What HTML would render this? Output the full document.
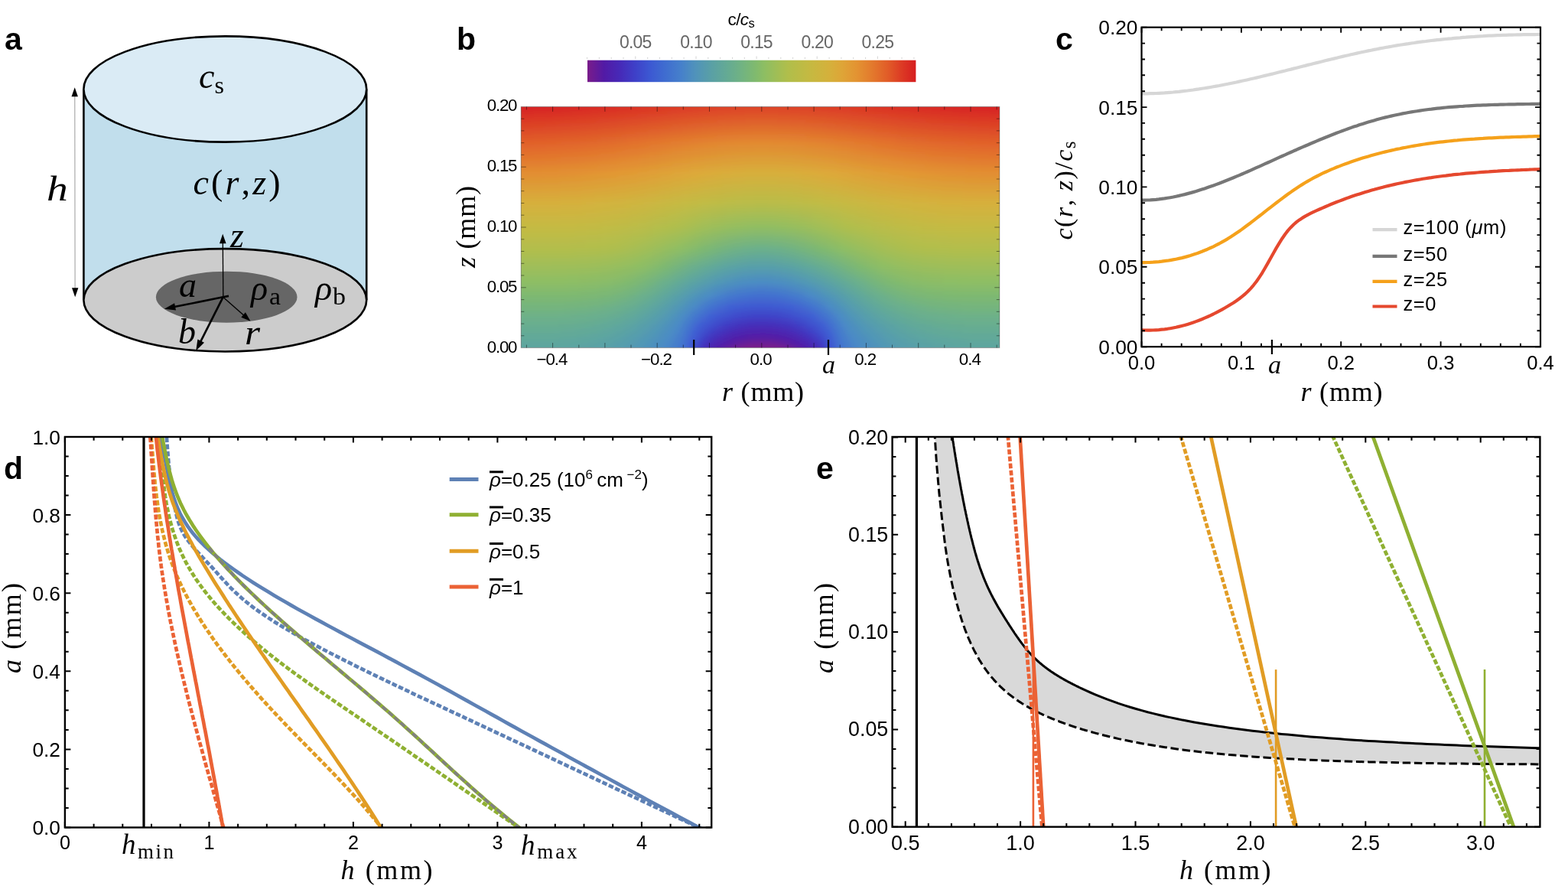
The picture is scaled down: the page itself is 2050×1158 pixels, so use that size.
<!DOCTYPE html><html><head><meta charset="utf-8"><style>html,body{margin:0;padding:0;background:#fff;overflow:hidden}svg{display:block}</style></head><body>
<svg width="2050" height="1158" viewBox="0 0 2050 1158">
<rect width="2050" height="1158" fill="#ffffff"/>
<text x="6" y="65" style="font-family:'Liberation Sans',sans-serif;font-size:41px" text-anchor="start" font-weight="bold">a</text>
<rect x="109.4" y="116.5" width="369.8" height="275.5" fill="#c1deec"/>
<line x1="109.4" y1="116.5" x2="109.4" y2="392" stroke="#000" stroke-width="2.6"/>
<line x1="479.2" y1="116.5" x2="479.2" y2="392" stroke="#000" stroke-width="2.6"/>
<ellipse cx="294.3" cy="392.3" rx="184.9" ry="67.2" fill="#cccccc" stroke="#000" stroke-width="2.6"/>
<ellipse cx="296.2" cy="388.2" rx="92.3" ry="33.5" fill="#666666"/>
<ellipse cx="294.3" cy="116.5" rx="184.9" ry="69.1" fill="#daebf5" stroke="#000" stroke-width="2.6"/>
<line x1="97.8" y1="124" x2="98.1" y2="378" stroke="#9a9a9a" stroke-width="1"/>
<path d="M97.7 114.2 L101.9 126.2 L93.5 126.2 Z" fill="#000"/>
<path d="M98.2 388.2 L94 376.2 L102.4 376.2 Z" fill="#000"/>
<line x1="291.8" y1="388.3" x2="291.3" y2="317.3" stroke="#000" stroke-width="1.3"/>
<path d="M291.2 305.8 L295.6 318.3 L287 318.3 Z" fill="#000"/>
<line x1="291.6" y1="388.3" x2="318.9" y2="412.2" stroke="#000" stroke-width="1.4"/>
<path d="M327.5 419.8 L315.3 414.8 L320.9 408.3 Z" fill="#000"/>
<line x1="291.6" y1="388.3" x2="299" y2="386.9" stroke="#000" stroke-width="2.6"/>
<line x1="291.6" y1="388.3" x2="228" y2="401.1" stroke="#000" stroke-width="2.6"/>
<path d="M214.8 403.8 L228.1 396.2 L230 405.6 Z" fill="#000"/>
<line x1="291.6" y1="388.3" x2="262.3" y2="446.4" stroke="#000" stroke-width="2.6"/>
<path d="M256.2 458.5 L258.4 443.4 L267 447.7 Z" fill="#000"/>
<text x="260" y="115" style="font-family:'Liberation Serif',serif;font-style:italic;font-size:46px" text-anchor="start" >c</text>
<text x="280.5" y="122" style="font-family:'Liberation Serif',serif;font-size:32px" text-anchor="start" >s</text>
<text transform="translate(61,262) scale(1.18,1)" x="0" y="0" style="font-family:'Liberation Serif',serif;font-style:italic;font-size:47px">h</text>
<text x="252.5" y="254" style="font-family:'Liberation Serif',serif;font-size:46px" textLength="114" lengthAdjust="spacing" ><tspan font-style="italic">c</tspan>(<tspan font-style="italic">r</tspan>,<tspan font-style="italic">z</tspan>)</text>
<text x="301" y="323" style="font-family:'Liberation Serif',serif;font-style:italic;font-size:46px" text-anchor="start" >z</text>
<text x="234" y="388" style="font-family:'Liberation Serif',serif;font-style:italic;font-size:46px" text-anchor="start" >a</text>
<text x="328" y="392" style="font-family:'Liberation Serif',serif;font-style:italic;font-size:46px" text-anchor="start" >&#961;</text>
<text x="352" y="398" style="font-family:'Liberation Serif',serif;font-size:32px" textLength="15" lengthAdjust="spacingAndGlyphs">a</text>
<text x="412" y="392" style="font-family:'Liberation Serif',serif;font-style:italic;font-size:46px" text-anchor="start" >&#961;</text>
<text x="435" y="398" style="font-family:'Liberation Serif',serif;font-size:32px" textLength="17" lengthAdjust="spacingAndGlyphs">b</text>
<text x="233" y="449" style="font-family:'Liberation Serif',serif;font-style:italic;font-size:46px" text-anchor="start" >b</text>
<text transform="translate(320,450) scale(1.12,1)" x="0" y="0" style="font-family:'Liberation Serif',serif;font-style:italic;font-size:46px">r</text>
<text x="597" y="65" style="font-family:'Liberation Sans',sans-serif;font-size:41px" text-anchor="start" font-weight="bold">b</text>
<defs><linearGradient id="cbar" x1="0" x2="1" y1="0" y2="0">
<stop offset="0.000" stop-color="#7a1c8a"/>
<stop offset="0.050" stop-color="#521aa5"/>
<stop offset="0.100" stop-color="#462ab8"/>
<stop offset="0.145" stop-color="#3e40c8"/>
<stop offset="0.190" stop-color="#3c58d2"/>
<stop offset="0.235" stop-color="#3f6cd0"/>
<stop offset="0.285" stop-color="#4680cb"/>
<stop offset="0.330" stop-color="#5093ba"/>
<stop offset="0.378" stop-color="#5aa0a5"/>
<stop offset="0.425" stop-color="#64aa94"/>
<stop offset="0.470" stop-color="#71b382"/>
<stop offset="0.512" stop-color="#80ba6e"/>
<stop offset="0.540" stop-color="#8ebe62"/>
<stop offset="0.610" stop-color="#b0be4b"/>
<stop offset="0.680" stop-color="#c6b941"/>
<stop offset="0.738" stop-color="#d5b03b"/>
<stop offset="0.775" stop-color="#dea537"/>
<stop offset="0.820" stop-color="#e39332"/>
<stop offset="0.866" stop-color="#e37a2d"/>
<stop offset="0.913" stop-color="#e15d28"/>
<stop offset="0.960" stop-color="#dc3824"/>
<stop offset="1.000" stop-color="#d61e20"/>
</linearGradient>
<linearGradient id="h0" x1="0" x2="0" y1="454.6" y2="139.4" gradientUnits="userSpaceOnUse">
<stop offset="0.000" stop-color="#5ba49f"/>
<stop offset="0.020" stop-color="#5ea69c"/>
<stop offset="0.040" stop-color="#60a899"/>
<stop offset="0.065" stop-color="#63aa94"/>
<stop offset="0.095" stop-color="#67ad8f"/>
<stop offset="0.130" stop-color="#6cb087"/>
<stop offset="0.170" stop-color="#74b47c"/>
<stop offset="0.215" stop-color="#7db870"/>
<stop offset="0.270" stop-color="#8cbd64"/>
<stop offset="0.335" stop-color="#9ebe58"/>
<stop offset="0.410" stop-color="#b2bd4a"/>
<stop offset="0.500" stop-color="#c4ba42"/>
<stop offset="0.600" stop-color="#d6af3b"/>
<stop offset="0.725" stop-color="#e28c30"/>
<stop offset="0.850" stop-color="#e15e28"/>
<stop offset="1.000" stop-color="#d61f20"/>
</linearGradient>
<linearGradient id="h1" x1="0" x2="0" y1="454.6" y2="139.4" gradientUnits="userSpaceOnUse">
<stop offset="0.000" stop-color="#5ba49f"/>
<stop offset="0.020" stop-color="#5ea69c"/>
<stop offset="0.040" stop-color="#60a899"/>
<stop offset="0.065" stop-color="#63aa94"/>
<stop offset="0.095" stop-color="#67ad8f"/>
<stop offset="0.130" stop-color="#6cb087"/>
<stop offset="0.170" stop-color="#74b47c"/>
<stop offset="0.215" stop-color="#7db870"/>
<stop offset="0.270" stop-color="#8cbd64"/>
<stop offset="0.335" stop-color="#9ebe58"/>
<stop offset="0.410" stop-color="#b2bd4a"/>
<stop offset="0.500" stop-color="#c4ba42"/>
<stop offset="0.600" stop-color="#d6af3b"/>
<stop offset="0.725" stop-color="#e28c30"/>
<stop offset="0.850" stop-color="#e15e28"/>
<stop offset="1.000" stop-color="#d61f20"/>
</linearGradient>
<linearGradient id="h2" x1="0" x2="0" y1="454.6" y2="139.4" gradientUnits="userSpaceOnUse">
<stop offset="0.000" stop-color="#5ba49f"/>
<stop offset="0.020" stop-color="#5ea69c"/>
<stop offset="0.040" stop-color="#60a899"/>
<stop offset="0.065" stop-color="#63aa94"/>
<stop offset="0.095" stop-color="#67ad8f"/>
<stop offset="0.130" stop-color="#6cb087"/>
<stop offset="0.170" stop-color="#74b47c"/>
<stop offset="0.215" stop-color="#7db870"/>
<stop offset="0.270" stop-color="#8cbd64"/>
<stop offset="0.335" stop-color="#9ebe58"/>
<stop offset="0.410" stop-color="#b2bd4a"/>
<stop offset="0.500" stop-color="#c4ba42"/>
<stop offset="0.600" stop-color="#d6af3b"/>
<stop offset="0.725" stop-color="#e28c30"/>
<stop offset="0.850" stop-color="#e15e28"/>
<stop offset="1.000" stop-color="#d61f20"/>
</linearGradient>
<linearGradient id="h3" x1="0" x2="0" y1="454.6" y2="139.4" gradientUnits="userSpaceOnUse">
<stop offset="0.000" stop-color="#5ba49f"/>
<stop offset="0.020" stop-color="#5ea69c"/>
<stop offset="0.040" stop-color="#60a899"/>
<stop offset="0.065" stop-color="#63aa94"/>
<stop offset="0.095" stop-color="#67ad8f"/>
<stop offset="0.130" stop-color="#6cb087"/>
<stop offset="0.170" stop-color="#74b47c"/>
<stop offset="0.215" stop-color="#7db870"/>
<stop offset="0.270" stop-color="#8cbd64"/>
<stop offset="0.335" stop-color="#9ebe58"/>
<stop offset="0.410" stop-color="#b2bd4a"/>
<stop offset="0.500" stop-color="#c4ba42"/>
<stop offset="0.600" stop-color="#d6af3b"/>
<stop offset="0.725" stop-color="#e28c30"/>
<stop offset="0.850" stop-color="#e15f28"/>
<stop offset="1.000" stop-color="#d62020"/>
</linearGradient>
<linearGradient id="h4" x1="0" x2="0" y1="454.6" y2="139.4" gradientUnits="userSpaceOnUse">
<stop offset="0.000" stop-color="#5ba49f"/>
<stop offset="0.020" stop-color="#5ea69c"/>
<stop offset="0.040" stop-color="#60a899"/>
<stop offset="0.065" stop-color="#63aa94"/>
<stop offset="0.095" stop-color="#67ad8f"/>
<stop offset="0.130" stop-color="#6cb087"/>
<stop offset="0.170" stop-color="#74b47c"/>
<stop offset="0.215" stop-color="#7db870"/>
<stop offset="0.270" stop-color="#8cbd64"/>
<stop offset="0.335" stop-color="#9ebe58"/>
<stop offset="0.410" stop-color="#b2bd4a"/>
<stop offset="0.500" stop-color="#c4ba42"/>
<stop offset="0.600" stop-color="#d6af3b"/>
<stop offset="0.725" stop-color="#e28c30"/>
<stop offset="0.850" stop-color="#e15f28"/>
<stop offset="1.000" stop-color="#d62020"/>
</linearGradient>
<linearGradient id="h5" x1="0" x2="0" y1="454.6" y2="139.4" gradientUnits="userSpaceOnUse">
<stop offset="0.000" stop-color="#5ba49f"/>
<stop offset="0.020" stop-color="#5ea69c"/>
<stop offset="0.040" stop-color="#60a899"/>
<stop offset="0.065" stop-color="#63aa94"/>
<stop offset="0.095" stop-color="#67ad8f"/>
<stop offset="0.130" stop-color="#6cb087"/>
<stop offset="0.170" stop-color="#74b47c"/>
<stop offset="0.215" stop-color="#7db870"/>
<stop offset="0.270" stop-color="#8cbd64"/>
<stop offset="0.335" stop-color="#9ebe58"/>
<stop offset="0.410" stop-color="#b2bd4a"/>
<stop offset="0.500" stop-color="#c4ba42"/>
<stop offset="0.600" stop-color="#d6af3b"/>
<stop offset="0.725" stop-color="#e28d30"/>
<stop offset="0.850" stop-color="#e15f28"/>
<stop offset="1.000" stop-color="#d62020"/>
</linearGradient>
<linearGradient id="h6" x1="0" x2="0" y1="454.6" y2="139.4" gradientUnits="userSpaceOnUse">
<stop offset="0.000" stop-color="#5ba49f"/>
<stop offset="0.020" stop-color="#5ea69c"/>
<stop offset="0.040" stop-color="#60a899"/>
<stop offset="0.065" stop-color="#63aa94"/>
<stop offset="0.095" stop-color="#67ad8f"/>
<stop offset="0.130" stop-color="#6cb087"/>
<stop offset="0.170" stop-color="#74b47c"/>
<stop offset="0.215" stop-color="#7db870"/>
<stop offset="0.270" stop-color="#8cbd64"/>
<stop offset="0.335" stop-color="#9ebe58"/>
<stop offset="0.410" stop-color="#b2bd4a"/>
<stop offset="0.500" stop-color="#c4ba42"/>
<stop offset="0.600" stop-color="#d6af3b"/>
<stop offset="0.725" stop-color="#e28d30"/>
<stop offset="0.850" stop-color="#e15f28"/>
<stop offset="1.000" stop-color="#d72020"/>
</linearGradient>
<linearGradient id="h7" x1="0" x2="0" y1="454.6" y2="139.4" gradientUnits="userSpaceOnUse">
<stop offset="0.000" stop-color="#5ba49f"/>
<stop offset="0.020" stop-color="#5ea69c"/>
<stop offset="0.040" stop-color="#60a899"/>
<stop offset="0.065" stop-color="#63aa94"/>
<stop offset="0.095" stop-color="#67ad8f"/>
<stop offset="0.130" stop-color="#6cb087"/>
<stop offset="0.170" stop-color="#74b47c"/>
<stop offset="0.215" stop-color="#7db870"/>
<stop offset="0.270" stop-color="#8cbd64"/>
<stop offset="0.335" stop-color="#9ebe58"/>
<stop offset="0.410" stop-color="#b2bd4a"/>
<stop offset="0.500" stop-color="#c4ba42"/>
<stop offset="0.600" stop-color="#d6af3b"/>
<stop offset="0.725" stop-color="#e28d30"/>
<stop offset="0.850" stop-color="#e16028"/>
<stop offset="1.000" stop-color="#d72120"/>
</linearGradient>
<linearGradient id="h8" x1="0" x2="0" y1="454.6" y2="139.4" gradientUnits="userSpaceOnUse">
<stop offset="0.000" stop-color="#5ba49f"/>
<stop offset="0.020" stop-color="#5ea69c"/>
<stop offset="0.040" stop-color="#60a899"/>
<stop offset="0.065" stop-color="#63aa94"/>
<stop offset="0.095" stop-color="#67ad8f"/>
<stop offset="0.130" stop-color="#6cb087"/>
<stop offset="0.170" stop-color="#74b47c"/>
<stop offset="0.215" stop-color="#7db870"/>
<stop offset="0.270" stop-color="#8cbd64"/>
<stop offset="0.335" stop-color="#9ebe58"/>
<stop offset="0.410" stop-color="#b2bd4a"/>
<stop offset="0.500" stop-color="#c4ba42"/>
<stop offset="0.600" stop-color="#d6af3b"/>
<stop offset="0.725" stop-color="#e28d30"/>
<stop offset="0.850" stop-color="#e16028"/>
<stop offset="1.000" stop-color="#d72120"/>
</linearGradient>
<linearGradient id="h9" x1="0" x2="0" y1="454.6" y2="139.4" gradientUnits="userSpaceOnUse">
<stop offset="0.000" stop-color="#5ba49f"/>
<stop offset="0.020" stop-color="#5ea69c"/>
<stop offset="0.040" stop-color="#60a899"/>
<stop offset="0.065" stop-color="#63aa94"/>
<stop offset="0.095" stop-color="#67ad8f"/>
<stop offset="0.130" stop-color="#6cb087"/>
<stop offset="0.170" stop-color="#74b47c"/>
<stop offset="0.215" stop-color="#7db870"/>
<stop offset="0.270" stop-color="#8cbd64"/>
<stop offset="0.335" stop-color="#9ebe58"/>
<stop offset="0.410" stop-color="#b2bd4a"/>
<stop offset="0.500" stop-color="#c4ba42"/>
<stop offset="0.600" stop-color="#d6af3b"/>
<stop offset="0.725" stop-color="#e28d30"/>
<stop offset="0.850" stop-color="#e16028"/>
<stop offset="1.000" stop-color="#d72120"/>
</linearGradient>
<linearGradient id="h10" x1="0" x2="0" y1="454.6" y2="139.4" gradientUnits="userSpaceOnUse">
<stop offset="0.000" stop-color="#5ba49f"/>
<stop offset="0.020" stop-color="#5ea69c"/>
<stop offset="0.040" stop-color="#60a899"/>
<stop offset="0.065" stop-color="#63aa94"/>
<stop offset="0.095" stop-color="#67ad8f"/>
<stop offset="0.130" stop-color="#6cb087"/>
<stop offset="0.170" stop-color="#74b47c"/>
<stop offset="0.215" stop-color="#7db870"/>
<stop offset="0.270" stop-color="#8cbd64"/>
<stop offset="0.335" stop-color="#9ebe58"/>
<stop offset="0.410" stop-color="#b2bd4a"/>
<stop offset="0.500" stop-color="#c4ba42"/>
<stop offset="0.600" stop-color="#d6af3b"/>
<stop offset="0.725" stop-color="#e28d30"/>
<stop offset="0.850" stop-color="#e16028"/>
<stop offset="1.000" stop-color="#d72120"/>
</linearGradient>
<linearGradient id="h11" x1="0" x2="0" y1="454.6" y2="139.4" gradientUnits="userSpaceOnUse">
<stop offset="0.000" stop-color="#5ba49f"/>
<stop offset="0.020" stop-color="#5ea69c"/>
<stop offset="0.040" stop-color="#60a899"/>
<stop offset="0.065" stop-color="#63aa94"/>
<stop offset="0.095" stop-color="#67ad8f"/>
<stop offset="0.130" stop-color="#6cb087"/>
<stop offset="0.170" stop-color="#74b47c"/>
<stop offset="0.215" stop-color="#7db870"/>
<stop offset="0.270" stop-color="#8cbd64"/>
<stop offset="0.335" stop-color="#9ebe58"/>
<stop offset="0.410" stop-color="#b2bd4a"/>
<stop offset="0.500" stop-color="#c4ba42"/>
<stop offset="0.600" stop-color="#d6af3b"/>
<stop offset="0.725" stop-color="#e28e30"/>
<stop offset="0.850" stop-color="#e16128"/>
<stop offset="1.000" stop-color="#d72221"/>
</linearGradient>
<linearGradient id="h12" x1="0" x2="0" y1="454.6" y2="139.4" gradientUnits="userSpaceOnUse">
<stop offset="0.000" stop-color="#5ba49f"/>
<stop offset="0.020" stop-color="#5ea69c"/>
<stop offset="0.040" stop-color="#60a899"/>
<stop offset="0.065" stop-color="#63aa94"/>
<stop offset="0.095" stop-color="#67ad8f"/>
<stop offset="0.130" stop-color="#6cb087"/>
<stop offset="0.170" stop-color="#74b47c"/>
<stop offset="0.215" stop-color="#7db870"/>
<stop offset="0.270" stop-color="#8cbd64"/>
<stop offset="0.335" stop-color="#9ebe58"/>
<stop offset="0.410" stop-color="#b2bd4a"/>
<stop offset="0.500" stop-color="#c4ba42"/>
<stop offset="0.600" stop-color="#d6af3b"/>
<stop offset="0.725" stop-color="#e28e30"/>
<stop offset="0.850" stop-color="#e16128"/>
<stop offset="1.000" stop-color="#d72221"/>
</linearGradient>
<linearGradient id="h13" x1="0" x2="0" y1="454.6" y2="139.4" gradientUnits="userSpaceOnUse">
<stop offset="0.000" stop-color="#5ba49f"/>
<stop offset="0.020" stop-color="#5ea69c"/>
<stop offset="0.040" stop-color="#60a899"/>
<stop offset="0.065" stop-color="#63aa94"/>
<stop offset="0.095" stop-color="#67ad8f"/>
<stop offset="0.130" stop-color="#6cb087"/>
<stop offset="0.170" stop-color="#74b47c"/>
<stop offset="0.215" stop-color="#7db870"/>
<stop offset="0.270" stop-color="#8cbd64"/>
<stop offset="0.335" stop-color="#9dbe58"/>
<stop offset="0.410" stop-color="#b2bd4a"/>
<stop offset="0.500" stop-color="#c4ba42"/>
<stop offset="0.600" stop-color="#d6af3b"/>
<stop offset="0.725" stop-color="#e28e30"/>
<stop offset="0.850" stop-color="#e16128"/>
<stop offset="1.000" stop-color="#d72221"/>
</linearGradient>
<linearGradient id="h14" x1="0" x2="0" y1="454.6" y2="139.4" gradientUnits="userSpaceOnUse">
<stop offset="0.000" stop-color="#5ba4a0"/>
<stop offset="0.020" stop-color="#5da69c"/>
<stop offset="0.040" stop-color="#60a799"/>
<stop offset="0.065" stop-color="#63aa95"/>
<stop offset="0.095" stop-color="#67ad8f"/>
<stop offset="0.130" stop-color="#6cb087"/>
<stop offset="0.170" stop-color="#74b47d"/>
<stop offset="0.215" stop-color="#7db870"/>
<stop offset="0.270" stop-color="#8cbd64"/>
<stop offset="0.335" stop-color="#9dbe58"/>
<stop offset="0.410" stop-color="#b2bd4a"/>
<stop offset="0.500" stop-color="#c4ba42"/>
<stop offset="0.600" stop-color="#d6af3b"/>
<stop offset="0.725" stop-color="#e28e30"/>
<stop offset="0.850" stop-color="#e16228"/>
<stop offset="1.000" stop-color="#d72321"/>
</linearGradient>
<linearGradient id="h15" x1="0" x2="0" y1="454.6" y2="139.4" gradientUnits="userSpaceOnUse">
<stop offset="0.000" stop-color="#5ba4a0"/>
<stop offset="0.020" stop-color="#5da69d"/>
<stop offset="0.040" stop-color="#60a799"/>
<stop offset="0.065" stop-color="#63aa95"/>
<stop offset="0.095" stop-color="#66ac8f"/>
<stop offset="0.130" stop-color="#6cb088"/>
<stop offset="0.170" stop-color="#74b47d"/>
<stop offset="0.215" stop-color="#7db870"/>
<stop offset="0.270" stop-color="#8cbd64"/>
<stop offset="0.335" stop-color="#9dbe58"/>
<stop offset="0.410" stop-color="#b2bd4a"/>
<stop offset="0.500" stop-color="#c4ba42"/>
<stop offset="0.600" stop-color="#d6af3b"/>
<stop offset="0.725" stop-color="#e28e30"/>
<stop offset="0.850" stop-color="#e16228"/>
<stop offset="1.000" stop-color="#d72321"/>
</linearGradient>
<linearGradient id="h16" x1="0" x2="0" y1="454.6" y2="139.4" gradientUnits="userSpaceOnUse">
<stop offset="0.000" stop-color="#5ba4a0"/>
<stop offset="0.020" stop-color="#5da69d"/>
<stop offset="0.040" stop-color="#5fa79a"/>
<stop offset="0.065" stop-color="#62a995"/>
<stop offset="0.095" stop-color="#66ac8f"/>
<stop offset="0.130" stop-color="#6cb088"/>
<stop offset="0.170" stop-color="#74b47d"/>
<stop offset="0.215" stop-color="#7db870"/>
<stop offset="0.270" stop-color="#8cbd64"/>
<stop offset="0.335" stop-color="#9dbe58"/>
<stop offset="0.410" stop-color="#b2bd4a"/>
<stop offset="0.500" stop-color="#c4ba42"/>
<stop offset="0.600" stop-color="#d5b03b"/>
<stop offset="0.725" stop-color="#e28f31"/>
<stop offset="0.850" stop-color="#e16229"/>
<stop offset="1.000" stop-color="#d72321"/>
</linearGradient>
<linearGradient id="h17" x1="0" x2="0" y1="454.6" y2="139.4" gradientUnits="userSpaceOnUse">
<stop offset="0.000" stop-color="#5ba4a0"/>
<stop offset="0.020" stop-color="#5da59d"/>
<stop offset="0.040" stop-color="#5fa79a"/>
<stop offset="0.065" stop-color="#62a995"/>
<stop offset="0.095" stop-color="#66ac90"/>
<stop offset="0.130" stop-color="#6bb088"/>
<stop offset="0.170" stop-color="#73b37d"/>
<stop offset="0.215" stop-color="#7db870"/>
<stop offset="0.270" stop-color="#8bbd64"/>
<stop offset="0.335" stop-color="#9dbe58"/>
<stop offset="0.410" stop-color="#b2bd4a"/>
<stop offset="0.500" stop-color="#c4ba42"/>
<stop offset="0.600" stop-color="#d5b03b"/>
<stop offset="0.725" stop-color="#e28f31"/>
<stop offset="0.850" stop-color="#e16329"/>
<stop offset="1.000" stop-color="#d72421"/>
</linearGradient>
<linearGradient id="h18" x1="0" x2="0" y1="454.6" y2="139.4" gradientUnits="userSpaceOnUse">
<stop offset="0.000" stop-color="#5ba3a1"/>
<stop offset="0.020" stop-color="#5da59e"/>
<stop offset="0.040" stop-color="#5fa79a"/>
<stop offset="0.065" stop-color="#62a996"/>
<stop offset="0.095" stop-color="#66ac90"/>
<stop offset="0.130" stop-color="#6bb088"/>
<stop offset="0.170" stop-color="#73b37d"/>
<stop offset="0.215" stop-color="#7db870"/>
<stop offset="0.270" stop-color="#8bbd65"/>
<stop offset="0.335" stop-color="#9dbd58"/>
<stop offset="0.410" stop-color="#b2bd4a"/>
<stop offset="0.500" stop-color="#c4ba42"/>
<stop offset="0.600" stop-color="#d5b03b"/>
<stop offset="0.725" stop-color="#e28f31"/>
<stop offset="0.850" stop-color="#e16329"/>
<stop offset="1.000" stop-color="#d72421"/>
</linearGradient>
<linearGradient id="h19" x1="0" x2="0" y1="454.6" y2="139.4" gradientUnits="userSpaceOnUse">
<stop offset="0.000" stop-color="#5aa3a1"/>
<stop offset="0.020" stop-color="#5ca59e"/>
<stop offset="0.040" stop-color="#5fa79b"/>
<stop offset="0.065" stop-color="#62a996"/>
<stop offset="0.095" stop-color="#66ac90"/>
<stop offset="0.130" stop-color="#6baf89"/>
<stop offset="0.170" stop-color="#73b37e"/>
<stop offset="0.215" stop-color="#7db871"/>
<stop offset="0.270" stop-color="#8bbd65"/>
<stop offset="0.335" stop-color="#9dbd58"/>
<stop offset="0.410" stop-color="#b1bd4a"/>
<stop offset="0.500" stop-color="#c4ba42"/>
<stop offset="0.600" stop-color="#d5b03b"/>
<stop offset="0.725" stop-color="#e29031"/>
<stop offset="0.850" stop-color="#e16329"/>
<stop offset="1.000" stop-color="#d72521"/>
</linearGradient>
<linearGradient id="h20" x1="0" x2="0" y1="454.6" y2="139.4" gradientUnits="userSpaceOnUse">
<stop offset="0.000" stop-color="#5aa3a2"/>
<stop offset="0.020" stop-color="#5ca59e"/>
<stop offset="0.040" stop-color="#5ea79b"/>
<stop offset="0.065" stop-color="#62a996"/>
<stop offset="0.095" stop-color="#66ac91"/>
<stop offset="0.130" stop-color="#6baf89"/>
<stop offset="0.170" stop-color="#73b37e"/>
<stop offset="0.215" stop-color="#7cb871"/>
<stop offset="0.270" stop-color="#8bbd65"/>
<stop offset="0.335" stop-color="#9dbd58"/>
<stop offset="0.410" stop-color="#b1bd4a"/>
<stop offset="0.500" stop-color="#c4ba42"/>
<stop offset="0.600" stop-color="#d5b03b"/>
<stop offset="0.725" stop-color="#e29031"/>
<stop offset="0.850" stop-color="#e16429"/>
<stop offset="1.000" stop-color="#d72521"/>
</linearGradient>
<linearGradient id="h21" x1="0" x2="0" y1="454.6" y2="139.4" gradientUnits="userSpaceOnUse">
<stop offset="0.000" stop-color="#5aa3a2"/>
<stop offset="0.020" stop-color="#5ca59f"/>
<stop offset="0.040" stop-color="#5ea69b"/>
<stop offset="0.065" stop-color="#61a997"/>
<stop offset="0.095" stop-color="#65ac91"/>
<stop offset="0.130" stop-color="#6aaf8a"/>
<stop offset="0.170" stop-color="#72b37e"/>
<stop offset="0.215" stop-color="#7cb871"/>
<stop offset="0.270" stop-color="#8bbd65"/>
<stop offset="0.335" stop-color="#9cbd58"/>
<stop offset="0.410" stop-color="#b1bd4b"/>
<stop offset="0.500" stop-color="#c3ba42"/>
<stop offset="0.600" stop-color="#d5b03b"/>
<stop offset="0.725" stop-color="#e29031"/>
<stop offset="0.850" stop-color="#e16429"/>
<stop offset="1.000" stop-color="#d82521"/>
</linearGradient>
<linearGradient id="h22" x1="0" x2="0" y1="454.6" y2="139.4" gradientUnits="userSpaceOnUse">
<stop offset="0.000" stop-color="#5aa2a2"/>
<stop offset="0.020" stop-color="#5ba49f"/>
<stop offset="0.040" stop-color="#5ea69c"/>
<stop offset="0.065" stop-color="#61a897"/>
<stop offset="0.095" stop-color="#65ab91"/>
<stop offset="0.130" stop-color="#6aaf8a"/>
<stop offset="0.170" stop-color="#72b37f"/>
<stop offset="0.215" stop-color="#7cb771"/>
<stop offset="0.270" stop-color="#8abc65"/>
<stop offset="0.335" stop-color="#9cbd59"/>
<stop offset="0.410" stop-color="#b1bd4b"/>
<stop offset="0.500" stop-color="#c3ba42"/>
<stop offset="0.600" stop-color="#d5b03b"/>
<stop offset="0.725" stop-color="#e29131"/>
<stop offset="0.850" stop-color="#e16529"/>
<stop offset="1.000" stop-color="#d82621"/>
</linearGradient>
<linearGradient id="h23" x1="0" x2="0" y1="454.6" y2="139.4" gradientUnits="userSpaceOnUse">
<stop offset="0.000" stop-color="#59a2a3"/>
<stop offset="0.020" stop-color="#5ba4a0"/>
<stop offset="0.040" stop-color="#5da69c"/>
<stop offset="0.065" stop-color="#61a898"/>
<stop offset="0.095" stop-color="#65ab92"/>
<stop offset="0.130" stop-color="#6aaf8a"/>
<stop offset="0.170" stop-color="#72b37f"/>
<stop offset="0.215" stop-color="#7cb772"/>
<stop offset="0.270" stop-color="#8abc65"/>
<stop offset="0.335" stop-color="#9cbd59"/>
<stop offset="0.410" stop-color="#b1bd4b"/>
<stop offset="0.500" stop-color="#c3ba42"/>
<stop offset="0.600" stop-color="#d4b13b"/>
<stop offset="0.725" stop-color="#e29131"/>
<stop offset="0.850" stop-color="#e16529"/>
<stop offset="1.000" stop-color="#d82621"/>
</linearGradient>
<linearGradient id="h24" x1="0" x2="0" y1="454.6" y2="139.4" gradientUnits="userSpaceOnUse">
<stop offset="0.000" stop-color="#59a2a3"/>
<stop offset="0.020" stop-color="#5ba4a0"/>
<stop offset="0.040" stop-color="#5da69d"/>
<stop offset="0.065" stop-color="#60a898"/>
<stop offset="0.095" stop-color="#64ab92"/>
<stop offset="0.130" stop-color="#69af8b"/>
<stop offset="0.170" stop-color="#72b380"/>
<stop offset="0.215" stop-color="#7bb772"/>
<stop offset="0.270" stop-color="#8abc66"/>
<stop offset="0.335" stop-color="#9cbd59"/>
<stop offset="0.410" stop-color="#b1be4b"/>
<stop offset="0.500" stop-color="#c3ba43"/>
<stop offset="0.600" stop-color="#d4b13c"/>
<stop offset="0.725" stop-color="#e29231"/>
<stop offset="0.850" stop-color="#e16629"/>
<stop offset="1.000" stop-color="#d82721"/>
</linearGradient>
<linearGradient id="h25" x1="0" x2="0" y1="454.6" y2="139.4" gradientUnits="userSpaceOnUse">
<stop offset="0.000" stop-color="#59a1a4"/>
<stop offset="0.020" stop-color="#5aa3a1"/>
<stop offset="0.040" stop-color="#5da59e"/>
<stop offset="0.065" stop-color="#60a899"/>
<stop offset="0.095" stop-color="#64ab93"/>
<stop offset="0.130" stop-color="#69ae8b"/>
<stop offset="0.170" stop-color="#71b280"/>
<stop offset="0.215" stop-color="#7bb773"/>
<stop offset="0.270" stop-color="#89bc66"/>
<stop offset="0.335" stop-color="#9bbd59"/>
<stop offset="0.410" stop-color="#b0be4b"/>
<stop offset="0.500" stop-color="#c2ba43"/>
<stop offset="0.600" stop-color="#d4b13c"/>
<stop offset="0.725" stop-color="#e29231"/>
<stop offset="0.850" stop-color="#e16629"/>
<stop offset="1.000" stop-color="#d82721"/>
</linearGradient>
<linearGradient id="h26" x1="0" x2="0" y1="454.6" y2="139.4" gradientUnits="userSpaceOnUse">
<stop offset="0.000" stop-color="#59a1a4"/>
<stop offset="0.020" stop-color="#5aa3a2"/>
<stop offset="0.040" stop-color="#5ca59e"/>
<stop offset="0.065" stop-color="#5fa799"/>
<stop offset="0.095" stop-color="#64aa93"/>
<stop offset="0.130" stop-color="#69ae8c"/>
<stop offset="0.170" stop-color="#71b281"/>
<stop offset="0.215" stop-color="#7bb773"/>
<stop offset="0.270" stop-color="#89bc66"/>
<stop offset="0.335" stop-color="#9bbd5a"/>
<stop offset="0.410" stop-color="#b0be4b"/>
<stop offset="0.500" stop-color="#c2ba43"/>
<stop offset="0.600" stop-color="#d4b13c"/>
<stop offset="0.725" stop-color="#e29331"/>
<stop offset="0.850" stop-color="#e16729"/>
<stop offset="1.000" stop-color="#d82821"/>
</linearGradient>
<linearGradient id="h27" x1="0" x2="0" y1="454.6" y2="139.4" gradientUnits="userSpaceOnUse">
<stop offset="0.000" stop-color="#58a1a5"/>
<stop offset="0.020" stop-color="#5aa3a2"/>
<stop offset="0.040" stop-color="#5ca59f"/>
<stop offset="0.065" stop-color="#5fa79a"/>
<stop offset="0.095" stop-color="#63aa94"/>
<stop offset="0.130" stop-color="#68ae8d"/>
<stop offset="0.170" stop-color="#70b282"/>
<stop offset="0.215" stop-color="#7ab774"/>
<stop offset="0.270" stop-color="#89bc67"/>
<stop offset="0.335" stop-color="#9abd5a"/>
<stop offset="0.410" stop-color="#b0be4b"/>
<stop offset="0.500" stop-color="#c2ba43"/>
<stop offset="0.600" stop-color="#d3b23c"/>
<stop offset="0.725" stop-color="#e29331"/>
<stop offset="0.850" stop-color="#e16729"/>
<stop offset="1.000" stop-color="#d82821"/>
</linearGradient>
<linearGradient id="h28" x1="0" x2="0" y1="454.6" y2="139.4" gradientUnits="userSpaceOnUse">
<stop offset="0.000" stop-color="#58a0a6"/>
<stop offset="0.020" stop-color="#59a2a3"/>
<stop offset="0.040" stop-color="#5ba4a0"/>
<stop offset="0.065" stop-color="#5ea79b"/>
<stop offset="0.095" stop-color="#63aa95"/>
<stop offset="0.130" stop-color="#68ad8d"/>
<stop offset="0.170" stop-color="#70b282"/>
<stop offset="0.215" stop-color="#7ab675"/>
<stop offset="0.270" stop-color="#88bc67"/>
<stop offset="0.335" stop-color="#9abd5a"/>
<stop offset="0.410" stop-color="#afbe4b"/>
<stop offset="0.500" stop-color="#c1ba43"/>
<stop offset="0.600" stop-color="#d3b23c"/>
<stop offset="0.725" stop-color="#e29432"/>
<stop offset="0.850" stop-color="#e16829"/>
<stop offset="1.000" stop-color="#d82922"/>
</linearGradient>
<linearGradient id="h29" x1="0" x2="0" y1="454.6" y2="139.4" gradientUnits="userSpaceOnUse">
<stop offset="0.000" stop-color="#57a0a7"/>
<stop offset="0.020" stop-color="#59a2a4"/>
<stop offset="0.040" stop-color="#5ba4a0"/>
<stop offset="0.065" stop-color="#5ea69c"/>
<stop offset="0.095" stop-color="#62a996"/>
<stop offset="0.130" stop-color="#67ad8e"/>
<stop offset="0.170" stop-color="#6fb183"/>
<stop offset="0.215" stop-color="#79b675"/>
<stop offset="0.270" stop-color="#87bb68"/>
<stop offset="0.335" stop-color="#99bd5b"/>
<stop offset="0.410" stop-color="#afbe4c"/>
<stop offset="0.500" stop-color="#c1bb43"/>
<stop offset="0.600" stop-color="#d3b23c"/>
<stop offset="0.725" stop-color="#e29432"/>
<stop offset="0.850" stop-color="#e1692a"/>
<stop offset="1.000" stop-color="#d82922"/>
</linearGradient>
<linearGradient id="h30" x1="0" x2="0" y1="454.6" y2="139.4" gradientUnits="userSpaceOnUse">
<stop offset="0.000" stop-color="#579fa7"/>
<stop offset="0.020" stop-color="#59a1a4"/>
<stop offset="0.040" stop-color="#5aa3a1"/>
<stop offset="0.065" stop-color="#5da69d"/>
<stop offset="0.095" stop-color="#61a997"/>
<stop offset="0.130" stop-color="#67ad8f"/>
<stop offset="0.170" stop-color="#6eb184"/>
<stop offset="0.215" stop-color="#78b676"/>
<stop offset="0.270" stop-color="#87bb68"/>
<stop offset="0.335" stop-color="#99bd5b"/>
<stop offset="0.410" stop-color="#afbe4c"/>
<stop offset="0.500" stop-color="#c1bb44"/>
<stop offset="0.600" stop-color="#d2b23c"/>
<stop offset="0.725" stop-color="#e29532"/>
<stop offset="0.850" stop-color="#e1692a"/>
<stop offset="1.000" stop-color="#d92a22"/>
</linearGradient>
<linearGradient id="h31" x1="0" x2="0" y1="454.6" y2="139.4" gradientUnits="userSpaceOnUse">
<stop offset="0.000" stop-color="#569fa8"/>
<stop offset="0.020" stop-color="#58a1a5"/>
<stop offset="0.040" stop-color="#5aa3a2"/>
<stop offset="0.065" stop-color="#5da59e"/>
<stop offset="0.095" stop-color="#61a898"/>
<stop offset="0.130" stop-color="#66ac90"/>
<stop offset="0.170" stop-color="#6db185"/>
<stop offset="0.215" stop-color="#78b677"/>
<stop offset="0.270" stop-color="#86bb69"/>
<stop offset="0.335" stop-color="#98bd5c"/>
<stop offset="0.410" stop-color="#aebe4c"/>
<stop offset="0.500" stop-color="#c0bb44"/>
<stop offset="0.600" stop-color="#d2b23c"/>
<stop offset="0.725" stop-color="#e29532"/>
<stop offset="0.850" stop-color="#e16a2a"/>
<stop offset="1.000" stop-color="#d92a22"/>
</linearGradient>
<linearGradient id="h32" x1="0" x2="0" y1="454.6" y2="139.4" gradientUnits="userSpaceOnUse">
<stop offset="0.000" stop-color="#569ea9"/>
<stop offset="0.020" stop-color="#58a0a6"/>
<stop offset="0.040" stop-color="#59a2a3"/>
<stop offset="0.065" stop-color="#5ca59f"/>
<stop offset="0.095" stop-color="#60a899"/>
<stop offset="0.130" stop-color="#65ac91"/>
<stop offset="0.170" stop-color="#6db086"/>
<stop offset="0.215" stop-color="#77b578"/>
<stop offset="0.270" stop-color="#85bb6a"/>
<stop offset="0.335" stop-color="#97bd5c"/>
<stop offset="0.410" stop-color="#adbe4c"/>
<stop offset="0.500" stop-color="#c0bb44"/>
<stop offset="0.600" stop-color="#d2b33c"/>
<stop offset="0.725" stop-color="#e29632"/>
<stop offset="0.850" stop-color="#e16a2a"/>
<stop offset="1.000" stop-color="#d92b22"/>
</linearGradient>
<linearGradient id="h33" x1="0" x2="0" y1="454.6" y2="139.4" gradientUnits="userSpaceOnUse">
<stop offset="0.000" stop-color="#559daa"/>
<stop offset="0.020" stop-color="#579fa7"/>
<stop offset="0.040" stop-color="#59a1a4"/>
<stop offset="0.065" stop-color="#5ba4a0"/>
<stop offset="0.095" stop-color="#5fa79a"/>
<stop offset="0.130" stop-color="#65ab92"/>
<stop offset="0.170" stop-color="#6cb088"/>
<stop offset="0.215" stop-color="#76b579"/>
<stop offset="0.270" stop-color="#84ba6a"/>
<stop offset="0.335" stop-color="#96bd5d"/>
<stop offset="0.410" stop-color="#adbe4d"/>
<stop offset="0.500" stop-color="#bfbb44"/>
<stop offset="0.600" stop-color="#d1b33d"/>
<stop offset="0.725" stop-color="#e29632"/>
<stop offset="0.850" stop-color="#e16b2a"/>
<stop offset="1.000" stop-color="#d92b22"/>
</linearGradient>
<linearGradient id="h34" x1="0" x2="0" y1="454.6" y2="139.4" gradientUnits="userSpaceOnUse">
<stop offset="0.000" stop-color="#559dac"/>
<stop offset="0.020" stop-color="#569ea8"/>
<stop offset="0.040" stop-color="#58a1a5"/>
<stop offset="0.065" stop-color="#5aa3a1"/>
<stop offset="0.095" stop-color="#5ea79b"/>
<stop offset="0.130" stop-color="#64aa93"/>
<stop offset="0.170" stop-color="#6baf89"/>
<stop offset="0.215" stop-color="#75b47b"/>
<stop offset="0.270" stop-color="#83ba6b"/>
<stop offset="0.335" stop-color="#95bd5d"/>
<stop offset="0.410" stop-color="#acbe4e"/>
<stop offset="0.500" stop-color="#bfbb44"/>
<stop offset="0.600" stop-color="#d1b33d"/>
<stop offset="0.725" stop-color="#e29732"/>
<stop offset="0.850" stop-color="#e16c2a"/>
<stop offset="1.000" stop-color="#d92c22"/>
</linearGradient>
<linearGradient id="h35" x1="0" x2="0" y1="454.6" y2="139.4" gradientUnits="userSpaceOnUse">
<stop offset="0.000" stop-color="#549cad"/>
<stop offset="0.020" stop-color="#569eaa"/>
<stop offset="0.040" stop-color="#57a0a6"/>
<stop offset="0.065" stop-color="#5aa3a2"/>
<stop offset="0.095" stop-color="#5ea69c"/>
<stop offset="0.130" stop-color="#63aa94"/>
<stop offset="0.170" stop-color="#6aaf8a"/>
<stop offset="0.215" stop-color="#74b47c"/>
<stop offset="0.270" stop-color="#82ba6c"/>
<stop offset="0.335" stop-color="#94bd5e"/>
<stop offset="0.410" stop-color="#abbe4e"/>
<stop offset="0.500" stop-color="#bebb45"/>
<stop offset="0.600" stop-color="#d1b33d"/>
<stop offset="0.725" stop-color="#e29833"/>
<stop offset="0.850" stop-color="#e16d2a"/>
<stop offset="1.000" stop-color="#d92d22"/>
</linearGradient>
<linearGradient id="h36" x1="0" x2="0" y1="454.6" y2="139.4" gradientUnits="userSpaceOnUse">
<stop offset="0.000" stop-color="#539bae"/>
<stop offset="0.020" stop-color="#559dab"/>
<stop offset="0.040" stop-color="#579fa8"/>
<stop offset="0.065" stop-color="#59a2a3"/>
<stop offset="0.095" stop-color="#5da59e"/>
<stop offset="0.130" stop-color="#62a996"/>
<stop offset="0.170" stop-color="#69ae8c"/>
<stop offset="0.215" stop-color="#73b37e"/>
<stop offset="0.270" stop-color="#81b96d"/>
<stop offset="0.335" stop-color="#93bd5f"/>
<stop offset="0.410" stop-color="#aabe4f"/>
<stop offset="0.500" stop-color="#bdbb45"/>
<stop offset="0.600" stop-color="#d0b33d"/>
<stop offset="0.725" stop-color="#e19833"/>
<stop offset="0.850" stop-color="#e16d2a"/>
<stop offset="1.000" stop-color="#d92d22"/>
</linearGradient>
<linearGradient id="h37" x1="0" x2="0" y1="454.6" y2="139.4" gradientUnits="userSpaceOnUse">
<stop offset="0.000" stop-color="#539aaf"/>
<stop offset="0.020" stop-color="#549cac"/>
<stop offset="0.040" stop-color="#569ea9"/>
<stop offset="0.065" stop-color="#58a1a5"/>
<stop offset="0.095" stop-color="#5ca49f"/>
<stop offset="0.130" stop-color="#61a897"/>
<stop offset="0.170" stop-color="#68ad8d"/>
<stop offset="0.215" stop-color="#72b37f"/>
<stop offset="0.270" stop-color="#7fb96e"/>
<stop offset="0.335" stop-color="#92bd60"/>
<stop offset="0.410" stop-color="#a9be50"/>
<stop offset="0.500" stop-color="#bdbb45"/>
<stop offset="0.600" stop-color="#d0b43d"/>
<stop offset="0.725" stop-color="#e19933"/>
<stop offset="0.850" stop-color="#e26e2b"/>
<stop offset="1.000" stop-color="#d92e22"/>
</linearGradient>
<linearGradient id="h38" x1="0" x2="0" y1="454.6" y2="139.4" gradientUnits="userSpaceOnUse">
<stop offset="0.000" stop-color="#5299b1"/>
<stop offset="0.020" stop-color="#539bae"/>
<stop offset="0.040" stop-color="#559dab"/>
<stop offset="0.065" stop-color="#58a0a6"/>
<stop offset="0.095" stop-color="#5ba4a1"/>
<stop offset="0.130" stop-color="#60a899"/>
<stop offset="0.170" stop-color="#67ad8f"/>
<stop offset="0.215" stop-color="#70b281"/>
<stop offset="0.270" stop-color="#7eb86f"/>
<stop offset="0.335" stop-color="#91bd60"/>
<stop offset="0.410" stop-color="#a8be51"/>
<stop offset="0.500" stop-color="#bcbb46"/>
<stop offset="0.600" stop-color="#cfb43d"/>
<stop offset="0.725" stop-color="#e19933"/>
<stop offset="0.850" stop-color="#e26f2b"/>
<stop offset="1.000" stop-color="#d92e22"/>
</linearGradient>
<linearGradient id="h39" x1="0" x2="0" y1="454.6" y2="139.4" gradientUnits="userSpaceOnUse">
<stop offset="0.000" stop-color="#5198b2"/>
<stop offset="0.020" stop-color="#539aaf"/>
<stop offset="0.040" stop-color="#549cac"/>
<stop offset="0.065" stop-color="#579fa8"/>
<stop offset="0.095" stop-color="#5aa3a2"/>
<stop offset="0.130" stop-color="#5fa79a"/>
<stop offset="0.170" stop-color="#66ac90"/>
<stop offset="0.215" stop-color="#6fb183"/>
<stop offset="0.270" stop-color="#7db871"/>
<stop offset="0.335" stop-color="#90bd61"/>
<stop offset="0.410" stop-color="#a6be51"/>
<stop offset="0.500" stop-color="#bbbc46"/>
<stop offset="0.600" stop-color="#cfb43e"/>
<stop offset="0.725" stop-color="#e19a33"/>
<stop offset="0.850" stop-color="#e2702b"/>
<stop offset="1.000" stop-color="#da2f22"/>
</linearGradient>
<linearGradient id="h40" x1="0" x2="0" y1="454.6" y2="139.4" gradientUnits="userSpaceOnUse">
<stop offset="0.000" stop-color="#5097b4"/>
<stop offset="0.020" stop-color="#5299b1"/>
<stop offset="0.040" stop-color="#539bae"/>
<stop offset="0.065" stop-color="#569ea9"/>
<stop offset="0.095" stop-color="#59a2a4"/>
<stop offset="0.130" stop-color="#5ea69c"/>
<stop offset="0.170" stop-color="#65ab92"/>
<stop offset="0.215" stop-color="#6db185"/>
<stop offset="0.270" stop-color="#7bb773"/>
<stop offset="0.335" stop-color="#8ebd62"/>
<stop offset="0.410" stop-color="#a5be52"/>
<stop offset="0.500" stop-color="#bbbc46"/>
<stop offset="0.600" stop-color="#ceb43e"/>
<stop offset="0.725" stop-color="#e19a33"/>
<stop offset="0.850" stop-color="#e2702b"/>
<stop offset="1.000" stop-color="#da2f22"/>
</linearGradient>
<linearGradient id="h41" x1="0" x2="0" y1="454.6" y2="139.4" gradientUnits="userSpaceOnUse">
<stop offset="0.000" stop-color="#4f96b6"/>
<stop offset="0.020" stop-color="#5198b3"/>
<stop offset="0.040" stop-color="#529ab0"/>
<stop offset="0.065" stop-color="#559dab"/>
<stop offset="0.095" stop-color="#58a0a6"/>
<stop offset="0.130" stop-color="#5ca59e"/>
<stop offset="0.170" stop-color="#63aa94"/>
<stop offset="0.215" stop-color="#6cb088"/>
<stop offset="0.270" stop-color="#7ab675"/>
<stop offset="0.335" stop-color="#8dbd63"/>
<stop offset="0.410" stop-color="#a4be53"/>
<stop offset="0.500" stop-color="#babc47"/>
<stop offset="0.600" stop-color="#ceb53e"/>
<stop offset="0.725" stop-color="#e19b34"/>
<stop offset="0.850" stop-color="#e2712b"/>
<stop offset="1.000" stop-color="#da3023"/>
</linearGradient>
<linearGradient id="h42" x1="0" x2="0" y1="454.6" y2="139.4" gradientUnits="userSpaceOnUse">
<stop offset="0.000" stop-color="#4f94b7"/>
<stop offset="0.020" stop-color="#5097b5"/>
<stop offset="0.040" stop-color="#5199b1"/>
<stop offset="0.065" stop-color="#549cad"/>
<stop offset="0.095" stop-color="#579fa7"/>
<stop offset="0.130" stop-color="#5ba4a0"/>
<stop offset="0.170" stop-color="#62a996"/>
<stop offset="0.215" stop-color="#6aaf8a"/>
<stop offset="0.270" stop-color="#78b677"/>
<stop offset="0.335" stop-color="#8bbd64"/>
<stop offset="0.410" stop-color="#a2be54"/>
<stop offset="0.500" stop-color="#b9bc47"/>
<stop offset="0.600" stop-color="#cdb53e"/>
<stop offset="0.725" stop-color="#e09c34"/>
<stop offset="0.850" stop-color="#e2722b"/>
<stop offset="1.000" stop-color="#da3123"/>
</linearGradient>
<linearGradient id="h43" x1="0" x2="0" y1="454.6" y2="139.4" gradientUnits="userSpaceOnUse">
<stop offset="0.000" stop-color="#4e93b9"/>
<stop offset="0.020" stop-color="#4f95b6"/>
<stop offset="0.040" stop-color="#5097b3"/>
<stop offset="0.065" stop-color="#539aaf"/>
<stop offset="0.095" stop-color="#569ea9"/>
<stop offset="0.130" stop-color="#5aa3a2"/>
<stop offset="0.170" stop-color="#60a898"/>
<stop offset="0.215" stop-color="#69ae8c"/>
<stop offset="0.270" stop-color="#76b579"/>
<stop offset="0.335" stop-color="#8abc66"/>
<stop offset="0.410" stop-color="#a1be55"/>
<stop offset="0.500" stop-color="#b8bc47"/>
<stop offset="0.600" stop-color="#cdb53f"/>
<stop offset="0.725" stop-color="#e09c34"/>
<stop offset="0.850" stop-color="#e2732b"/>
<stop offset="1.000" stop-color="#da3123"/>
</linearGradient>
<linearGradient id="h44" x1="0" x2="0" y1="454.6" y2="139.4" gradientUnits="userSpaceOnUse">
<stop offset="0.000" stop-color="#4d91bb"/>
<stop offset="0.020" stop-color="#4e94b8"/>
<stop offset="0.040" stop-color="#4f96b5"/>
<stop offset="0.065" stop-color="#5299b1"/>
<stop offset="0.095" stop-color="#559dab"/>
<stop offset="0.130" stop-color="#59a1a4"/>
<stop offset="0.170" stop-color="#5fa79a"/>
<stop offset="0.215" stop-color="#67ad8e"/>
<stop offset="0.270" stop-color="#74b47c"/>
<stop offset="0.335" stop-color="#88bc67"/>
<stop offset="0.410" stop-color="#9fbe56"/>
<stop offset="0.500" stop-color="#b7bc48"/>
<stop offset="0.600" stop-color="#ccb63f"/>
<stop offset="0.725" stop-color="#e09d34"/>
<stop offset="0.850" stop-color="#e2742b"/>
<stop offset="1.000" stop-color="#da3223"/>
</linearGradient>
<linearGradient id="h45" x1="0" x2="0" y1="454.6" y2="139.4" gradientUnits="userSpaceOnUse">
<stop offset="0.000" stop-color="#4c90bd"/>
<stop offset="0.020" stop-color="#4d92ba"/>
<stop offset="0.040" stop-color="#4f94b7"/>
<stop offset="0.065" stop-color="#5097b3"/>
<stop offset="0.095" stop-color="#549bae"/>
<stop offset="0.130" stop-color="#58a0a6"/>
<stop offset="0.170" stop-color="#5da69d"/>
<stop offset="0.215" stop-color="#66ac90"/>
<stop offset="0.270" stop-color="#72b37e"/>
<stop offset="0.335" stop-color="#86bb69"/>
<stop offset="0.410" stop-color="#9ebe57"/>
<stop offset="0.500" stop-color="#b6bc48"/>
<stop offset="0.600" stop-color="#ccb63f"/>
<stop offset="0.725" stop-color="#e09e35"/>
<stop offset="0.850" stop-color="#e2752c"/>
<stop offset="1.000" stop-color="#da3323"/>
</linearGradient>
<linearGradient id="h46" x1="0" x2="0" y1="454.6" y2="139.4" gradientUnits="userSpaceOnUse">
<stop offset="0.000" stop-color="#4b8ebf"/>
<stop offset="0.020" stop-color="#4c90bc"/>
<stop offset="0.040" stop-color="#4e93b9"/>
<stop offset="0.065" stop-color="#4f96b5"/>
<stop offset="0.095" stop-color="#529ab0"/>
<stop offset="0.130" stop-color="#569fa8"/>
<stop offset="0.170" stop-color="#5ca49f"/>
<stop offset="0.215" stop-color="#64ab93"/>
<stop offset="0.270" stop-color="#71b281"/>
<stop offset="0.335" stop-color="#84ba6b"/>
<stop offset="0.410" stop-color="#9cbd59"/>
<stop offset="0.500" stop-color="#b5bd49"/>
<stop offset="0.600" stop-color="#cbb63f"/>
<stop offset="0.725" stop-color="#e09e35"/>
<stop offset="0.850" stop-color="#e2752c"/>
<stop offset="1.000" stop-color="#db3323"/>
</linearGradient>
<linearGradient id="h47" x1="0" x2="0" y1="454.6" y2="139.4" gradientUnits="userSpaceOnUse">
<stop offset="0.000" stop-color="#4a8cc1"/>
<stop offset="0.020" stop-color="#4b8ebe"/>
<stop offset="0.040" stop-color="#4d91bb"/>
<stop offset="0.065" stop-color="#4e94b8"/>
<stop offset="0.095" stop-color="#5198b2"/>
<stop offset="0.130" stop-color="#559dab"/>
<stop offset="0.170" stop-color="#5aa3a1"/>
<stop offset="0.215" stop-color="#62a995"/>
<stop offset="0.270" stop-color="#6eb184"/>
<stop offset="0.335" stop-color="#82ba6c"/>
<stop offset="0.410" stop-color="#9abd5a"/>
<stop offset="0.500" stop-color="#b4bd49"/>
<stop offset="0.600" stop-color="#cab73f"/>
<stop offset="0.725" stop-color="#df9f35"/>
<stop offset="0.850" stop-color="#e2762c"/>
<stop offset="1.000" stop-color="#db3423"/>
</linearGradient>
<linearGradient id="h48" x1="0" x2="0" y1="454.6" y2="139.4" gradientUnits="userSpaceOnUse">
<stop offset="0.000" stop-color="#498ac3"/>
<stop offset="0.020" stop-color="#4a8cc1"/>
<stop offset="0.040" stop-color="#4c8fbe"/>
<stop offset="0.065" stop-color="#4d92ba"/>
<stop offset="0.095" stop-color="#5096b5"/>
<stop offset="0.130" stop-color="#549bad"/>
<stop offset="0.170" stop-color="#59a1a4"/>
<stop offset="0.215" stop-color="#61a898"/>
<stop offset="0.270" stop-color="#6cb087"/>
<stop offset="0.335" stop-color="#7fb96e"/>
<stop offset="0.410" stop-color="#99bd5b"/>
<stop offset="0.500" stop-color="#b3bd4a"/>
<stop offset="0.600" stop-color="#cab740"/>
<stop offset="0.725" stop-color="#dfa035"/>
<stop offset="0.850" stop-color="#e2772c"/>
<stop offset="1.000" stop-color="#db3423"/>
</linearGradient>
<linearGradient id="h49" x1="0" x2="0" y1="454.6" y2="139.4" gradientUnits="userSpaceOnUse">
<stop offset="0.000" stop-color="#4888c6"/>
<stop offset="0.020" stop-color="#498ac3"/>
<stop offset="0.040" stop-color="#4b8dc0"/>
<stop offset="0.065" stop-color="#4c90bc"/>
<stop offset="0.095" stop-color="#4f94b7"/>
<stop offset="0.130" stop-color="#529ab0"/>
<stop offset="0.170" stop-color="#58a0a6"/>
<stop offset="0.215" stop-color="#5fa79b"/>
<stop offset="0.270" stop-color="#6aaf8a"/>
<stop offset="0.335" stop-color="#7db870"/>
<stop offset="0.410" stop-color="#97bd5c"/>
<stop offset="0.500" stop-color="#b2bd4a"/>
<stop offset="0.600" stop-color="#c9b740"/>
<stop offset="0.725" stop-color="#dfa136"/>
<stop offset="0.850" stop-color="#e2782c"/>
<stop offset="1.000" stop-color="#db3523"/>
</linearGradient>
<linearGradient id="h50" x1="0" x2="0" y1="454.6" y2="139.4" gradientUnits="userSpaceOnUse">
<stop offset="0.000" stop-color="#4786c7"/>
<stop offset="0.020" stop-color="#4888c6"/>
<stop offset="0.040" stop-color="#498bc3"/>
<stop offset="0.065" stop-color="#4b8ebf"/>
<stop offset="0.095" stop-color="#4d92ba"/>
<stop offset="0.130" stop-color="#5198b3"/>
<stop offset="0.170" stop-color="#569ea9"/>
<stop offset="0.215" stop-color="#5da59d"/>
<stop offset="0.270" stop-color="#68ae8c"/>
<stop offset="0.335" stop-color="#7bb772"/>
<stop offset="0.410" stop-color="#95bd5e"/>
<stop offset="0.500" stop-color="#b1bd4a"/>
<stop offset="0.600" stop-color="#c8b840"/>
<stop offset="0.725" stop-color="#dfa136"/>
<stop offset="0.850" stop-color="#e2792c"/>
<stop offset="1.000" stop-color="#db3623"/>
</linearGradient>
<linearGradient id="h51" x1="0" x2="0" y1="454.6" y2="139.4" gradientUnits="userSpaceOnUse">
<stop offset="0.000" stop-color="#4682c8"/>
<stop offset="0.020" stop-color="#4785c7"/>
<stop offset="0.040" stop-color="#4888c5"/>
<stop offset="0.065" stop-color="#4a8cc2"/>
<stop offset="0.095" stop-color="#4c90bd"/>
<stop offset="0.130" stop-color="#4f96b6"/>
<stop offset="0.170" stop-color="#559cac"/>
<stop offset="0.215" stop-color="#5ba4a0"/>
<stop offset="0.270" stop-color="#67ad8f"/>
<stop offset="0.335" stop-color="#79b675"/>
<stop offset="0.410" stop-color="#93bd5f"/>
<stop offset="0.500" stop-color="#b0be4b"/>
<stop offset="0.600" stop-color="#c8b840"/>
<stop offset="0.725" stop-color="#dfa236"/>
<stop offset="0.850" stop-color="#e27a2c"/>
<stop offset="1.000" stop-color="#db3623"/>
</linearGradient>
<linearGradient id="h52" x1="0" x2="0" y1="454.6" y2="139.4" gradientUnits="userSpaceOnUse">
<stop offset="0.000" stop-color="#457fca"/>
<stop offset="0.020" stop-color="#4682c8"/>
<stop offset="0.040" stop-color="#4785c7"/>
<stop offset="0.065" stop-color="#4989c5"/>
<stop offset="0.095" stop-color="#4b8dbf"/>
<stop offset="0.130" stop-color="#4e93b9"/>
<stop offset="0.170" stop-color="#539aaf"/>
<stop offset="0.215" stop-color="#59a2a3"/>
<stop offset="0.270" stop-color="#65ab91"/>
<stop offset="0.335" stop-color="#77b578"/>
<stop offset="0.410" stop-color="#92bd60"/>
<stop offset="0.500" stop-color="#afbe4b"/>
<stop offset="0.600" stop-color="#c7b841"/>
<stop offset="0.725" stop-color="#dea336"/>
<stop offset="0.850" stop-color="#e27b2d"/>
<stop offset="1.000" stop-color="#db3724"/>
</linearGradient>
<linearGradient id="h53" x1="0" x2="0" y1="454.6" y2="139.4" gradientUnits="userSpaceOnUse">
<stop offset="0.000" stop-color="#447ccb"/>
<stop offset="0.020" stop-color="#457eca"/>
<stop offset="0.040" stop-color="#4681c9"/>
<stop offset="0.065" stop-color="#4786c7"/>
<stop offset="0.095" stop-color="#498bc3"/>
<stop offset="0.130" stop-color="#4d91bc"/>
<stop offset="0.170" stop-color="#5198b2"/>
<stop offset="0.215" stop-color="#58a0a5"/>
<stop offset="0.270" stop-color="#63aa94"/>
<stop offset="0.335" stop-color="#75b47b"/>
<stop offset="0.410" stop-color="#90bd61"/>
<stop offset="0.500" stop-color="#aebe4c"/>
<stop offset="0.600" stop-color="#c7b941"/>
<stop offset="0.725" stop-color="#dea437"/>
<stop offset="0.850" stop-color="#e27c2d"/>
<stop offset="1.000" stop-color="#db3724"/>
</linearGradient>
<linearGradient id="h54" x1="0" x2="0" y1="454.6" y2="139.4" gradientUnits="userSpaceOnUse">
<stop offset="0.000" stop-color="#4377cd"/>
<stop offset="0.020" stop-color="#447acc"/>
<stop offset="0.040" stop-color="#457dca"/>
<stop offset="0.065" stop-color="#4682c9"/>
<stop offset="0.095" stop-color="#4888c6"/>
<stop offset="0.130" stop-color="#4b8ebf"/>
<stop offset="0.170" stop-color="#5096b5"/>
<stop offset="0.215" stop-color="#569fa8"/>
<stop offset="0.270" stop-color="#61a997"/>
<stop offset="0.335" stop-color="#73b37d"/>
<stop offset="0.410" stop-color="#8ebd63"/>
<stop offset="0.500" stop-color="#adbe4d"/>
<stop offset="0.600" stop-color="#c6b941"/>
<stop offset="0.725" stop-color="#dea437"/>
<stop offset="0.850" stop-color="#e27c2d"/>
<stop offset="1.000" stop-color="#dc3824"/>
</linearGradient>
<linearGradient id="h55" x1="0" x2="0" y1="454.6" y2="139.4" gradientUnits="userSpaceOnUse">
<stop offset="0.000" stop-color="#4272ce"/>
<stop offset="0.020" stop-color="#4275ce"/>
<stop offset="0.040" stop-color="#4378cc"/>
<stop offset="0.065" stop-color="#457dcb"/>
<stop offset="0.095" stop-color="#4683c8"/>
<stop offset="0.130" stop-color="#498bc3"/>
<stop offset="0.170" stop-color="#4e94b8"/>
<stop offset="0.215" stop-color="#559dab"/>
<stop offset="0.270" stop-color="#60a799"/>
<stop offset="0.335" stop-color="#71b280"/>
<stop offset="0.410" stop-color="#8cbd64"/>
<stop offset="0.500" stop-color="#abbe4e"/>
<stop offset="0.600" stop-color="#c5b942"/>
<stop offset="0.725" stop-color="#dea537"/>
<stop offset="0.850" stop-color="#e27d2d"/>
<stop offset="1.000" stop-color="#dc3924"/>
</linearGradient>
<linearGradient id="h56" x1="0" x2="0" y1="454.6" y2="139.4" gradientUnits="userSpaceOnUse">
<stop offset="0.000" stop-color="#406bd0"/>
<stop offset="0.020" stop-color="#416ecf"/>
<stop offset="0.040" stop-color="#4272ce"/>
<stop offset="0.065" stop-color="#4377cd"/>
<stop offset="0.095" stop-color="#457eca"/>
<stop offset="0.130" stop-color="#4887c6"/>
<stop offset="0.170" stop-color="#4d91bb"/>
<stop offset="0.215" stop-color="#539bae"/>
<stop offset="0.270" stop-color="#5ea69c"/>
<stop offset="0.335" stop-color="#6fb183"/>
<stop offset="0.410" stop-color="#8abc66"/>
<stop offset="0.500" stop-color="#aabe4f"/>
<stop offset="0.600" stop-color="#c5ba42"/>
<stop offset="0.725" stop-color="#dea637"/>
<stop offset="0.850" stop-color="#e27e2d"/>
<stop offset="1.000" stop-color="#dc3924"/>
</linearGradient>
<linearGradient id="h57" x1="0" x2="0" y1="454.6" y2="139.4" gradientUnits="userSpaceOnUse">
<stop offset="0.000" stop-color="#3f63d1"/>
<stop offset="0.020" stop-color="#3f66d1"/>
<stop offset="0.040" stop-color="#406ad0"/>
<stop offset="0.065" stop-color="#4170cf"/>
<stop offset="0.095" stop-color="#4378cc"/>
<stop offset="0.130" stop-color="#4683c8"/>
<stop offset="0.170" stop-color="#4b8ebf"/>
<stop offset="0.215" stop-color="#5299b1"/>
<stop offset="0.270" stop-color="#5ca59f"/>
<stop offset="0.335" stop-color="#6db086"/>
<stop offset="0.410" stop-color="#88bc67"/>
<stop offset="0.500" stop-color="#a8be50"/>
<stop offset="0.600" stop-color="#c4ba42"/>
<stop offset="0.725" stop-color="#dda637"/>
<stop offset="0.850" stop-color="#e27f2d"/>
<stop offset="1.000" stop-color="#dc3a24"/>
</linearGradient>
<linearGradient id="h58" x1="0" x2="0" y1="454.6" y2="139.4" gradientUnits="userSpaceOnUse">
<stop offset="0.000" stop-color="#3e59d1"/>
<stop offset="0.020" stop-color="#3e5dd2"/>
<stop offset="0.040" stop-color="#3f62d1"/>
<stop offset="0.065" stop-color="#4069d0"/>
<stop offset="0.095" stop-color="#4272ce"/>
<stop offset="0.130" stop-color="#457eca"/>
<stop offset="0.170" stop-color="#4a8bc2"/>
<stop offset="0.215" stop-color="#5097b4"/>
<stop offset="0.270" stop-color="#5aa3a1"/>
<stop offset="0.335" stop-color="#6baf89"/>
<stop offset="0.410" stop-color="#86bb69"/>
<stop offset="0.500" stop-color="#a7be51"/>
<stop offset="0.600" stop-color="#c3ba42"/>
<stop offset="0.725" stop-color="#dda738"/>
<stop offset="0.850" stop-color="#e27f2d"/>
<stop offset="1.000" stop-color="#dc3a24"/>
</linearGradient>
<linearGradient id="h59" x1="0" x2="0" y1="454.6" y2="139.4" gradientUnits="userSpaceOnUse">
<stop offset="0.000" stop-color="#3e50ce"/>
<stop offset="0.020" stop-color="#3e55cf"/>
<stop offset="0.040" stop-color="#3e5ad1"/>
<stop offset="0.065" stop-color="#3e61d2"/>
<stop offset="0.095" stop-color="#406bd0"/>
<stop offset="0.130" stop-color="#4379cc"/>
<stop offset="0.170" stop-color="#4888c5"/>
<stop offset="0.215" stop-color="#4f95b7"/>
<stop offset="0.270" stop-color="#59a2a3"/>
<stop offset="0.335" stop-color="#69ae8b"/>
<stop offset="0.410" stop-color="#84ba6b"/>
<stop offset="0.500" stop-color="#a5be52"/>
<stop offset="0.600" stop-color="#c2ba43"/>
<stop offset="0.725" stop-color="#dda838"/>
<stop offset="0.850" stop-color="#e2802e"/>
<stop offset="1.000" stop-color="#dc3b24"/>
</linearGradient>
<linearGradient id="h60" x1="0" x2="0" y1="454.6" y2="139.4" gradientUnits="userSpaceOnUse">
<stop offset="0.000" stop-color="#3e44c8"/>
<stop offset="0.020" stop-color="#3e4ccc"/>
<stop offset="0.040" stop-color="#3e53cf"/>
<stop offset="0.065" stop-color="#3e5ad1"/>
<stop offset="0.095" stop-color="#3f65d1"/>
<stop offset="0.130" stop-color="#4274ce"/>
<stop offset="0.170" stop-color="#4785c7"/>
<stop offset="0.215" stop-color="#4e92ba"/>
<stop offset="0.270" stop-color="#58a0a6"/>
<stop offset="0.335" stop-color="#68ad8d"/>
<stop offset="0.410" stop-color="#82ba6c"/>
<stop offset="0.500" stop-color="#a3be53"/>
<stop offset="0.600" stop-color="#c2ba43"/>
<stop offset="0.725" stop-color="#dda838"/>
<stop offset="0.850" stop-color="#e2812e"/>
<stop offset="1.000" stop-color="#dc3b24"/>
</linearGradient>
<linearGradient id="h61" x1="0" x2="0" y1="454.6" y2="139.4" gradientUnits="userSpaceOnUse">
<stop offset="0.000" stop-color="#3f39c2"/>
<stop offset="0.020" stop-color="#3e42c7"/>
<stop offset="0.040" stop-color="#3e4bcb"/>
<stop offset="0.065" stop-color="#3e54cf"/>
<stop offset="0.095" stop-color="#3e5fd2"/>
<stop offset="0.130" stop-color="#416fcf"/>
<stop offset="0.170" stop-color="#4680c9"/>
<stop offset="0.215" stop-color="#4c90bc"/>
<stop offset="0.270" stop-color="#579fa8"/>
<stop offset="0.335" stop-color="#66ac90"/>
<stop offset="0.410" stop-color="#7fb96e"/>
<stop offset="0.500" stop-color="#a2be55"/>
<stop offset="0.600" stop-color="#c1bb43"/>
<stop offset="0.725" stop-color="#dca938"/>
<stop offset="0.850" stop-color="#e2812e"/>
<stop offset="1.000" stop-color="#dc3c24"/>
</linearGradient>
<linearGradient id="h62" x1="0" x2="0" y1="454.6" y2="139.4" gradientUnits="userSpaceOnUse">
<stop offset="0.000" stop-color="#4331bb"/>
<stop offset="0.020" stop-color="#3f39c2"/>
<stop offset="0.040" stop-color="#3e43c7"/>
<stop offset="0.065" stop-color="#3e4fcd"/>
<stop offset="0.095" stop-color="#3e5ad1"/>
<stop offset="0.130" stop-color="#406ad0"/>
<stop offset="0.170" stop-color="#457ccb"/>
<stop offset="0.215" stop-color="#4b8ebf"/>
<stop offset="0.270" stop-color="#559daa"/>
<stop offset="0.335" stop-color="#65ab92"/>
<stop offset="0.410" stop-color="#7db870"/>
<stop offset="0.500" stop-color="#a0be56"/>
<stop offset="0.600" stop-color="#c0bb44"/>
<stop offset="0.725" stop-color="#dca938"/>
<stop offset="0.850" stop-color="#e2822e"/>
<stop offset="1.000" stop-color="#dc3d24"/>
</linearGradient>
<linearGradient id="h63" x1="0" x2="0" y1="454.6" y2="139.4" gradientUnits="userSpaceOnUse">
<stop offset="0.000" stop-color="#462ab6"/>
<stop offset="0.020" stop-color="#4233bd"/>
<stop offset="0.040" stop-color="#3e3cc4"/>
<stop offset="0.065" stop-color="#3e49ca"/>
<stop offset="0.095" stop-color="#3e56d0"/>
<stop offset="0.130" stop-color="#3f65d1"/>
<stop offset="0.170" stop-color="#4378cc"/>
<stop offset="0.215" stop-color="#4a8cc2"/>
<stop offset="0.270" stop-color="#549cad"/>
<stop offset="0.335" stop-color="#63aa94"/>
<stop offset="0.410" stop-color="#7cb772"/>
<stop offset="0.500" stop-color="#9fbe57"/>
<stop offset="0.600" stop-color="#c0bb44"/>
<stop offset="0.725" stop-color="#dbaa39"/>
<stop offset="0.850" stop-color="#e2832e"/>
<stop offset="1.000" stop-color="#dc3d24"/>
</linearGradient>
<linearGradient id="h64" x1="0" x2="0" y1="454.6" y2="139.4" gradientUnits="userSpaceOnUse">
<stop offset="0.000" stop-color="#4926b2"/>
<stop offset="0.020" stop-color="#442eb9"/>
<stop offset="0.040" stop-color="#4037c0"/>
<stop offset="0.065" stop-color="#3e43c8"/>
<stop offset="0.095" stop-color="#3e52cf"/>
<stop offset="0.130" stop-color="#3e61d2"/>
<stop offset="0.170" stop-color="#4274ce"/>
<stop offset="0.215" stop-color="#498ac4"/>
<stop offset="0.270" stop-color="#539aaf"/>
<stop offset="0.335" stop-color="#62a996"/>
<stop offset="0.410" stop-color="#7ab774"/>
<stop offset="0.500" stop-color="#9ebe58"/>
<stop offset="0.600" stop-color="#bfbb44"/>
<stop offset="0.725" stop-color="#dbaa39"/>
<stop offset="0.850" stop-color="#e2832e"/>
<stop offset="1.000" stop-color="#dc3e24"/>
</linearGradient>
<linearGradient id="h65" x1="0" x2="0" y1="454.6" y2="139.4" gradientUnits="userSpaceOnUse">
<stop offset="0.000" stop-color="#4c22ae"/>
<stop offset="0.020" stop-color="#4629b5"/>
<stop offset="0.040" stop-color="#4232bc"/>
<stop offset="0.065" stop-color="#3e3ec5"/>
<stop offset="0.095" stop-color="#3e4ecd"/>
<stop offset="0.130" stop-color="#3e5dd1"/>
<stop offset="0.170" stop-color="#4171cf"/>
<stop offset="0.215" stop-color="#4887c6"/>
<stop offset="0.270" stop-color="#5299b1"/>
<stop offset="0.335" stop-color="#60a898"/>
<stop offset="0.410" stop-color="#79b676"/>
<stop offset="0.500" stop-color="#9cbd59"/>
<stop offset="0.600" stop-color="#bebb45"/>
<stop offset="0.725" stop-color="#dbaa39"/>
<stop offset="0.850" stop-color="#e2842e"/>
<stop offset="1.000" stop-color="#dd3e24"/>
</linearGradient>
<linearGradient id="h66" x1="0" x2="0" y1="454.6" y2="139.4" gradientUnits="userSpaceOnUse">
<stop offset="0.000" stop-color="#4e1faa"/>
<stop offset="0.020" stop-color="#4926b2"/>
<stop offset="0.040" stop-color="#442eb9"/>
<stop offset="0.065" stop-color="#3f3ac2"/>
<stop offset="0.095" stop-color="#3e4acb"/>
<stop offset="0.130" stop-color="#3e5ad1"/>
<stop offset="0.170" stop-color="#416ecf"/>
<stop offset="0.215" stop-color="#4784c7"/>
<stop offset="0.270" stop-color="#5097b3"/>
<stop offset="0.335" stop-color="#5fa79a"/>
<stop offset="0.410" stop-color="#77b578"/>
<stop offset="0.500" stop-color="#9bbd59"/>
<stop offset="0.600" stop-color="#bebb45"/>
<stop offset="0.725" stop-color="#daab39"/>
<stop offset="0.850" stop-color="#e2842e"/>
<stop offset="1.000" stop-color="#dd3e24"/>
</linearGradient>
<linearGradient id="h67" x1="0" x2="0" y1="454.6" y2="139.4" gradientUnits="userSpaceOnUse">
<stop offset="0.000" stop-color="#501ca7"/>
<stop offset="0.020" stop-color="#4b23af"/>
<stop offset="0.040" stop-color="#462bb6"/>
<stop offset="0.065" stop-color="#4136c0"/>
<stop offset="0.095" stop-color="#3e46c9"/>
<stop offset="0.130" stop-color="#3e57d0"/>
<stop offset="0.170" stop-color="#406ad0"/>
<stop offset="0.215" stop-color="#4682c9"/>
<stop offset="0.270" stop-color="#4f96b5"/>
<stop offset="0.335" stop-color="#5ea69c"/>
<stop offset="0.410" stop-color="#76b47a"/>
<stop offset="0.500" stop-color="#9abd5a"/>
<stop offset="0.600" stop-color="#bdbb45"/>
<stop offset="0.725" stop-color="#daab39"/>
<stop offset="0.850" stop-color="#e2852f"/>
<stop offset="1.000" stop-color="#dd3f25"/>
</linearGradient>
<linearGradient id="h68" x1="0" x2="0" y1="454.6" y2="139.4" gradientUnits="userSpaceOnUse">
<stop offset="0.000" stop-color="#541aa4"/>
<stop offset="0.020" stop-color="#4d20ac"/>
<stop offset="0.040" stop-color="#4828b4"/>
<stop offset="0.065" stop-color="#4233bd"/>
<stop offset="0.095" stop-color="#3e42c7"/>
<stop offset="0.130" stop-color="#3e54cf"/>
<stop offset="0.170" stop-color="#4068d0"/>
<stop offset="0.215" stop-color="#457fca"/>
<stop offset="0.270" stop-color="#4f95b7"/>
<stop offset="0.335" stop-color="#5ca59e"/>
<stop offset="0.410" stop-color="#74b47c"/>
<stop offset="0.500" stop-color="#98bd5b"/>
<stop offset="0.600" stop-color="#bcbb45"/>
<stop offset="0.725" stop-color="#d9ac39"/>
<stop offset="0.850" stop-color="#e2852f"/>
<stop offset="1.000" stop-color="#dd3f25"/>
</linearGradient>
<linearGradient id="h69" x1="0" x2="0" y1="454.6" y2="139.4" gradientUnits="userSpaceOnUse">
<stop offset="0.000" stop-color="#5a1aa0"/>
<stop offset="0.020" stop-color="#4f1ea9"/>
<stop offset="0.040" stop-color="#4a25b1"/>
<stop offset="0.065" stop-color="#4330ba"/>
<stop offset="0.095" stop-color="#3e3ec5"/>
<stop offset="0.130" stop-color="#3e52ce"/>
<stop offset="0.170" stop-color="#3f65d1"/>
<stop offset="0.215" stop-color="#457dcb"/>
<stop offset="0.270" stop-color="#4e93b9"/>
<stop offset="0.335" stop-color="#5ba4a0"/>
<stop offset="0.410" stop-color="#73b37e"/>
<stop offset="0.500" stop-color="#97bd5c"/>
<stop offset="0.600" stop-color="#bcbb46"/>
<stop offset="0.725" stop-color="#d9ac3a"/>
<stop offset="0.850" stop-color="#e2862f"/>
<stop offset="1.000" stop-color="#dd4025"/>
</linearGradient>
<linearGradient id="h70" x1="0" x2="0" y1="454.6" y2="139.4" gradientUnits="userSpaceOnUse">
<stop offset="0.000" stop-color="#601b9c"/>
<stop offset="0.020" stop-color="#511ca7"/>
<stop offset="0.040" stop-color="#4b23ae"/>
<stop offset="0.065" stop-color="#452db8"/>
<stop offset="0.095" stop-color="#3e3bc4"/>
<stop offset="0.130" stop-color="#3e4fce"/>
<stop offset="0.170" stop-color="#3f62d1"/>
<stop offset="0.215" stop-color="#447acb"/>
<stop offset="0.270" stop-color="#4d92ba"/>
<stop offset="0.335" stop-color="#5aa3a1"/>
<stop offset="0.410" stop-color="#72b380"/>
<stop offset="0.500" stop-color="#96bd5d"/>
<stop offset="0.600" stop-color="#bbbc46"/>
<stop offset="0.725" stop-color="#d9ac3a"/>
<stop offset="0.850" stop-color="#e2862f"/>
<stop offset="1.000" stop-color="#dd4025"/>
</linearGradient>
<linearGradient id="h71" x1="0" x2="0" y1="454.6" y2="139.4" gradientUnits="userSpaceOnUse">
<stop offset="0.000" stop-color="#651b98"/>
<stop offset="0.020" stop-color="#531aa4"/>
<stop offset="0.040" stop-color="#4d21ac"/>
<stop offset="0.065" stop-color="#462ab6"/>
<stop offset="0.095" stop-color="#3f39c2"/>
<stop offset="0.130" stop-color="#3e4dcc"/>
<stop offset="0.170" stop-color="#3e60d2"/>
<stop offset="0.215" stop-color="#4378cc"/>
<stop offset="0.270" stop-color="#4d91bc"/>
<stop offset="0.335" stop-color="#5aa2a3"/>
<stop offset="0.410" stop-color="#70b281"/>
<stop offset="0.500" stop-color="#95bd5e"/>
<stop offset="0.600" stop-color="#bbbc46"/>
<stop offset="0.725" stop-color="#d9ac3a"/>
<stop offset="0.850" stop-color="#e2872f"/>
<stop offset="1.000" stop-color="#dd4025"/>
</linearGradient>
<linearGradient id="h72" x1="0" x2="0" y1="454.6" y2="139.4" gradientUnits="userSpaceOnUse">
<stop offset="0.000" stop-color="#6a1b95"/>
<stop offset="0.020" stop-color="#581aa1"/>
<stop offset="0.040" stop-color="#4e1faa"/>
<stop offset="0.065" stop-color="#4728b4"/>
<stop offset="0.095" stop-color="#4037c0"/>
<stop offset="0.130" stop-color="#3e4acb"/>
<stop offset="0.170" stop-color="#3e5ed2"/>
<stop offset="0.215" stop-color="#4376cd"/>
<stop offset="0.270" stop-color="#4c8fbd"/>
<stop offset="0.335" stop-color="#59a2a4"/>
<stop offset="0.410" stop-color="#6fb183"/>
<stop offset="0.500" stop-color="#94bd5e"/>
<stop offset="0.600" stop-color="#babc46"/>
<stop offset="0.725" stop-color="#d8ad3a"/>
<stop offset="0.850" stop-color="#e2872f"/>
<stop offset="1.000" stop-color="#dd4125"/>
</linearGradient>
<linearGradient id="h73" x1="0" x2="0" y1="454.6" y2="139.4" gradientUnits="userSpaceOnUse">
<stop offset="0.000" stop-color="#6e1b92"/>
<stop offset="0.020" stop-color="#5c1b9e"/>
<stop offset="0.040" stop-color="#501da9"/>
<stop offset="0.065" stop-color="#4827b3"/>
<stop offset="0.095" stop-color="#4135be"/>
<stop offset="0.130" stop-color="#3e48ca"/>
<stop offset="0.170" stop-color="#3e5dd1"/>
<stop offset="0.215" stop-color="#4275ce"/>
<stop offset="0.270" stop-color="#4b8ebe"/>
<stop offset="0.335" stop-color="#58a1a5"/>
<stop offset="0.410" stop-color="#6eb184"/>
<stop offset="0.500" stop-color="#93bd5f"/>
<stop offset="0.600" stop-color="#babc47"/>
<stop offset="0.725" stop-color="#d8ad3a"/>
<stop offset="0.850" stop-color="#e2872f"/>
<stop offset="1.000" stop-color="#dd4125"/>
</linearGradient>
<linearGradient id="h74" x1="0" x2="0" y1="454.6" y2="139.4" gradientUnits="userSpaceOnUse">
<stop offset="0.000" stop-color="#711c90"/>
<stop offset="0.020" stop-color="#601b9c"/>
<stop offset="0.040" stop-color="#511ca7"/>
<stop offset="0.065" stop-color="#4925b1"/>
<stop offset="0.095" stop-color="#4233bd"/>
<stop offset="0.130" stop-color="#3e47c9"/>
<stop offset="0.170" stop-color="#3e5cd1"/>
<stop offset="0.215" stop-color="#4273ce"/>
<stop offset="0.270" stop-color="#4b8dc0"/>
<stop offset="0.335" stop-color="#58a0a6"/>
<stop offset="0.410" stop-color="#6db185"/>
<stop offset="0.500" stop-color="#93bd5f"/>
<stop offset="0.600" stop-color="#babc47"/>
<stop offset="0.725" stop-color="#d8ad3a"/>
<stop offset="0.850" stop-color="#e2882f"/>
<stop offset="1.000" stop-color="#dd4125"/>
</linearGradient>
<linearGradient id="h75" x1="0" x2="0" y1="454.6" y2="139.4" gradientUnits="userSpaceOnUse">
<stop offset="0.000" stop-color="#741c8e"/>
<stop offset="0.020" stop-color="#631b9a"/>
<stop offset="0.040" stop-color="#511ba6"/>
<stop offset="0.065" stop-color="#4a24b0"/>
<stop offset="0.095" stop-color="#4332bc"/>
<stop offset="0.130" stop-color="#3e45c9"/>
<stop offset="0.170" stop-color="#3e5ad1"/>
<stop offset="0.215" stop-color="#4272ce"/>
<stop offset="0.270" stop-color="#4a8cc1"/>
<stop offset="0.335" stop-color="#579fa7"/>
<stop offset="0.410" stop-color="#6db087"/>
<stop offset="0.500" stop-color="#92bd60"/>
<stop offset="0.600" stop-color="#b9bc47"/>
<stop offset="0.725" stop-color="#d8ad3a"/>
<stop offset="0.850" stop-color="#e2882f"/>
<stop offset="1.000" stop-color="#dd4125"/>
</linearGradient>
<linearGradient id="h76" x1="0" x2="0" y1="454.6" y2="139.4" gradientUnits="userSpaceOnUse">
<stop offset="0.000" stop-color="#771c8c"/>
<stop offset="0.020" stop-color="#651b98"/>
<stop offset="0.040" stop-color="#531aa4"/>
<stop offset="0.065" stop-color="#4b23af"/>
<stop offset="0.095" stop-color="#4330bb"/>
<stop offset="0.130" stop-color="#3e44c8"/>
<stop offset="0.170" stop-color="#3e5ad1"/>
<stop offset="0.215" stop-color="#4171cf"/>
<stop offset="0.270" stop-color="#4a8cc2"/>
<stop offset="0.335" stop-color="#579fa8"/>
<stop offset="0.410" stop-color="#6cb088"/>
<stop offset="0.500" stop-color="#91bd60"/>
<stop offset="0.600" stop-color="#b9bc47"/>
<stop offset="0.725" stop-color="#d7ae3a"/>
<stop offset="0.850" stop-color="#e2882f"/>
<stop offset="1.000" stop-color="#dd4225"/>
</linearGradient>
<linearGradient id="h77" x1="0" x2="0" y1="454.6" y2="139.4" gradientUnits="userSpaceOnUse">
<stop offset="0.000" stop-color="#791c8b"/>
<stop offset="0.020" stop-color="#671b97"/>
<stop offset="0.040" stop-color="#551aa3"/>
<stop offset="0.065" stop-color="#4c22ae"/>
<stop offset="0.095" stop-color="#442fba"/>
<stop offset="0.130" stop-color="#3e43c7"/>
<stop offset="0.170" stop-color="#3e59d0"/>
<stop offset="0.215" stop-color="#4170cf"/>
<stop offset="0.270" stop-color="#4a8bc2"/>
<stop offset="0.335" stop-color="#569ea9"/>
<stop offset="0.410" stop-color="#6bb088"/>
<stop offset="0.500" stop-color="#91bd61"/>
<stop offset="0.600" stop-color="#b9bc47"/>
<stop offset="0.725" stop-color="#d7ae3a"/>
<stop offset="0.850" stop-color="#e2882f"/>
<stop offset="1.000" stop-color="#dd4225"/>
</linearGradient>
<linearGradient id="h78" x1="0" x2="0" y1="454.6" y2="139.4" gradientUnits="userSpaceOnUse">
<stop offset="0.000" stop-color="#7a1c8a"/>
<stop offset="0.020" stop-color="#691b96"/>
<stop offset="0.040" stop-color="#561aa2"/>
<stop offset="0.065" stop-color="#4c22ad"/>
<stop offset="0.095" stop-color="#442fba"/>
<stop offset="0.130" stop-color="#3e42c7"/>
<stop offset="0.170" stop-color="#3e58d0"/>
<stop offset="0.215" stop-color="#416fcf"/>
<stop offset="0.270" stop-color="#498bc3"/>
<stop offset="0.335" stop-color="#569ea9"/>
<stop offset="0.410" stop-color="#6baf89"/>
<stop offset="0.500" stop-color="#90bd61"/>
<stop offset="0.600" stop-color="#b9bc47"/>
<stop offset="0.725" stop-color="#d7ae3a"/>
<stop offset="0.850" stop-color="#e2882f"/>
<stop offset="1.000" stop-color="#dd4225"/>
</linearGradient>
<linearGradient id="h79" x1="0" x2="0" y1="454.6" y2="139.4" gradientUnits="userSpaceOnUse">
<stop offset="0.000" stop-color="#7a1c8a"/>
<stop offset="0.020" stop-color="#691b95"/>
<stop offset="0.040" stop-color="#571aa2"/>
<stop offset="0.065" stop-color="#4c22ad"/>
<stop offset="0.095" stop-color="#442eb9"/>
<stop offset="0.130" stop-color="#3e41c7"/>
<stop offset="0.170" stop-color="#3e58d0"/>
<stop offset="0.215" stop-color="#416ecf"/>
<stop offset="0.270" stop-color="#498ac3"/>
<stop offset="0.335" stop-color="#569ea9"/>
<stop offset="0.410" stop-color="#6aaf89"/>
<stop offset="0.500" stop-color="#90bd61"/>
<stop offset="0.600" stop-color="#b8bc47"/>
<stop offset="0.725" stop-color="#d7ae3a"/>
<stop offset="0.850" stop-color="#e2892f"/>
<stop offset="1.000" stop-color="#dd4225"/>
</linearGradient>
<linearGradient id="h80" x1="0" x2="0" y1="454.6" y2="139.4" gradientUnits="userSpaceOnUse">
<stop offset="0.000" stop-color="#7a1c8a"/>
<stop offset="0.020" stop-color="#691b95"/>
<stop offset="0.040" stop-color="#571aa2"/>
<stop offset="0.065" stop-color="#4c21ad"/>
<stop offset="0.095" stop-color="#442eb9"/>
<stop offset="0.130" stop-color="#3e41c7"/>
<stop offset="0.170" stop-color="#3e57d0"/>
<stop offset="0.215" stop-color="#416ecf"/>
<stop offset="0.270" stop-color="#498ac4"/>
<stop offset="0.335" stop-color="#569eaa"/>
<stop offset="0.410" stop-color="#6aaf8a"/>
<stop offset="0.500" stop-color="#90bd61"/>
<stop offset="0.600" stop-color="#b8bc47"/>
<stop offset="0.725" stop-color="#d7ae3a"/>
<stop offset="0.850" stop-color="#e2892f"/>
<stop offset="1.000" stop-color="#dd4225"/>
</linearGradient>
<linearGradient id="h81" x1="0" x2="0" y1="454.6" y2="139.4" gradientUnits="userSpaceOnUse">
<stop offset="0.000" stop-color="#7a1c8a"/>
<stop offset="0.020" stop-color="#691b95"/>
<stop offset="0.040" stop-color="#571aa1"/>
<stop offset="0.065" stop-color="#4d21ad"/>
<stop offset="0.095" stop-color="#442eb9"/>
<stop offset="0.130" stop-color="#3e41c6"/>
<stop offset="0.170" stop-color="#3e57d0"/>
<stop offset="0.215" stop-color="#416ecf"/>
<stop offset="0.270" stop-color="#498ac4"/>
<stop offset="0.335" stop-color="#569eaa"/>
<stop offset="0.410" stop-color="#6aaf8a"/>
<stop offset="0.500" stop-color="#90bd61"/>
<stop offset="0.600" stop-color="#b8bc47"/>
<stop offset="0.725" stop-color="#d7ae3a"/>
<stop offset="0.850" stop-color="#e2892f"/>
<stop offset="1.000" stop-color="#dd4225"/>
</linearGradient>
<linearGradient id="h82" x1="0" x2="0" y1="454.6" y2="139.4" gradientUnits="userSpaceOnUse">
<stop offset="0.000" stop-color="#7a1c8a"/>
<stop offset="0.020" stop-color="#691b95"/>
<stop offset="0.040" stop-color="#571aa1"/>
<stop offset="0.065" stop-color="#4c21ad"/>
<stop offset="0.095" stop-color="#442eb9"/>
<stop offset="0.130" stop-color="#3e41c6"/>
<stop offset="0.170" stop-color="#3e57d0"/>
<stop offset="0.215" stop-color="#416ecf"/>
<stop offset="0.270" stop-color="#498ac4"/>
<stop offset="0.335" stop-color="#569eaa"/>
<stop offset="0.410" stop-color="#6aaf8a"/>
<stop offset="0.500" stop-color="#90bd61"/>
<stop offset="0.600" stop-color="#b8bc47"/>
<stop offset="0.725" stop-color="#d7ae3a"/>
<stop offset="0.850" stop-color="#e2892f"/>
<stop offset="1.000" stop-color="#dd4225"/>
</linearGradient>
<linearGradient id="h83" x1="0" x2="0" y1="454.6" y2="139.4" gradientUnits="userSpaceOnUse">
<stop offset="0.000" stop-color="#7a1c8a"/>
<stop offset="0.020" stop-color="#691b95"/>
<stop offset="0.040" stop-color="#571aa2"/>
<stop offset="0.065" stop-color="#4c21ad"/>
<stop offset="0.095" stop-color="#442eb9"/>
<stop offset="0.130" stop-color="#3e41c7"/>
<stop offset="0.170" stop-color="#3e58d0"/>
<stop offset="0.215" stop-color="#416ecf"/>
<stop offset="0.270" stop-color="#498ac3"/>
<stop offset="0.335" stop-color="#569eaa"/>
<stop offset="0.410" stop-color="#6aaf8a"/>
<stop offset="0.500" stop-color="#90bd61"/>
<stop offset="0.600" stop-color="#b8bc47"/>
<stop offset="0.725" stop-color="#d7ae3a"/>
<stop offset="0.850" stop-color="#e2892f"/>
<stop offset="1.000" stop-color="#dd4225"/>
</linearGradient>
<linearGradient id="h84" x1="0" x2="0" y1="454.6" y2="139.4" gradientUnits="userSpaceOnUse">
<stop offset="0.000" stop-color="#7a1c8a"/>
<stop offset="0.020" stop-color="#691b96"/>
<stop offset="0.040" stop-color="#561aa2"/>
<stop offset="0.065" stop-color="#4c22ad"/>
<stop offset="0.095" stop-color="#442fba"/>
<stop offset="0.130" stop-color="#3e42c7"/>
<stop offset="0.170" stop-color="#3e58d0"/>
<stop offset="0.215" stop-color="#416fcf"/>
<stop offset="0.270" stop-color="#498ac3"/>
<stop offset="0.335" stop-color="#569ea9"/>
<stop offset="0.410" stop-color="#6baf89"/>
<stop offset="0.500" stop-color="#90bd61"/>
<stop offset="0.600" stop-color="#b9bc47"/>
<stop offset="0.725" stop-color="#d7ae3a"/>
<stop offset="0.850" stop-color="#e2882f"/>
<stop offset="1.000" stop-color="#dd4225"/>
</linearGradient>
<linearGradient id="h85" x1="0" x2="0" y1="454.6" y2="139.4" gradientUnits="userSpaceOnUse">
<stop offset="0.000" stop-color="#791c8a"/>
<stop offset="0.020" stop-color="#681b96"/>
<stop offset="0.040" stop-color="#551aa3"/>
<stop offset="0.065" stop-color="#4c22ae"/>
<stop offset="0.095" stop-color="#442fba"/>
<stop offset="0.130" stop-color="#3e43c7"/>
<stop offset="0.170" stop-color="#3e59d0"/>
<stop offset="0.215" stop-color="#416fcf"/>
<stop offset="0.270" stop-color="#4a8bc2"/>
<stop offset="0.335" stop-color="#569ea9"/>
<stop offset="0.410" stop-color="#6bb088"/>
<stop offset="0.500" stop-color="#91bd61"/>
<stop offset="0.600" stop-color="#b9bc47"/>
<stop offset="0.725" stop-color="#d7ae3a"/>
<stop offset="0.850" stop-color="#e2882f"/>
<stop offset="1.000" stop-color="#dd4225"/>
</linearGradient>
<linearGradient id="h86" x1="0" x2="0" y1="454.6" y2="139.4" gradientUnits="userSpaceOnUse">
<stop offset="0.000" stop-color="#781c8c"/>
<stop offset="0.020" stop-color="#661b98"/>
<stop offset="0.040" stop-color="#531aa4"/>
<stop offset="0.065" stop-color="#4b23af"/>
<stop offset="0.095" stop-color="#4330bb"/>
<stop offset="0.130" stop-color="#3e43c8"/>
<stop offset="0.170" stop-color="#3e59d0"/>
<stop offset="0.215" stop-color="#4170cf"/>
<stop offset="0.270" stop-color="#4a8cc2"/>
<stop offset="0.335" stop-color="#579fa8"/>
<stop offset="0.410" stop-color="#6cb088"/>
<stop offset="0.500" stop-color="#91bd60"/>
<stop offset="0.600" stop-color="#b9bc47"/>
<stop offset="0.725" stop-color="#d7ae3a"/>
<stop offset="0.850" stop-color="#e2882f"/>
<stop offset="1.000" stop-color="#dd4225"/>
</linearGradient>
<linearGradient id="h87" x1="0" x2="0" y1="454.6" y2="139.4" gradientUnits="userSpaceOnUse">
<stop offset="0.000" stop-color="#751c8d"/>
<stop offset="0.020" stop-color="#631b99"/>
<stop offset="0.040" stop-color="#521aa5"/>
<stop offset="0.065" stop-color="#4b24b0"/>
<stop offset="0.095" stop-color="#4331bc"/>
<stop offset="0.130" stop-color="#3e45c8"/>
<stop offset="0.170" stop-color="#3e5ad1"/>
<stop offset="0.215" stop-color="#4171cf"/>
<stop offset="0.270" stop-color="#4a8cc1"/>
<stop offset="0.335" stop-color="#579fa7"/>
<stop offset="0.410" stop-color="#6cb087"/>
<stop offset="0.500" stop-color="#92bd60"/>
<stop offset="0.600" stop-color="#b9bc47"/>
<stop offset="0.725" stop-color="#d8ad3a"/>
<stop offset="0.850" stop-color="#e2882f"/>
<stop offset="1.000" stop-color="#dd4125"/>
</linearGradient>
<linearGradient id="h88" x1="0" x2="0" y1="454.6" y2="139.4" gradientUnits="userSpaceOnUse">
<stop offset="0.000" stop-color="#721c8f"/>
<stop offset="0.020" stop-color="#601b9b"/>
<stop offset="0.040" stop-color="#511ca7"/>
<stop offset="0.065" stop-color="#4a25b1"/>
<stop offset="0.095" stop-color="#4233bd"/>
<stop offset="0.130" stop-color="#3e46c9"/>
<stop offset="0.170" stop-color="#3e5bd1"/>
<stop offset="0.215" stop-color="#4273ce"/>
<stop offset="0.270" stop-color="#4b8dc0"/>
<stop offset="0.335" stop-color="#58a0a6"/>
<stop offset="0.410" stop-color="#6db086"/>
<stop offset="0.500" stop-color="#92bd5f"/>
<stop offset="0.600" stop-color="#babc47"/>
<stop offset="0.725" stop-color="#d8ad3a"/>
<stop offset="0.850" stop-color="#e2882f"/>
<stop offset="1.000" stop-color="#dd4125"/>
</linearGradient>
<linearGradient id="h89" x1="0" x2="0" y1="454.6" y2="139.4" gradientUnits="userSpaceOnUse">
<stop offset="0.000" stop-color="#6f1b92"/>
<stop offset="0.020" stop-color="#5d1b9e"/>
<stop offset="0.040" stop-color="#501da8"/>
<stop offset="0.065" stop-color="#4926b2"/>
<stop offset="0.095" stop-color="#4134be"/>
<stop offset="0.130" stop-color="#3e48ca"/>
<stop offset="0.170" stop-color="#3e5dd1"/>
<stop offset="0.215" stop-color="#4274ce"/>
<stop offset="0.270" stop-color="#4b8ebf"/>
<stop offset="0.335" stop-color="#58a1a5"/>
<stop offset="0.410" stop-color="#6eb184"/>
<stop offset="0.500" stop-color="#93bd5f"/>
<stop offset="0.600" stop-color="#babc47"/>
<stop offset="0.725" stop-color="#d8ad3a"/>
<stop offset="0.850" stop-color="#e2872f"/>
<stop offset="1.000" stop-color="#dd4125"/>
</linearGradient>
<linearGradient id="h90" x1="0" x2="0" y1="454.6" y2="139.4" gradientUnits="userSpaceOnUse">
<stop offset="0.000" stop-color="#6b1b94"/>
<stop offset="0.020" stop-color="#591aa0"/>
<stop offset="0.040" stop-color="#4f1faa"/>
<stop offset="0.065" stop-color="#4828b4"/>
<stop offset="0.095" stop-color="#4136bf"/>
<stop offset="0.130" stop-color="#3e4acb"/>
<stop offset="0.170" stop-color="#3e5ed2"/>
<stop offset="0.215" stop-color="#4376cd"/>
<stop offset="0.270" stop-color="#4c8fbd"/>
<stop offset="0.335" stop-color="#59a1a4"/>
<stop offset="0.410" stop-color="#6fb183"/>
<stop offset="0.500" stop-color="#94bd5e"/>
<stop offset="0.600" stop-color="#babc46"/>
<stop offset="0.725" stop-color="#d8ad3a"/>
<stop offset="0.850" stop-color="#e2872f"/>
<stop offset="1.000" stop-color="#dd4125"/>
</linearGradient>
<linearGradient id="h91" x1="0" x2="0" y1="454.6" y2="139.4" gradientUnits="userSpaceOnUse">
<stop offset="0.000" stop-color="#661b97"/>
<stop offset="0.020" stop-color="#541aa3"/>
<stop offset="0.040" stop-color="#4d20ac"/>
<stop offset="0.065" stop-color="#462ab6"/>
<stop offset="0.095" stop-color="#4038c1"/>
<stop offset="0.130" stop-color="#3e4ccc"/>
<stop offset="0.170" stop-color="#3e60d2"/>
<stop offset="0.215" stop-color="#4378cc"/>
<stop offset="0.270" stop-color="#4c90bc"/>
<stop offset="0.335" stop-color="#59a2a3"/>
<stop offset="0.410" stop-color="#70b282"/>
<stop offset="0.500" stop-color="#95bd5e"/>
<stop offset="0.600" stop-color="#bbbc46"/>
<stop offset="0.725" stop-color="#d8ad3a"/>
<stop offset="0.850" stop-color="#e2872f"/>
<stop offset="1.000" stop-color="#dd4025"/>
</linearGradient>
<linearGradient id="h92" x1="0" x2="0" y1="454.6" y2="139.4" gradientUnits="userSpaceOnUse">
<stop offset="0.000" stop-color="#611b9b"/>
<stop offset="0.020" stop-color="#511ba6"/>
<stop offset="0.040" stop-color="#4c22ae"/>
<stop offset="0.065" stop-color="#452cb8"/>
<stop offset="0.095" stop-color="#3f3bc3"/>
<stop offset="0.130" stop-color="#3e4fcd"/>
<stop offset="0.170" stop-color="#3f62d1"/>
<stop offset="0.215" stop-color="#447acc"/>
<stop offset="0.270" stop-color="#4d92bb"/>
<stop offset="0.335" stop-color="#5aa3a1"/>
<stop offset="0.410" stop-color="#71b280"/>
<stop offset="0.500" stop-color="#96bd5d"/>
<stop offset="0.600" stop-color="#bbbc46"/>
<stop offset="0.725" stop-color="#d9ac3a"/>
<stop offset="0.850" stop-color="#e2862f"/>
<stop offset="1.000" stop-color="#dd4025"/>
</linearGradient>
<linearGradient id="h93" x1="0" x2="0" y1="454.6" y2="139.4" gradientUnits="userSpaceOnUse">
<stop offset="0.000" stop-color="#5b1a9f"/>
<stop offset="0.020" stop-color="#501da9"/>
<stop offset="0.040" stop-color="#4a25b0"/>
<stop offset="0.065" stop-color="#442fba"/>
<stop offset="0.095" stop-color="#3e3ec5"/>
<stop offset="0.130" stop-color="#3e51ce"/>
<stop offset="0.170" stop-color="#3f64d1"/>
<stop offset="0.215" stop-color="#447ccb"/>
<stop offset="0.270" stop-color="#4e93b9"/>
<stop offset="0.335" stop-color="#5ba4a0"/>
<stop offset="0.410" stop-color="#73b37e"/>
<stop offset="0.500" stop-color="#97bd5c"/>
<stop offset="0.600" stop-color="#bcbc46"/>
<stop offset="0.725" stop-color="#d9ac3a"/>
<stop offset="0.850" stop-color="#e2862f"/>
<stop offset="1.000" stop-color="#dd4025"/>
</linearGradient>
<linearGradient id="h94" x1="0" x2="0" y1="454.6" y2="139.4" gradientUnits="userSpaceOnUse">
<stop offset="0.000" stop-color="#551aa3"/>
<stop offset="0.020" stop-color="#4e20ab"/>
<stop offset="0.040" stop-color="#4827b3"/>
<stop offset="0.065" stop-color="#4232bc"/>
<stop offset="0.095" stop-color="#3e41c6"/>
<stop offset="0.130" stop-color="#3e54cf"/>
<stop offset="0.170" stop-color="#4067d0"/>
<stop offset="0.215" stop-color="#457eca"/>
<stop offset="0.270" stop-color="#4f94b7"/>
<stop offset="0.335" stop-color="#5ca59e"/>
<stop offset="0.410" stop-color="#74b47d"/>
<stop offset="0.500" stop-color="#98bd5b"/>
<stop offset="0.600" stop-color="#bcbb46"/>
<stop offset="0.725" stop-color="#d9ac39"/>
<stop offset="0.850" stop-color="#e2852f"/>
<stop offset="1.000" stop-color="#dd3f25"/>
</linearGradient>
<linearGradient id="h95" x1="0" x2="0" y1="454.6" y2="139.4" gradientUnits="userSpaceOnUse">
<stop offset="0.000" stop-color="#511ba6"/>
<stop offset="0.020" stop-color="#4c22ae"/>
<stop offset="0.040" stop-color="#462ab6"/>
<stop offset="0.065" stop-color="#4135bf"/>
<stop offset="0.095" stop-color="#3e45c8"/>
<stop offset="0.130" stop-color="#3e56d0"/>
<stop offset="0.170" stop-color="#406ad0"/>
<stop offset="0.215" stop-color="#4681c9"/>
<stop offset="0.270" stop-color="#4f96b6"/>
<stop offset="0.335" stop-color="#5da69c"/>
<stop offset="0.410" stop-color="#75b47b"/>
<stop offset="0.500" stop-color="#99bd5b"/>
<stop offset="0.600" stop-color="#bdbb45"/>
<stop offset="0.725" stop-color="#daab39"/>
<stop offset="0.850" stop-color="#e2852f"/>
<stop offset="1.000" stop-color="#dd3f25"/>
</linearGradient>
<linearGradient id="h96" x1="0" x2="0" y1="454.6" y2="139.4" gradientUnits="userSpaceOnUse">
<stop offset="0.000" stop-color="#4f1eaa"/>
<stop offset="0.020" stop-color="#4925b1"/>
<stop offset="0.040" stop-color="#452db9"/>
<stop offset="0.065" stop-color="#3f39c2"/>
<stop offset="0.095" stop-color="#3e49ca"/>
<stop offset="0.130" stop-color="#3e59d0"/>
<stop offset="0.170" stop-color="#416dcf"/>
<stop offset="0.215" stop-color="#4784c8"/>
<stop offset="0.270" stop-color="#5097b4"/>
<stop offset="0.335" stop-color="#5fa79b"/>
<stop offset="0.410" stop-color="#77b579"/>
<stop offset="0.500" stop-color="#9bbd5a"/>
<stop offset="0.600" stop-color="#bdbb45"/>
<stop offset="0.725" stop-color="#daab39"/>
<stop offset="0.850" stop-color="#e2842e"/>
<stop offset="1.000" stop-color="#dd3f24"/>
</linearGradient>
<linearGradient id="h97" x1="0" x2="0" y1="454.6" y2="139.4" gradientUnits="userSpaceOnUse">
<stop offset="0.000" stop-color="#4c21ad"/>
<stop offset="0.020" stop-color="#4729b4"/>
<stop offset="0.040" stop-color="#4331bc"/>
<stop offset="0.065" stop-color="#3e3dc5"/>
<stop offset="0.095" stop-color="#3e4dcd"/>
<stop offset="0.130" stop-color="#3e5cd1"/>
<stop offset="0.170" stop-color="#4170cf"/>
<stop offset="0.215" stop-color="#4887c7"/>
<stop offset="0.270" stop-color="#5199b2"/>
<stop offset="0.335" stop-color="#60a899"/>
<stop offset="0.410" stop-color="#78b677"/>
<stop offset="0.500" stop-color="#9cbd59"/>
<stop offset="0.600" stop-color="#bebb45"/>
<stop offset="0.725" stop-color="#daab39"/>
<stop offset="0.850" stop-color="#e2842e"/>
<stop offset="1.000" stop-color="#dd3e24"/>
</linearGradient>
<linearGradient id="h98" x1="0" x2="0" y1="454.6" y2="139.4" gradientUnits="userSpaceOnUse">
<stop offset="0.000" stop-color="#4a25b1"/>
<stop offset="0.020" stop-color="#452db8"/>
<stop offset="0.040" stop-color="#4136bf"/>
<stop offset="0.065" stop-color="#3e42c7"/>
<stop offset="0.095" stop-color="#3e51ce"/>
<stop offset="0.130" stop-color="#3e60d2"/>
<stop offset="0.170" stop-color="#4274ce"/>
<stop offset="0.215" stop-color="#4989c5"/>
<stop offset="0.270" stop-color="#529aaf"/>
<stop offset="0.335" stop-color="#61a997"/>
<stop offset="0.410" stop-color="#7ab674"/>
<stop offset="0.500" stop-color="#9dbe58"/>
<stop offset="0.600" stop-color="#bfbb44"/>
<stop offset="0.725" stop-color="#dbaa39"/>
<stop offset="0.850" stop-color="#e2832e"/>
<stop offset="1.000" stop-color="#dc3e24"/>
</linearGradient>
<linearGradient id="h99" x1="0" x2="0" y1="454.6" y2="139.4" gradientUnits="userSpaceOnUse">
<stop offset="0.000" stop-color="#4729b5"/>
<stop offset="0.020" stop-color="#4332bc"/>
<stop offset="0.040" stop-color="#3f3bc3"/>
<stop offset="0.065" stop-color="#3e47ca"/>
<stop offset="0.095" stop-color="#3e55cf"/>
<stop offset="0.130" stop-color="#3f64d1"/>
<stop offset="0.170" stop-color="#4377cd"/>
<stop offset="0.215" stop-color="#4a8bc2"/>
<stop offset="0.270" stop-color="#549bad"/>
<stop offset="0.335" stop-color="#63aa94"/>
<stop offset="0.410" stop-color="#7bb772"/>
<stop offset="0.500" stop-color="#9fbe57"/>
<stop offset="0.600" stop-color="#bfbb44"/>
<stop offset="0.725" stop-color="#dbaa39"/>
<stop offset="0.850" stop-color="#e2832e"/>
<stop offset="1.000" stop-color="#dc3d24"/>
</linearGradient>
<linearGradient id="h100" x1="0" x2="0" y1="454.6" y2="139.4" gradientUnits="userSpaceOnUse">
<stop offset="0.000" stop-color="#442fba"/>
<stop offset="0.020" stop-color="#4038c1"/>
<stop offset="0.040" stop-color="#3e41c6"/>
<stop offset="0.065" stop-color="#3e4dcd"/>
<stop offset="0.095" stop-color="#3e59d0"/>
<stop offset="0.130" stop-color="#4069d0"/>
<stop offset="0.170" stop-color="#447bcb"/>
<stop offset="0.215" stop-color="#4b8dc0"/>
<stop offset="0.270" stop-color="#559dab"/>
<stop offset="0.335" stop-color="#64ab92"/>
<stop offset="0.410" stop-color="#7db870"/>
<stop offset="0.500" stop-color="#a0be56"/>
<stop offset="0.600" stop-color="#c0bb44"/>
<stop offset="0.725" stop-color="#dca939"/>
<stop offset="0.850" stop-color="#e2822e"/>
<stop offset="1.000" stop-color="#dc3d24"/>
</linearGradient>
<linearGradient id="h101" x1="0" x2="0" y1="454.6" y2="139.4" gradientUnits="userSpaceOnUse">
<stop offset="0.000" stop-color="#4037c0"/>
<stop offset="0.020" stop-color="#3e3fc6"/>
<stop offset="0.040" stop-color="#3e48ca"/>
<stop offset="0.065" stop-color="#3e53cf"/>
<stop offset="0.095" stop-color="#3e5ed2"/>
<stop offset="0.130" stop-color="#416ecf"/>
<stop offset="0.170" stop-color="#457fc9"/>
<stop offset="0.215" stop-color="#4c90bd"/>
<stop offset="0.270" stop-color="#569ea9"/>
<stop offset="0.335" stop-color="#66ac90"/>
<stop offset="0.410" stop-color="#7fb96e"/>
<stop offset="0.500" stop-color="#a2be55"/>
<stop offset="0.600" stop-color="#c1bb43"/>
<stop offset="0.725" stop-color="#dca938"/>
<stop offset="0.850" stop-color="#e2822e"/>
<stop offset="1.000" stop-color="#dc3c24"/>
</linearGradient>
<linearGradient id="h102" x1="0" x2="0" y1="454.6" y2="139.4" gradientUnits="userSpaceOnUse">
<stop offset="0.000" stop-color="#3e41c7"/>
<stop offset="0.020" stop-color="#3e49cb"/>
<stop offset="0.040" stop-color="#3e51ce"/>
<stop offset="0.065" stop-color="#3e59d0"/>
<stop offset="0.095" stop-color="#3f63d1"/>
<stop offset="0.130" stop-color="#4272ce"/>
<stop offset="0.170" stop-color="#4783c8"/>
<stop offset="0.215" stop-color="#4d92ba"/>
<stop offset="0.270" stop-color="#58a0a6"/>
<stop offset="0.335" stop-color="#67ad8e"/>
<stop offset="0.410" stop-color="#81b96d"/>
<stop offset="0.500" stop-color="#a3be54"/>
<stop offset="0.600" stop-color="#c2ba43"/>
<stop offset="0.725" stop-color="#dda838"/>
<stop offset="0.850" stop-color="#e2812e"/>
<stop offset="1.000" stop-color="#dc3c24"/>
</linearGradient>
<linearGradient id="h103" x1="0" x2="0" y1="454.6" y2="139.4" gradientUnits="userSpaceOnUse">
<stop offset="0.000" stop-color="#3e4dcd"/>
<stop offset="0.020" stop-color="#3e53cf"/>
<stop offset="0.040" stop-color="#3e58d0"/>
<stop offset="0.065" stop-color="#3e5fd2"/>
<stop offset="0.095" stop-color="#406ad0"/>
<stop offset="0.130" stop-color="#4377cd"/>
<stop offset="0.170" stop-color="#4888c6"/>
<stop offset="0.215" stop-color="#4e94b7"/>
<stop offset="0.270" stop-color="#59a1a4"/>
<stop offset="0.335" stop-color="#69ae8c"/>
<stop offset="0.410" stop-color="#83ba6b"/>
<stop offset="0.500" stop-color="#a5be53"/>
<stop offset="0.600" stop-color="#c2ba43"/>
<stop offset="0.725" stop-color="#dda838"/>
<stop offset="0.850" stop-color="#e2802e"/>
<stop offset="1.000" stop-color="#dc3b24"/>
</linearGradient>
<linearGradient id="h104" x1="0" x2="0" y1="454.6" y2="139.4" gradientUnits="userSpaceOnUse">
<stop offset="0.000" stop-color="#3e57d0"/>
<stop offset="0.020" stop-color="#3e5bd1"/>
<stop offset="0.040" stop-color="#3e60d2"/>
<stop offset="0.065" stop-color="#3f67d1"/>
<stop offset="0.095" stop-color="#4170cf"/>
<stop offset="0.130" stop-color="#457ccb"/>
<stop offset="0.170" stop-color="#498bc3"/>
<stop offset="0.215" stop-color="#5096b5"/>
<stop offset="0.270" stop-color="#5aa3a2"/>
<stop offset="0.335" stop-color="#6baf89"/>
<stop offset="0.410" stop-color="#85bb6a"/>
<stop offset="0.500" stop-color="#a6be52"/>
<stop offset="0.600" stop-color="#c3ba42"/>
<stop offset="0.725" stop-color="#dda738"/>
<stop offset="0.850" stop-color="#e2802e"/>
<stop offset="1.000" stop-color="#dc3a24"/>
</linearGradient>
<linearGradient id="h105" x1="0" x2="0" y1="454.6" y2="139.4" gradientUnits="userSpaceOnUse">
<stop offset="0.000" stop-color="#3e60d2"/>
<stop offset="0.020" stop-color="#3f64d1"/>
<stop offset="0.040" stop-color="#4068d0"/>
<stop offset="0.065" stop-color="#416ecf"/>
<stop offset="0.095" stop-color="#4376cd"/>
<stop offset="0.130" stop-color="#4681c9"/>
<stop offset="0.170" stop-color="#4b8dbf"/>
<stop offset="0.215" stop-color="#5198b2"/>
<stop offset="0.270" stop-color="#5ca49f"/>
<stop offset="0.335" stop-color="#6db086"/>
<stop offset="0.410" stop-color="#87bb68"/>
<stop offset="0.500" stop-color="#a8be50"/>
<stop offset="0.600" stop-color="#c4ba42"/>
<stop offset="0.725" stop-color="#dda738"/>
<stop offset="0.850" stop-color="#e27f2d"/>
<stop offset="1.000" stop-color="#dc3a24"/>
</linearGradient>
<linearGradient id="h106" x1="0" x2="0" y1="454.6" y2="139.4" gradientUnits="userSpaceOnUse">
<stop offset="0.000" stop-color="#4069d0"/>
<stop offset="0.020" stop-color="#416dcf"/>
<stop offset="0.040" stop-color="#4170cf"/>
<stop offset="0.065" stop-color="#4275ce"/>
<stop offset="0.095" stop-color="#447ccb"/>
<stop offset="0.130" stop-color="#4786c7"/>
<stop offset="0.170" stop-color="#4c90bc"/>
<stop offset="0.215" stop-color="#539aaf"/>
<stop offset="0.270" stop-color="#5da69c"/>
<stop offset="0.335" stop-color="#6fb184"/>
<stop offset="0.410" stop-color="#89bc66"/>
<stop offset="0.500" stop-color="#a9be4f"/>
<stop offset="0.600" stop-color="#c4ba42"/>
<stop offset="0.725" stop-color="#dea637"/>
<stop offset="0.850" stop-color="#e27e2d"/>
<stop offset="1.000" stop-color="#dc3924"/>
</linearGradient>
<linearGradient id="h107" x1="0" x2="0" y1="454.6" y2="139.4" gradientUnits="userSpaceOnUse">
<stop offset="0.000" stop-color="#4171cf"/>
<stop offset="0.020" stop-color="#4273ce"/>
<stop offset="0.040" stop-color="#4377cd"/>
<stop offset="0.065" stop-color="#447bcb"/>
<stop offset="0.095" stop-color="#4682c9"/>
<stop offset="0.130" stop-color="#498ac4"/>
<stop offset="0.170" stop-color="#4e93b9"/>
<stop offset="0.215" stop-color="#549cac"/>
<stop offset="0.270" stop-color="#5fa79a"/>
<stop offset="0.335" stop-color="#71b281"/>
<stop offset="0.410" stop-color="#8bbd65"/>
<stop offset="0.500" stop-color="#abbe4e"/>
<stop offset="0.600" stop-color="#c5b942"/>
<stop offset="0.725" stop-color="#dea537"/>
<stop offset="0.850" stop-color="#e27d2d"/>
<stop offset="1.000" stop-color="#dc3924"/>
</linearGradient>
<linearGradient id="h108" x1="0" x2="0" y1="454.6" y2="139.4" gradientUnits="userSpaceOnUse">
<stop offset="0.000" stop-color="#4376cd"/>
<stop offset="0.020" stop-color="#4379cc"/>
<stop offset="0.040" stop-color="#447ccb"/>
<stop offset="0.065" stop-color="#4680c9"/>
<stop offset="0.095" stop-color="#4887c7"/>
<stop offset="0.130" stop-color="#4b8dc0"/>
<stop offset="0.170" stop-color="#4f95b6"/>
<stop offset="0.215" stop-color="#569ea9"/>
<stop offset="0.270" stop-color="#61a897"/>
<stop offset="0.335" stop-color="#73b37e"/>
<stop offset="0.410" stop-color="#8dbd63"/>
<stop offset="0.500" stop-color="#adbe4d"/>
<stop offset="0.600" stop-color="#c6b941"/>
<stop offset="0.725" stop-color="#dea437"/>
<stop offset="0.850" stop-color="#e27d2d"/>
<stop offset="1.000" stop-color="#dc3824"/>
</linearGradient>
<linearGradient id="h109" x1="0" x2="0" y1="454.6" y2="139.4" gradientUnits="userSpaceOnUse">
<stop offset="0.000" stop-color="#447bcb"/>
<stop offset="0.020" stop-color="#457dca"/>
<stop offset="0.040" stop-color="#4680c9"/>
<stop offset="0.065" stop-color="#4785c7"/>
<stop offset="0.095" stop-color="#498ac4"/>
<stop offset="0.130" stop-color="#4c90bd"/>
<stop offset="0.170" stop-color="#5198b3"/>
<stop offset="0.215" stop-color="#58a0a6"/>
<stop offset="0.270" stop-color="#63aa95"/>
<stop offset="0.335" stop-color="#75b47b"/>
<stop offset="0.410" stop-color="#8fbd62"/>
<stop offset="0.500" stop-color="#aebe4c"/>
<stop offset="0.600" stop-color="#c6b941"/>
<stop offset="0.725" stop-color="#dea437"/>
<stop offset="0.850" stop-color="#e27c2d"/>
<stop offset="1.000" stop-color="#db3824"/>
</linearGradient>
<linearGradient id="h110" x1="0" x2="0" y1="454.6" y2="139.4" gradientUnits="userSpaceOnUse">
<stop offset="0.000" stop-color="#457eca"/>
<stop offset="0.020" stop-color="#4681c9"/>
<stop offset="0.040" stop-color="#4784c7"/>
<stop offset="0.065" stop-color="#4889c5"/>
<stop offset="0.095" stop-color="#4b8dc0"/>
<stop offset="0.130" stop-color="#4e93b9"/>
<stop offset="0.170" stop-color="#529ab0"/>
<stop offset="0.215" stop-color="#59a2a3"/>
<stop offset="0.270" stop-color="#65ab92"/>
<stop offset="0.335" stop-color="#77b578"/>
<stop offset="0.410" stop-color="#91bd60"/>
<stop offset="0.500" stop-color="#afbe4b"/>
<stop offset="0.600" stop-color="#c7b841"/>
<stop offset="0.725" stop-color="#dea336"/>
<stop offset="0.850" stop-color="#e27b2d"/>
<stop offset="1.000" stop-color="#db3724"/>
</linearGradient>
<linearGradient id="h111" x1="0" x2="0" y1="454.6" y2="139.4" gradientUnits="userSpaceOnUse">
<stop offset="0.000" stop-color="#4682c9"/>
<stop offset="0.020" stop-color="#4785c7"/>
<stop offset="0.040" stop-color="#4888c6"/>
<stop offset="0.065" stop-color="#4a8bc2"/>
<stop offset="0.095" stop-color="#4c8fbd"/>
<stop offset="0.130" stop-color="#4f95b6"/>
<stop offset="0.170" stop-color="#549cad"/>
<stop offset="0.215" stop-color="#5ba3a1"/>
<stop offset="0.270" stop-color="#66ac8f"/>
<stop offset="0.335" stop-color="#79b676"/>
<stop offset="0.410" stop-color="#93bd5f"/>
<stop offset="0.500" stop-color="#b0be4b"/>
<stop offset="0.600" stop-color="#c8b841"/>
<stop offset="0.725" stop-color="#dfa236"/>
<stop offset="0.850" stop-color="#e27a2d"/>
<stop offset="1.000" stop-color="#db3623"/>
</linearGradient>
<linearGradient id="h112" x1="0" x2="0" y1="454.6" y2="139.4" gradientUnits="userSpaceOnUse">
<stop offset="0.000" stop-color="#4785c7"/>
<stop offset="0.020" stop-color="#4888c6"/>
<stop offset="0.040" stop-color="#498ac3"/>
<stop offset="0.065" stop-color="#4b8dc0"/>
<stop offset="0.095" stop-color="#4d92ba"/>
<stop offset="0.130" stop-color="#5097b3"/>
<stop offset="0.170" stop-color="#569eaa"/>
<stop offset="0.215" stop-color="#5ca59e"/>
<stop offset="0.270" stop-color="#68ae8d"/>
<stop offset="0.335" stop-color="#7bb773"/>
<stop offset="0.410" stop-color="#95bd5e"/>
<stop offset="0.500" stop-color="#b1bd4b"/>
<stop offset="0.600" stop-color="#c8b840"/>
<stop offset="0.725" stop-color="#dfa136"/>
<stop offset="0.850" stop-color="#e2792c"/>
<stop offset="1.000" stop-color="#db3623"/>
</linearGradient>
<linearGradient id="h113" x1="0" x2="0" y1="454.6" y2="139.4" gradientUnits="userSpaceOnUse">
<stop offset="0.000" stop-color="#4888c6"/>
<stop offset="0.020" stop-color="#498ac4"/>
<stop offset="0.040" stop-color="#4a8cc1"/>
<stop offset="0.065" stop-color="#4c90bd"/>
<stop offset="0.095" stop-color="#4e94b8"/>
<stop offset="0.130" stop-color="#5299b1"/>
<stop offset="0.170" stop-color="#579fa7"/>
<stop offset="0.215" stop-color="#5ea69b"/>
<stop offset="0.270" stop-color="#6aaf8a"/>
<stop offset="0.335" stop-color="#7db870"/>
<stop offset="0.410" stop-color="#97bd5d"/>
<stop offset="0.500" stop-color="#b2bd4a"/>
<stop offset="0.600" stop-color="#c9b740"/>
<stop offset="0.725" stop-color="#dfa136"/>
<stop offset="0.850" stop-color="#e2782c"/>
<stop offset="1.000" stop-color="#db3523"/>
</linearGradient>
<linearGradient id="h114" x1="0" x2="0" y1="454.6" y2="139.4" gradientUnits="userSpaceOnUse">
<stop offset="0.000" stop-color="#498ac4"/>
<stop offset="0.020" stop-color="#4a8cc1"/>
<stop offset="0.040" stop-color="#4b8ebe"/>
<stop offset="0.065" stop-color="#4d92ba"/>
<stop offset="0.095" stop-color="#4f96b5"/>
<stop offset="0.130" stop-color="#539bae"/>
<stop offset="0.170" stop-color="#59a1a4"/>
<stop offset="0.215" stop-color="#60a899"/>
<stop offset="0.270" stop-color="#6cb088"/>
<stop offset="0.335" stop-color="#7fb96e"/>
<stop offset="0.410" stop-color="#98bd5b"/>
<stop offset="0.500" stop-color="#b3bd4a"/>
<stop offset="0.600" stop-color="#cab740"/>
<stop offset="0.725" stop-color="#dfa035"/>
<stop offset="0.850" stop-color="#e2772c"/>
<stop offset="1.000" stop-color="#db3523"/>
</linearGradient>
<linearGradient id="h115" x1="0" x2="0" y1="454.6" y2="139.4" gradientUnits="userSpaceOnUse">
<stop offset="0.000" stop-color="#4a8cc2"/>
<stop offset="0.020" stop-color="#4b8ebf"/>
<stop offset="0.040" stop-color="#4c90bc"/>
<stop offset="0.065" stop-color="#4e94b8"/>
<stop offset="0.095" stop-color="#5198b3"/>
<stop offset="0.130" stop-color="#559dab"/>
<stop offset="0.170" stop-color="#5aa3a2"/>
<stop offset="0.215" stop-color="#62a996"/>
<stop offset="0.270" stop-color="#6eb185"/>
<stop offset="0.335" stop-color="#81b96d"/>
<stop offset="0.410" stop-color="#9abd5a"/>
<stop offset="0.500" stop-color="#b4bd49"/>
<stop offset="0.600" stop-color="#cab740"/>
<stop offset="0.725" stop-color="#df9f35"/>
<stop offset="0.850" stop-color="#e2772c"/>
<stop offset="1.000" stop-color="#db3423"/>
</linearGradient>
<linearGradient id="h116" x1="0" x2="0" y1="454.6" y2="139.4" gradientUnits="userSpaceOnUse">
<stop offset="0.000" stop-color="#4b8ebf"/>
<stop offset="0.020" stop-color="#4c90bd"/>
<stop offset="0.040" stop-color="#4d92ba"/>
<stop offset="0.065" stop-color="#4f95b6"/>
<stop offset="0.095" stop-color="#5299b0"/>
<stop offset="0.130" stop-color="#569ea9"/>
<stop offset="0.170" stop-color="#5ba4a0"/>
<stop offset="0.215" stop-color="#64aa93"/>
<stop offset="0.270" stop-color="#70b282"/>
<stop offset="0.335" stop-color="#83ba6b"/>
<stop offset="0.410" stop-color="#9cbd59"/>
<stop offset="0.500" stop-color="#b5bd49"/>
<stop offset="0.600" stop-color="#cbb63f"/>
<stop offset="0.725" stop-color="#e09f35"/>
<stop offset="0.850" stop-color="#e2762c"/>
<stop offset="1.000" stop-color="#db3323"/>
</linearGradient>
<linearGradient id="h117" x1="0" x2="0" y1="454.6" y2="139.4" gradientUnits="userSpaceOnUse">
<stop offset="0.000" stop-color="#4c8fbd"/>
<stop offset="0.020" stop-color="#4d91bb"/>
<stop offset="0.040" stop-color="#4e94b8"/>
<stop offset="0.065" stop-color="#5097b4"/>
<stop offset="0.095" stop-color="#539bae"/>
<stop offset="0.130" stop-color="#57a0a7"/>
<stop offset="0.170" stop-color="#5da59d"/>
<stop offset="0.215" stop-color="#65ab91"/>
<stop offset="0.270" stop-color="#72b37f"/>
<stop offset="0.335" stop-color="#85bb69"/>
<stop offset="0.410" stop-color="#9dbe58"/>
<stop offset="0.500" stop-color="#b6bd48"/>
<stop offset="0.600" stop-color="#cbb63f"/>
<stop offset="0.725" stop-color="#e09e35"/>
<stop offset="0.850" stop-color="#e2752c"/>
<stop offset="1.000" stop-color="#da3323"/>
</linearGradient>
<linearGradient id="h118" x1="0" x2="0" y1="454.6" y2="139.4" gradientUnits="userSpaceOnUse">
<stop offset="0.000" stop-color="#4d91bb"/>
<stop offset="0.020" stop-color="#4e93b9"/>
<stop offset="0.040" stop-color="#4f96b6"/>
<stop offset="0.065" stop-color="#5199b2"/>
<stop offset="0.095" stop-color="#549cac"/>
<stop offset="0.130" stop-color="#59a1a4"/>
<stop offset="0.170" stop-color="#5fa79b"/>
<stop offset="0.215" stop-color="#67ad8f"/>
<stop offset="0.270" stop-color="#74b47c"/>
<stop offset="0.335" stop-color="#87bb68"/>
<stop offset="0.410" stop-color="#9fbe57"/>
<stop offset="0.500" stop-color="#b7bc48"/>
<stop offset="0.600" stop-color="#ccb63f"/>
<stop offset="0.725" stop-color="#e09d34"/>
<stop offset="0.850" stop-color="#e2742b"/>
<stop offset="1.000" stop-color="#da3223"/>
</linearGradient>
<linearGradient id="h119" x1="0" x2="0" y1="454.6" y2="139.4" gradientUnits="userSpaceOnUse">
<stop offset="0.000" stop-color="#4e92b9"/>
<stop offset="0.020" stop-color="#4f95b7"/>
<stop offset="0.040" stop-color="#5097b4"/>
<stop offset="0.065" stop-color="#529ab0"/>
<stop offset="0.095" stop-color="#569eaa"/>
<stop offset="0.130" stop-color="#5aa2a2"/>
<stop offset="0.170" stop-color="#60a899"/>
<stop offset="0.215" stop-color="#68ae8d"/>
<stop offset="0.270" stop-color="#76b57a"/>
<stop offset="0.335" stop-color="#89bc66"/>
<stop offset="0.410" stop-color="#a1be56"/>
<stop offset="0.500" stop-color="#b8bc48"/>
<stop offset="0.600" stop-color="#cdb53f"/>
<stop offset="0.725" stop-color="#e09d34"/>
<stop offset="0.850" stop-color="#e2732b"/>
<stop offset="1.000" stop-color="#da3123"/>
</linearGradient>
<linearGradient id="h120" x1="0" x2="0" y1="454.6" y2="139.4" gradientUnits="userSpaceOnUse">
<stop offset="0.000" stop-color="#4e94b8"/>
<stop offset="0.020" stop-color="#5096b5"/>
<stop offset="0.040" stop-color="#5198b2"/>
<stop offset="0.065" stop-color="#549bae"/>
<stop offset="0.095" stop-color="#579fa8"/>
<stop offset="0.130" stop-color="#5ba4a1"/>
<stop offset="0.170" stop-color="#62a996"/>
<stop offset="0.215" stop-color="#6aaf8a"/>
<stop offset="0.270" stop-color="#78b577"/>
<stop offset="0.335" stop-color="#8bbd65"/>
<stop offset="0.410" stop-color="#a2be54"/>
<stop offset="0.500" stop-color="#b9bc47"/>
<stop offset="0.600" stop-color="#cdb53e"/>
<stop offset="0.725" stop-color="#e09c34"/>
<stop offset="0.850" stop-color="#e2722b"/>
<stop offset="1.000" stop-color="#da3123"/>
</linearGradient>
<linearGradient id="h121" x1="0" x2="0" y1="454.6" y2="139.4" gradientUnits="userSpaceOnUse">
<stop offset="0.000" stop-color="#4f95b6"/>
<stop offset="0.020" stop-color="#5097b3"/>
<stop offset="0.040" stop-color="#529ab0"/>
<stop offset="0.065" stop-color="#559cac"/>
<stop offset="0.095" stop-color="#58a0a6"/>
<stop offset="0.130" stop-color="#5ca59f"/>
<stop offset="0.170" stop-color="#63aa94"/>
<stop offset="0.215" stop-color="#6bb088"/>
<stop offset="0.270" stop-color="#79b675"/>
<stop offset="0.335" stop-color="#8dbd64"/>
<stop offset="0.410" stop-color="#a3be53"/>
<stop offset="0.500" stop-color="#babc47"/>
<stop offset="0.600" stop-color="#ceb53e"/>
<stop offset="0.725" stop-color="#e19b34"/>
<stop offset="0.850" stop-color="#e2712b"/>
<stop offset="1.000" stop-color="#da3023"/>
</linearGradient>
<linearGradient id="h122" x1="0" x2="0" y1="454.6" y2="139.4" gradientUnits="userSpaceOnUse">
<stop offset="0.000" stop-color="#5097b4"/>
<stop offset="0.020" stop-color="#5199b1"/>
<stop offset="0.040" stop-color="#539bae"/>
<stop offset="0.065" stop-color="#569eaa"/>
<stop offset="0.095" stop-color="#59a1a4"/>
<stop offset="0.130" stop-color="#5da69d"/>
<stop offset="0.170" stop-color="#64ab92"/>
<stop offset="0.215" stop-color="#6db086"/>
<stop offset="0.270" stop-color="#7bb773"/>
<stop offset="0.335" stop-color="#8ebd63"/>
<stop offset="0.410" stop-color="#a5be53"/>
<stop offset="0.500" stop-color="#babc46"/>
<stop offset="0.600" stop-color="#ceb53e"/>
<stop offset="0.725" stop-color="#e19b34"/>
<stop offset="0.850" stop-color="#e2712b"/>
<stop offset="1.000" stop-color="#da3023"/>
</linearGradient>
<linearGradient id="h123" x1="0" x2="0" y1="454.6" y2="139.4" gradientUnits="userSpaceOnUse">
<stop offset="0.000" stop-color="#5198b3"/>
<stop offset="0.020" stop-color="#529ab0"/>
<stop offset="0.040" stop-color="#549cad"/>
<stop offset="0.065" stop-color="#579fa8"/>
<stop offset="0.095" stop-color="#5aa2a3"/>
<stop offset="0.130" stop-color="#5fa79b"/>
<stop offset="0.170" stop-color="#65ac91"/>
<stop offset="0.215" stop-color="#6fb184"/>
<stop offset="0.270" stop-color="#7cb871"/>
<stop offset="0.335" stop-color="#8fbd62"/>
<stop offset="0.410" stop-color="#a6be52"/>
<stop offset="0.500" stop-color="#bbbc46"/>
<stop offset="0.600" stop-color="#cfb43e"/>
<stop offset="0.725" stop-color="#e19a33"/>
<stop offset="0.850" stop-color="#e2702b"/>
<stop offset="1.000" stop-color="#da2f22"/>
</linearGradient>
<linearGradient id="h124" x1="0" x2="0" y1="454.6" y2="139.4" gradientUnits="userSpaceOnUse">
<stop offset="0.000" stop-color="#5299b1"/>
<stop offset="0.020" stop-color="#539bae"/>
<stop offset="0.040" stop-color="#559dab"/>
<stop offset="0.065" stop-color="#57a0a7"/>
<stop offset="0.095" stop-color="#5aa3a1"/>
<stop offset="0.130" stop-color="#60a799"/>
<stop offset="0.170" stop-color="#67ac8f"/>
<stop offset="0.215" stop-color="#70b282"/>
<stop offset="0.270" stop-color="#7eb870"/>
<stop offset="0.335" stop-color="#91bd61"/>
<stop offset="0.410" stop-color="#a7be51"/>
<stop offset="0.500" stop-color="#bcbb46"/>
<stop offset="0.600" stop-color="#cfb43e"/>
<stop offset="0.725" stop-color="#e19933"/>
<stop offset="0.850" stop-color="#e26f2b"/>
<stop offset="1.000" stop-color="#da2e22"/>
</linearGradient>
<linearGradient id="h125" x1="0" x2="0" y1="454.6" y2="139.4" gradientUnits="userSpaceOnUse">
<stop offset="0.000" stop-color="#529ab0"/>
<stop offset="0.020" stop-color="#549cad"/>
<stop offset="0.040" stop-color="#569ea9"/>
<stop offset="0.065" stop-color="#58a1a5"/>
<stop offset="0.095" stop-color="#5ba4a0"/>
<stop offset="0.130" stop-color="#61a897"/>
<stop offset="0.170" stop-color="#68ad8e"/>
<stop offset="0.215" stop-color="#71b380"/>
<stop offset="0.270" stop-color="#7fb96e"/>
<stop offset="0.335" stop-color="#92bd60"/>
<stop offset="0.410" stop-color="#a8be50"/>
<stop offset="0.500" stop-color="#bdbb45"/>
<stop offset="0.600" stop-color="#d0b43d"/>
<stop offset="0.725" stop-color="#e19933"/>
<stop offset="0.850" stop-color="#e26e2b"/>
<stop offset="1.000" stop-color="#d92e22"/>
</linearGradient>
<linearGradient id="h126" x1="0" x2="0" y1="454.6" y2="139.4" gradientUnits="userSpaceOnUse">
<stop offset="0.000" stop-color="#539bae"/>
<stop offset="0.020" stop-color="#559dab"/>
<stop offset="0.040" stop-color="#579fa8"/>
<stop offset="0.065" stop-color="#59a2a4"/>
<stop offset="0.095" stop-color="#5ca59e"/>
<stop offset="0.130" stop-color="#62a996"/>
<stop offset="0.170" stop-color="#69ae8c"/>
<stop offset="0.215" stop-color="#73b37e"/>
<stop offset="0.270" stop-color="#80b96d"/>
<stop offset="0.335" stop-color="#93bd5f"/>
<stop offset="0.410" stop-color="#a9be4f"/>
<stop offset="0.500" stop-color="#bdbb45"/>
<stop offset="0.600" stop-color="#d0b43d"/>
<stop offset="0.725" stop-color="#e19833"/>
<stop offset="0.850" stop-color="#e16d2a"/>
<stop offset="1.000" stop-color="#d92d22"/>
</linearGradient>
<linearGradient id="h127" x1="0" x2="0" y1="454.6" y2="139.4" gradientUnits="userSpaceOnUse">
<stop offset="0.000" stop-color="#549cad"/>
<stop offset="0.020" stop-color="#559daa"/>
<stop offset="0.040" stop-color="#57a0a7"/>
<stop offset="0.065" stop-color="#5aa2a2"/>
<stop offset="0.095" stop-color="#5da69d"/>
<stop offset="0.130" stop-color="#63aa95"/>
<stop offset="0.170" stop-color="#69af8b"/>
<stop offset="0.215" stop-color="#74b47d"/>
<stop offset="0.270" stop-color="#82ba6c"/>
<stop offset="0.335" stop-color="#94bd5e"/>
<stop offset="0.410" stop-color="#aabe4e"/>
<stop offset="0.500" stop-color="#bebb45"/>
<stop offset="0.600" stop-color="#d1b33d"/>
<stop offset="0.725" stop-color="#e29833"/>
<stop offset="0.850" stop-color="#e16d2a"/>
<stop offset="1.000" stop-color="#d92d22"/>
</linearGradient>
<linearGradient id="h128" x1="0" x2="0" y1="454.6" y2="139.4" gradientUnits="userSpaceOnUse">
<stop offset="0.000" stop-color="#549cac"/>
<stop offset="0.020" stop-color="#569ea9"/>
<stop offset="0.040" stop-color="#58a0a6"/>
<stop offset="0.065" stop-color="#5aa3a1"/>
<stop offset="0.095" stop-color="#5ea69b"/>
<stop offset="0.130" stop-color="#64aa93"/>
<stop offset="0.170" stop-color="#6aaf89"/>
<stop offset="0.215" stop-color="#75b47b"/>
<stop offset="0.270" stop-color="#83ba6b"/>
<stop offset="0.335" stop-color="#95bd5e"/>
<stop offset="0.410" stop-color="#abbe4e"/>
<stop offset="0.500" stop-color="#bebb45"/>
<stop offset="0.600" stop-color="#d1b33d"/>
<stop offset="0.725" stop-color="#e29732"/>
<stop offset="0.850" stop-color="#e16c2a"/>
<stop offset="1.000" stop-color="#d92c22"/>
</linearGradient>
<linearGradient id="h129" x1="0" x2="0" y1="454.6" y2="139.4" gradientUnits="userSpaceOnUse">
<stop offset="0.000" stop-color="#559dab"/>
<stop offset="0.020" stop-color="#579fa8"/>
<stop offset="0.040" stop-color="#59a1a4"/>
<stop offset="0.065" stop-color="#5ba4a0"/>
<stop offset="0.095" stop-color="#5fa79a"/>
<stop offset="0.130" stop-color="#64ab92"/>
<stop offset="0.170" stop-color="#6bb088"/>
<stop offset="0.215" stop-color="#76b57a"/>
<stop offset="0.270" stop-color="#84ba6a"/>
<stop offset="0.335" stop-color="#96bd5d"/>
<stop offset="0.410" stop-color="#acbe4d"/>
<stop offset="0.500" stop-color="#bfbb44"/>
<stop offset="0.600" stop-color="#d1b33d"/>
<stop offset="0.725" stop-color="#e29732"/>
<stop offset="0.850" stop-color="#e16b2a"/>
<stop offset="1.000" stop-color="#d92c22"/>
</linearGradient>
<linearGradient id="h130" x1="0" x2="0" y1="454.6" y2="139.4" gradientUnits="userSpaceOnUse">
<stop offset="0.000" stop-color="#569eaa"/>
<stop offset="0.020" stop-color="#57a0a7"/>
<stop offset="0.040" stop-color="#59a2a3"/>
<stop offset="0.065" stop-color="#5ca49f"/>
<stop offset="0.095" stop-color="#60a899"/>
<stop offset="0.130" stop-color="#65ab91"/>
<stop offset="0.170" stop-color="#6cb087"/>
<stop offset="0.215" stop-color="#77b579"/>
<stop offset="0.270" stop-color="#85bb6a"/>
<stop offset="0.335" stop-color="#97bd5c"/>
<stop offset="0.410" stop-color="#adbe4d"/>
<stop offset="0.500" stop-color="#c0bb44"/>
<stop offset="0.600" stop-color="#d2b33d"/>
<stop offset="0.725" stop-color="#e29632"/>
<stop offset="0.850" stop-color="#e16b2a"/>
<stop offset="1.000" stop-color="#d92b22"/>
</linearGradient>
<linearGradient id="h131" x1="0" x2="0" y1="454.6" y2="139.4" gradientUnits="userSpaceOnUse">
<stop offset="0.000" stop-color="#569ea9"/>
<stop offset="0.020" stop-color="#58a0a6"/>
<stop offset="0.040" stop-color="#5aa2a2"/>
<stop offset="0.065" stop-color="#5ca59e"/>
<stop offset="0.095" stop-color="#61a898"/>
<stop offset="0.130" stop-color="#66ac90"/>
<stop offset="0.170" stop-color="#6db186"/>
<stop offset="0.215" stop-color="#78b577"/>
<stop offset="0.270" stop-color="#86bb69"/>
<stop offset="0.335" stop-color="#98bd5c"/>
<stop offset="0.410" stop-color="#aebe4c"/>
<stop offset="0.500" stop-color="#c0bb44"/>
<stop offset="0.600" stop-color="#d2b23c"/>
<stop offset="0.725" stop-color="#e29632"/>
<stop offset="0.850" stop-color="#e16a2a"/>
<stop offset="1.000" stop-color="#d92a22"/>
</linearGradient>
<linearGradient id="h132" x1="0" x2="0" y1="454.6" y2="139.4" gradientUnits="userSpaceOnUse">
<stop offset="0.000" stop-color="#579fa8"/>
<stop offset="0.020" stop-color="#58a1a5"/>
<stop offset="0.040" stop-color="#5aa3a2"/>
<stop offset="0.065" stop-color="#5da69d"/>
<stop offset="0.095" stop-color="#61a997"/>
<stop offset="0.130" stop-color="#67ac8f"/>
<stop offset="0.170" stop-color="#6eb184"/>
<stop offset="0.215" stop-color="#78b676"/>
<stop offset="0.270" stop-color="#86bb68"/>
<stop offset="0.335" stop-color="#98bd5b"/>
<stop offset="0.410" stop-color="#aebe4c"/>
<stop offset="0.500" stop-color="#c1bb44"/>
<stop offset="0.600" stop-color="#d2b23c"/>
<stop offset="0.725" stop-color="#e29532"/>
<stop offset="0.850" stop-color="#e1692a"/>
<stop offset="1.000" stop-color="#d92a22"/>
</linearGradient>
<linearGradient id="h133" x1="0" x2="0" y1="454.6" y2="139.4" gradientUnits="userSpaceOnUse">
<stop offset="0.000" stop-color="#57a0a7"/>
<stop offset="0.020" stop-color="#59a2a4"/>
<stop offset="0.040" stop-color="#5ba4a1"/>
<stop offset="0.065" stop-color="#5ea69c"/>
<stop offset="0.095" stop-color="#62a996"/>
<stop offset="0.130" stop-color="#67ad8e"/>
<stop offset="0.170" stop-color="#6fb184"/>
<stop offset="0.215" stop-color="#79b676"/>
<stop offset="0.270" stop-color="#87bb68"/>
<stop offset="0.335" stop-color="#99bd5b"/>
<stop offset="0.410" stop-color="#afbe4c"/>
<stop offset="0.500" stop-color="#c1bb43"/>
<stop offset="0.600" stop-color="#d3b23c"/>
<stop offset="0.725" stop-color="#e29432"/>
<stop offset="0.850" stop-color="#e1692a"/>
<stop offset="1.000" stop-color="#d82922"/>
</linearGradient>
<linearGradient id="h134" x1="0" x2="0" y1="454.6" y2="139.4" gradientUnits="userSpaceOnUse">
<stop offset="0.000" stop-color="#58a0a6"/>
<stop offset="0.020" stop-color="#59a2a3"/>
<stop offset="0.040" stop-color="#5ba4a0"/>
<stop offset="0.065" stop-color="#5ea69b"/>
<stop offset="0.095" stop-color="#62a995"/>
<stop offset="0.130" stop-color="#68ad8e"/>
<stop offset="0.170" stop-color="#6fb283"/>
<stop offset="0.215" stop-color="#7ab675"/>
<stop offset="0.270" stop-color="#88bc67"/>
<stop offset="0.335" stop-color="#9abd5a"/>
<stop offset="0.410" stop-color="#afbe4b"/>
<stop offset="0.500" stop-color="#c1ba43"/>
<stop offset="0.600" stop-color="#d3b23c"/>
<stop offset="0.725" stop-color="#e29432"/>
<stop offset="0.850" stop-color="#e1682a"/>
<stop offset="1.000" stop-color="#d82922"/>
</linearGradient>
<linearGradient id="h135" x1="0" x2="0" y1="454.6" y2="139.4" gradientUnits="userSpaceOnUse">
<stop offset="0.000" stop-color="#58a1a5"/>
<stop offset="0.020" stop-color="#5aa2a2"/>
<stop offset="0.040" stop-color="#5ca49f"/>
<stop offset="0.065" stop-color="#5fa79a"/>
<stop offset="0.095" stop-color="#63aa94"/>
<stop offset="0.130" stop-color="#68ae8d"/>
<stop offset="0.170" stop-color="#70b282"/>
<stop offset="0.215" stop-color="#7ab774"/>
<stop offset="0.270" stop-color="#88bc67"/>
<stop offset="0.335" stop-color="#9abd5a"/>
<stop offset="0.410" stop-color="#b0be4b"/>
<stop offset="0.500" stop-color="#c2ba43"/>
<stop offset="0.600" stop-color="#d3b23c"/>
<stop offset="0.725" stop-color="#e29331"/>
<stop offset="0.850" stop-color="#e16829"/>
<stop offset="1.000" stop-color="#d82821"/>
</linearGradient>
<linearGradient id="h136" x1="0" x2="0" y1="454.6" y2="139.4" gradientUnits="userSpaceOnUse">
<stop offset="0.000" stop-color="#58a1a5"/>
<stop offset="0.020" stop-color="#5aa3a2"/>
<stop offset="0.040" stop-color="#5ca59e"/>
<stop offset="0.065" stop-color="#5fa79a"/>
<stop offset="0.095" stop-color="#63aa94"/>
<stop offset="0.130" stop-color="#69ae8c"/>
<stop offset="0.170" stop-color="#71b281"/>
<stop offset="0.215" stop-color="#7ab773"/>
<stop offset="0.270" stop-color="#89bc66"/>
<stop offset="0.335" stop-color="#9bbd5a"/>
<stop offset="0.410" stop-color="#b0be4b"/>
<stop offset="0.500" stop-color="#c2ba43"/>
<stop offset="0.600" stop-color="#d4b13c"/>
<stop offset="0.725" stop-color="#e29331"/>
<stop offset="0.850" stop-color="#e16729"/>
<stop offset="1.000" stop-color="#d82821"/>
</linearGradient>
<linearGradient id="h137" x1="0" x2="0" y1="454.6" y2="139.4" gradientUnits="userSpaceOnUse">
<stop offset="0.000" stop-color="#59a1a4"/>
<stop offset="0.020" stop-color="#5aa3a1"/>
<stop offset="0.040" stop-color="#5da59e"/>
<stop offset="0.065" stop-color="#60a899"/>
<stop offset="0.095" stop-color="#64aa93"/>
<stop offset="0.130" stop-color="#69ae8c"/>
<stop offset="0.170" stop-color="#71b280"/>
<stop offset="0.215" stop-color="#7bb773"/>
<stop offset="0.270" stop-color="#89bc66"/>
<stop offset="0.335" stop-color="#9bbd59"/>
<stop offset="0.410" stop-color="#b0be4b"/>
<stop offset="0.500" stop-color="#c2ba43"/>
<stop offset="0.600" stop-color="#d4b13c"/>
<stop offset="0.725" stop-color="#e29231"/>
<stop offset="0.850" stop-color="#e16629"/>
<stop offset="1.000" stop-color="#d82721"/>
</linearGradient>
<linearGradient id="h138" x1="0" x2="0" y1="454.6" y2="139.4" gradientUnits="userSpaceOnUse">
<stop offset="0.000" stop-color="#59a2a3"/>
<stop offset="0.020" stop-color="#5ba4a1"/>
<stop offset="0.040" stop-color="#5da59d"/>
<stop offset="0.065" stop-color="#60a898"/>
<stop offset="0.095" stop-color="#64ab92"/>
<stop offset="0.130" stop-color="#69ae8b"/>
<stop offset="0.170" stop-color="#71b380"/>
<stop offset="0.215" stop-color="#7bb772"/>
<stop offset="0.270" stop-color="#8abc66"/>
<stop offset="0.335" stop-color="#9bbd59"/>
<stop offset="0.410" stop-color="#b0be4b"/>
<stop offset="0.500" stop-color="#c3ba43"/>
<stop offset="0.600" stop-color="#d4b13c"/>
<stop offset="0.725" stop-color="#e29231"/>
<stop offset="0.850" stop-color="#e16629"/>
<stop offset="1.000" stop-color="#d82721"/>
</linearGradient>
<linearGradient id="h139" x1="0" x2="0" y1="454.6" y2="139.4" gradientUnits="userSpaceOnUse">
<stop offset="0.000" stop-color="#59a2a3"/>
<stop offset="0.020" stop-color="#5ba4a0"/>
<stop offset="0.040" stop-color="#5da69c"/>
<stop offset="0.065" stop-color="#61a898"/>
<stop offset="0.095" stop-color="#65ab92"/>
<stop offset="0.130" stop-color="#6aaf8b"/>
<stop offset="0.170" stop-color="#72b37f"/>
<stop offset="0.215" stop-color="#7cb772"/>
<stop offset="0.270" stop-color="#8abc66"/>
<stop offset="0.335" stop-color="#9cbd59"/>
<stop offset="0.410" stop-color="#b1be4b"/>
<stop offset="0.500" stop-color="#c3ba42"/>
<stop offset="0.600" stop-color="#d4b13b"/>
<stop offset="0.725" stop-color="#e29131"/>
<stop offset="0.850" stop-color="#e16529"/>
<stop offset="1.000" stop-color="#d82621"/>
</linearGradient>
<linearGradient id="h140" x1="0" x2="0" y1="454.6" y2="139.4" gradientUnits="userSpaceOnUse">
<stop offset="0.000" stop-color="#5aa2a2"/>
<stop offset="0.020" stop-color="#5ba49f"/>
<stop offset="0.040" stop-color="#5ea69c"/>
<stop offset="0.065" stop-color="#61a897"/>
<stop offset="0.095" stop-color="#65ab91"/>
<stop offset="0.130" stop-color="#6aaf8a"/>
<stop offset="0.170" stop-color="#72b37f"/>
<stop offset="0.215" stop-color="#7cb772"/>
<stop offset="0.270" stop-color="#8abc65"/>
<stop offset="0.335" stop-color="#9cbd59"/>
<stop offset="0.410" stop-color="#b1bd4b"/>
<stop offset="0.500" stop-color="#c3ba42"/>
<stop offset="0.600" stop-color="#d5b03b"/>
<stop offset="0.725" stop-color="#e29131"/>
<stop offset="0.850" stop-color="#e16529"/>
<stop offset="1.000" stop-color="#d82621"/>
</linearGradient>
<linearGradient id="h141" x1="0" x2="0" y1="454.6" y2="139.4" gradientUnits="userSpaceOnUse">
<stop offset="0.000" stop-color="#5aa3a2"/>
<stop offset="0.020" stop-color="#5ca59f"/>
<stop offset="0.040" stop-color="#5ea69b"/>
<stop offset="0.065" stop-color="#61a997"/>
<stop offset="0.095" stop-color="#65ab91"/>
<stop offset="0.130" stop-color="#6aaf8a"/>
<stop offset="0.170" stop-color="#72b37e"/>
<stop offset="0.215" stop-color="#7cb871"/>
<stop offset="0.270" stop-color="#8bbd65"/>
<stop offset="0.335" stop-color="#9cbd58"/>
<stop offset="0.410" stop-color="#b1bd4b"/>
<stop offset="0.500" stop-color="#c3ba42"/>
<stop offset="0.600" stop-color="#d5b03b"/>
<stop offset="0.725" stop-color="#e29031"/>
<stop offset="0.850" stop-color="#e16429"/>
<stop offset="1.000" stop-color="#d82521"/>
</linearGradient>
<linearGradient id="h142" x1="0" x2="0" y1="454.6" y2="139.4" gradientUnits="userSpaceOnUse">
<stop offset="0.000" stop-color="#5aa3a2"/>
<stop offset="0.020" stop-color="#5ca59f"/>
<stop offset="0.040" stop-color="#5ea69b"/>
<stop offset="0.065" stop-color="#61a996"/>
<stop offset="0.095" stop-color="#65ac91"/>
<stop offset="0.130" stop-color="#6baf89"/>
<stop offset="0.170" stop-color="#73b37e"/>
<stop offset="0.215" stop-color="#7cb871"/>
<stop offset="0.270" stop-color="#8bbd65"/>
<stop offset="0.335" stop-color="#9dbd58"/>
<stop offset="0.410" stop-color="#b1bd4b"/>
<stop offset="0.500" stop-color="#c4ba42"/>
<stop offset="0.600" stop-color="#d5b03b"/>
<stop offset="0.725" stop-color="#e29031"/>
<stop offset="0.850" stop-color="#e16429"/>
<stop offset="1.000" stop-color="#d82521"/>
</linearGradient>
<linearGradient id="h143" x1="0" x2="0" y1="454.6" y2="139.4" gradientUnits="userSpaceOnUse">
<stop offset="0.000" stop-color="#5aa3a1"/>
<stop offset="0.020" stop-color="#5ca59e"/>
<stop offset="0.040" stop-color="#5fa79b"/>
<stop offset="0.065" stop-color="#62a996"/>
<stop offset="0.095" stop-color="#66ac90"/>
<stop offset="0.130" stop-color="#6baf89"/>
<stop offset="0.170" stop-color="#73b37e"/>
<stop offset="0.215" stop-color="#7cb871"/>
<stop offset="0.270" stop-color="#8bbd65"/>
<stop offset="0.335" stop-color="#9dbd58"/>
<stop offset="0.410" stop-color="#b1bd4a"/>
<stop offset="0.500" stop-color="#c4ba42"/>
<stop offset="0.600" stop-color="#d5b03b"/>
<stop offset="0.725" stop-color="#e29031"/>
<stop offset="0.850" stop-color="#e16429"/>
<stop offset="1.000" stop-color="#d72521"/>
</linearGradient>
<linearGradient id="h144" x1="0" x2="0" y1="454.6" y2="139.4" gradientUnits="userSpaceOnUse">
<stop offset="0.000" stop-color="#5ba3a1"/>
<stop offset="0.020" stop-color="#5da59e"/>
<stop offset="0.040" stop-color="#5fa79a"/>
<stop offset="0.065" stop-color="#62a996"/>
<stop offset="0.095" stop-color="#66ac90"/>
<stop offset="0.130" stop-color="#6bb089"/>
<stop offset="0.170" stop-color="#73b37e"/>
<stop offset="0.215" stop-color="#7db870"/>
<stop offset="0.270" stop-color="#8bbd65"/>
<stop offset="0.335" stop-color="#9dbd58"/>
<stop offset="0.410" stop-color="#b2bd4a"/>
<stop offset="0.500" stop-color="#c4ba42"/>
<stop offset="0.600" stop-color="#d5b03b"/>
<stop offset="0.725" stop-color="#e28f31"/>
<stop offset="0.850" stop-color="#e16329"/>
<stop offset="1.000" stop-color="#d72421"/>
</linearGradient>
<linearGradient id="h145" x1="0" x2="0" y1="454.6" y2="139.4" gradientUnits="userSpaceOnUse">
<stop offset="0.000" stop-color="#5ba4a1"/>
<stop offset="0.020" stop-color="#5da59d"/>
<stop offset="0.040" stop-color="#5fa79a"/>
<stop offset="0.065" stop-color="#62a995"/>
<stop offset="0.095" stop-color="#66ac90"/>
<stop offset="0.130" stop-color="#6bb088"/>
<stop offset="0.170" stop-color="#73b37d"/>
<stop offset="0.215" stop-color="#7db870"/>
<stop offset="0.270" stop-color="#8bbd65"/>
<stop offset="0.335" stop-color="#9dbe58"/>
<stop offset="0.410" stop-color="#b2bd4a"/>
<stop offset="0.500" stop-color="#c4ba42"/>
<stop offset="0.600" stop-color="#d5b03b"/>
<stop offset="0.725" stop-color="#e28f31"/>
<stop offset="0.850" stop-color="#e16329"/>
<stop offset="1.000" stop-color="#d72421"/>
</linearGradient>
<linearGradient id="h146" x1="0" x2="0" y1="454.6" y2="139.4" gradientUnits="userSpaceOnUse">
<stop offset="0.000" stop-color="#5ba4a0"/>
<stop offset="0.020" stop-color="#5da59d"/>
<stop offset="0.040" stop-color="#5fa79a"/>
<stop offset="0.065" stop-color="#62a995"/>
<stop offset="0.095" stop-color="#66ac8f"/>
<stop offset="0.130" stop-color="#6cb088"/>
<stop offset="0.170" stop-color="#73b37d"/>
<stop offset="0.215" stop-color="#7db870"/>
<stop offset="0.270" stop-color="#8bbd64"/>
<stop offset="0.335" stop-color="#9dbe58"/>
<stop offset="0.410" stop-color="#b2bd4a"/>
<stop offset="0.500" stop-color="#c4ba42"/>
<stop offset="0.600" stop-color="#d5b03b"/>
<stop offset="0.725" stop-color="#e28f31"/>
<stop offset="0.850" stop-color="#e16229"/>
<stop offset="1.000" stop-color="#d72321"/>
</linearGradient>
<linearGradient id="h147" x1="0" x2="0" y1="454.6" y2="139.4" gradientUnits="userSpaceOnUse">
<stop offset="0.000" stop-color="#5ba4a0"/>
<stop offset="0.020" stop-color="#5da69d"/>
<stop offset="0.040" stop-color="#60a799"/>
<stop offset="0.065" stop-color="#63aa95"/>
<stop offset="0.095" stop-color="#66ac8f"/>
<stop offset="0.130" stop-color="#6cb088"/>
<stop offset="0.170" stop-color="#74b47d"/>
<stop offset="0.215" stop-color="#7db870"/>
<stop offset="0.270" stop-color="#8cbd64"/>
<stop offset="0.335" stop-color="#9dbe58"/>
<stop offset="0.410" stop-color="#b2bd4a"/>
<stop offset="0.500" stop-color="#c4ba42"/>
<stop offset="0.600" stop-color="#d6af3b"/>
<stop offset="0.725" stop-color="#e28f31"/>
<stop offset="0.850" stop-color="#e16229"/>
<stop offset="1.000" stop-color="#d72321"/>
</linearGradient>
<linearGradient id="h148" x1="0" x2="0" y1="454.6" y2="139.4" gradientUnits="userSpaceOnUse">
<stop offset="0.000" stop-color="#5ba4a0"/>
<stop offset="0.020" stop-color="#5da69c"/>
<stop offset="0.040" stop-color="#60a799"/>
<stop offset="0.065" stop-color="#63aa95"/>
<stop offset="0.095" stop-color="#67ad8f"/>
<stop offset="0.130" stop-color="#6cb087"/>
<stop offset="0.170" stop-color="#74b47d"/>
<stop offset="0.215" stop-color="#7db870"/>
<stop offset="0.270" stop-color="#8cbd64"/>
<stop offset="0.335" stop-color="#9dbe58"/>
<stop offset="0.410" stop-color="#b2bd4a"/>
<stop offset="0.500" stop-color="#c4ba42"/>
<stop offset="0.600" stop-color="#d6af3b"/>
<stop offset="0.725" stop-color="#e28e30"/>
<stop offset="0.850" stop-color="#e16228"/>
<stop offset="1.000" stop-color="#d72321"/>
</linearGradient>
<linearGradient id="h149" x1="0" x2="0" y1="454.6" y2="139.4" gradientUnits="userSpaceOnUse">
<stop offset="0.000" stop-color="#5ba49f"/>
<stop offset="0.020" stop-color="#5ea69c"/>
<stop offset="0.040" stop-color="#60a899"/>
<stop offset="0.065" stop-color="#63aa94"/>
<stop offset="0.095" stop-color="#67ad8f"/>
<stop offset="0.130" stop-color="#6cb087"/>
<stop offset="0.170" stop-color="#74b47c"/>
<stop offset="0.215" stop-color="#7db870"/>
<stop offset="0.270" stop-color="#8cbd64"/>
<stop offset="0.335" stop-color="#9dbe58"/>
<stop offset="0.410" stop-color="#b2bd4a"/>
<stop offset="0.500" stop-color="#c4ba42"/>
<stop offset="0.600" stop-color="#d6af3b"/>
<stop offset="0.725" stop-color="#e28e30"/>
<stop offset="0.850" stop-color="#e16128"/>
<stop offset="1.000" stop-color="#d72221"/>
</linearGradient>
<linearGradient id="h150" x1="0" x2="0" y1="454.6" y2="139.4" gradientUnits="userSpaceOnUse">
<stop offset="0.000" stop-color="#5ba49f"/>
<stop offset="0.020" stop-color="#5ea69c"/>
<stop offset="0.040" stop-color="#60a899"/>
<stop offset="0.065" stop-color="#63aa94"/>
<stop offset="0.095" stop-color="#67ad8f"/>
<stop offset="0.130" stop-color="#6cb087"/>
<stop offset="0.170" stop-color="#74b47c"/>
<stop offset="0.215" stop-color="#7db870"/>
<stop offset="0.270" stop-color="#8cbd64"/>
<stop offset="0.335" stop-color="#9ebe58"/>
<stop offset="0.410" stop-color="#b2bd4a"/>
<stop offset="0.500" stop-color="#c4ba42"/>
<stop offset="0.600" stop-color="#d6af3b"/>
<stop offset="0.725" stop-color="#e28e30"/>
<stop offset="0.850" stop-color="#e16128"/>
<stop offset="1.000" stop-color="#d72221"/>
</linearGradient>
<linearGradient id="h151" x1="0" x2="0" y1="454.6" y2="139.4" gradientUnits="userSpaceOnUse">
<stop offset="0.000" stop-color="#5ba49f"/>
<stop offset="0.020" stop-color="#5ea69c"/>
<stop offset="0.040" stop-color="#60a899"/>
<stop offset="0.065" stop-color="#63aa94"/>
<stop offset="0.095" stop-color="#67ad8f"/>
<stop offset="0.130" stop-color="#6cb087"/>
<stop offset="0.170" stop-color="#74b47c"/>
<stop offset="0.215" stop-color="#7db870"/>
<stop offset="0.270" stop-color="#8cbd64"/>
<stop offset="0.335" stop-color="#9ebe58"/>
<stop offset="0.410" stop-color="#b2bd4a"/>
<stop offset="0.500" stop-color="#c4ba42"/>
<stop offset="0.600" stop-color="#d6af3b"/>
<stop offset="0.725" stop-color="#e28e30"/>
<stop offset="0.850" stop-color="#e16128"/>
<stop offset="1.000" stop-color="#d72221"/>
</linearGradient>
<linearGradient id="h152" x1="0" x2="0" y1="454.6" y2="139.4" gradientUnits="userSpaceOnUse">
<stop offset="0.000" stop-color="#5ba49f"/>
<stop offset="0.020" stop-color="#5ea69c"/>
<stop offset="0.040" stop-color="#60a899"/>
<stop offset="0.065" stop-color="#63aa94"/>
<stop offset="0.095" stop-color="#67ad8f"/>
<stop offset="0.130" stop-color="#6cb087"/>
<stop offset="0.170" stop-color="#74b47c"/>
<stop offset="0.215" stop-color="#7db870"/>
<stop offset="0.270" stop-color="#8cbd64"/>
<stop offset="0.335" stop-color="#9ebe58"/>
<stop offset="0.410" stop-color="#b2bd4a"/>
<stop offset="0.500" stop-color="#c4ba42"/>
<stop offset="0.600" stop-color="#d6af3b"/>
<stop offset="0.725" stop-color="#e28d30"/>
<stop offset="0.850" stop-color="#e16028"/>
<stop offset="1.000" stop-color="#d72120"/>
</linearGradient>
<linearGradient id="h153" x1="0" x2="0" y1="454.6" y2="139.4" gradientUnits="userSpaceOnUse">
<stop offset="0.000" stop-color="#5ba49f"/>
<stop offset="0.020" stop-color="#5ea69c"/>
<stop offset="0.040" stop-color="#60a899"/>
<stop offset="0.065" stop-color="#63aa94"/>
<stop offset="0.095" stop-color="#67ad8f"/>
<stop offset="0.130" stop-color="#6cb087"/>
<stop offset="0.170" stop-color="#74b47c"/>
<stop offset="0.215" stop-color="#7db870"/>
<stop offset="0.270" stop-color="#8cbd64"/>
<stop offset="0.335" stop-color="#9ebe58"/>
<stop offset="0.410" stop-color="#b2bd4a"/>
<stop offset="0.500" stop-color="#c4ba42"/>
<stop offset="0.600" stop-color="#d6af3b"/>
<stop offset="0.725" stop-color="#e28d30"/>
<stop offset="0.850" stop-color="#e16028"/>
<stop offset="1.000" stop-color="#d72120"/>
</linearGradient>
<linearGradient id="h154" x1="0" x2="0" y1="454.6" y2="139.4" gradientUnits="userSpaceOnUse">
<stop offset="0.000" stop-color="#5ba49f"/>
<stop offset="0.020" stop-color="#5ea69c"/>
<stop offset="0.040" stop-color="#60a899"/>
<stop offset="0.065" stop-color="#63aa94"/>
<stop offset="0.095" stop-color="#67ad8f"/>
<stop offset="0.130" stop-color="#6cb087"/>
<stop offset="0.170" stop-color="#74b47c"/>
<stop offset="0.215" stop-color="#7db870"/>
<stop offset="0.270" stop-color="#8cbd64"/>
<stop offset="0.335" stop-color="#9ebe58"/>
<stop offset="0.410" stop-color="#b2bd4a"/>
<stop offset="0.500" stop-color="#c4ba42"/>
<stop offset="0.600" stop-color="#d6af3b"/>
<stop offset="0.725" stop-color="#e28d30"/>
<stop offset="0.850" stop-color="#e16028"/>
<stop offset="1.000" stop-color="#d72120"/>
</linearGradient>
<linearGradient id="h155" x1="0" x2="0" y1="454.6" y2="139.4" gradientUnits="userSpaceOnUse">
<stop offset="0.000" stop-color="#5ba49f"/>
<stop offset="0.020" stop-color="#5ea69c"/>
<stop offset="0.040" stop-color="#60a899"/>
<stop offset="0.065" stop-color="#63aa94"/>
<stop offset="0.095" stop-color="#67ad8f"/>
<stop offset="0.130" stop-color="#6cb087"/>
<stop offset="0.170" stop-color="#74b47c"/>
<stop offset="0.215" stop-color="#7db870"/>
<stop offset="0.270" stop-color="#8cbd64"/>
<stop offset="0.335" stop-color="#9ebe58"/>
<stop offset="0.410" stop-color="#b2bd4a"/>
<stop offset="0.500" stop-color="#c4ba42"/>
<stop offset="0.600" stop-color="#d6af3b"/>
<stop offset="0.725" stop-color="#e28d30"/>
<stop offset="0.850" stop-color="#e16028"/>
<stop offset="1.000" stop-color="#d72120"/>
</linearGradient>
<linearGradient id="h156" x1="0" x2="0" y1="454.6" y2="139.4" gradientUnits="userSpaceOnUse">
<stop offset="0.000" stop-color="#5ba49f"/>
<stop offset="0.020" stop-color="#5ea69c"/>
<stop offset="0.040" stop-color="#60a899"/>
<stop offset="0.065" stop-color="#63aa94"/>
<stop offset="0.095" stop-color="#67ad8f"/>
<stop offset="0.130" stop-color="#6cb087"/>
<stop offset="0.170" stop-color="#74b47c"/>
<stop offset="0.215" stop-color="#7db870"/>
<stop offset="0.270" stop-color="#8cbd64"/>
<stop offset="0.335" stop-color="#9ebe58"/>
<stop offset="0.410" stop-color="#b2bd4a"/>
<stop offset="0.500" stop-color="#c4ba42"/>
<stop offset="0.600" stop-color="#d6af3b"/>
<stop offset="0.725" stop-color="#e28d30"/>
<stop offset="0.850" stop-color="#e15f28"/>
<stop offset="1.000" stop-color="#d72020"/>
</linearGradient>
<linearGradient id="h157" x1="0" x2="0" y1="454.6" y2="139.4" gradientUnits="userSpaceOnUse">
<stop offset="0.000" stop-color="#5ba49f"/>
<stop offset="0.020" stop-color="#5ea69c"/>
<stop offset="0.040" stop-color="#60a899"/>
<stop offset="0.065" stop-color="#63aa94"/>
<stop offset="0.095" stop-color="#67ad8f"/>
<stop offset="0.130" stop-color="#6cb087"/>
<stop offset="0.170" stop-color="#74b47c"/>
<stop offset="0.215" stop-color="#7db870"/>
<stop offset="0.270" stop-color="#8cbd64"/>
<stop offset="0.335" stop-color="#9ebe58"/>
<stop offset="0.410" stop-color="#b2bd4a"/>
<stop offset="0.500" stop-color="#c4ba42"/>
<stop offset="0.600" stop-color="#d6af3b"/>
<stop offset="0.725" stop-color="#e28d30"/>
<stop offset="0.850" stop-color="#e15f28"/>
<stop offset="1.000" stop-color="#d62020"/>
</linearGradient>
<linearGradient id="h158" x1="0" x2="0" y1="454.6" y2="139.4" gradientUnits="userSpaceOnUse">
<stop offset="0.000" stop-color="#5ba49f"/>
<stop offset="0.020" stop-color="#5ea69c"/>
<stop offset="0.040" stop-color="#60a899"/>
<stop offset="0.065" stop-color="#63aa94"/>
<stop offset="0.095" stop-color="#67ad8f"/>
<stop offset="0.130" stop-color="#6cb087"/>
<stop offset="0.170" stop-color="#74b47c"/>
<stop offset="0.215" stop-color="#7db870"/>
<stop offset="0.270" stop-color="#8cbd64"/>
<stop offset="0.335" stop-color="#9ebe58"/>
<stop offset="0.410" stop-color="#b2bd4a"/>
<stop offset="0.500" stop-color="#c4ba42"/>
<stop offset="0.600" stop-color="#d6af3b"/>
<stop offset="0.725" stop-color="#e28c30"/>
<stop offset="0.850" stop-color="#e15f28"/>
<stop offset="1.000" stop-color="#d62020"/>
</linearGradient>
<linearGradient id="h159" x1="0" x2="0" y1="454.6" y2="139.4" gradientUnits="userSpaceOnUse">
<stop offset="0.000" stop-color="#5ba49f"/>
<stop offset="0.020" stop-color="#5ea69c"/>
<stop offset="0.040" stop-color="#60a899"/>
<stop offset="0.065" stop-color="#63aa94"/>
<stop offset="0.095" stop-color="#67ad8f"/>
<stop offset="0.130" stop-color="#6cb087"/>
<stop offset="0.170" stop-color="#74b47c"/>
<stop offset="0.215" stop-color="#7db870"/>
<stop offset="0.270" stop-color="#8cbd64"/>
<stop offset="0.335" stop-color="#9ebe58"/>
<stop offset="0.410" stop-color="#b2bd4a"/>
<stop offset="0.500" stop-color="#c4ba42"/>
<stop offset="0.600" stop-color="#d6af3b"/>
<stop offset="0.725" stop-color="#e28c30"/>
<stop offset="0.850" stop-color="#e15f28"/>
<stop offset="1.000" stop-color="#d62020"/>
</linearGradient>
<linearGradient id="h160" x1="0" x2="0" y1="454.6" y2="139.4" gradientUnits="userSpaceOnUse">
<stop offset="0.000" stop-color="#5ba49f"/>
<stop offset="0.020" stop-color="#5ea69c"/>
<stop offset="0.040" stop-color="#60a899"/>
<stop offset="0.065" stop-color="#63aa94"/>
<stop offset="0.095" stop-color="#67ad8f"/>
<stop offset="0.130" stop-color="#6cb087"/>
<stop offset="0.170" stop-color="#74b47c"/>
<stop offset="0.215" stop-color="#7db870"/>
<stop offset="0.270" stop-color="#8cbd64"/>
<stop offset="0.335" stop-color="#9ebe58"/>
<stop offset="0.410" stop-color="#b2bd4a"/>
<stop offset="0.500" stop-color="#c4ba42"/>
<stop offset="0.600" stop-color="#d6af3b"/>
<stop offset="0.725" stop-color="#e28c30"/>
<stop offset="0.850" stop-color="#e15f28"/>
<stop offset="1.000" stop-color="#d61f20"/>
</linearGradient>
<linearGradient id="h161" x1="0" x2="0" y1="454.6" y2="139.4" gradientUnits="userSpaceOnUse">
<stop offset="0.000" stop-color="#5ba49f"/>
<stop offset="0.020" stop-color="#5ea69c"/>
<stop offset="0.040" stop-color="#60a899"/>
<stop offset="0.065" stop-color="#63aa94"/>
<stop offset="0.095" stop-color="#67ad8f"/>
<stop offset="0.130" stop-color="#6cb087"/>
<stop offset="0.170" stop-color="#74b47c"/>
<stop offset="0.215" stop-color="#7db870"/>
<stop offset="0.270" stop-color="#8cbd64"/>
<stop offset="0.335" stop-color="#9ebe58"/>
<stop offset="0.410" stop-color="#b2bd4a"/>
<stop offset="0.500" stop-color="#c4ba42"/>
<stop offset="0.600" stop-color="#d6af3b"/>
<stop offset="0.725" stop-color="#e28c30"/>
<stop offset="0.850" stop-color="#e15e28"/>
<stop offset="1.000" stop-color="#d61f20"/>
</linearGradient>
<linearGradient id="h162" x1="0" x2="0" y1="454.6" y2="139.4" gradientUnits="userSpaceOnUse">
<stop offset="0.000" stop-color="#5ba49f"/>
<stop offset="0.020" stop-color="#5ea69c"/>
<stop offset="0.040" stop-color="#60a899"/>
<stop offset="0.065" stop-color="#63aa94"/>
<stop offset="0.095" stop-color="#67ad8f"/>
<stop offset="0.130" stop-color="#6cb087"/>
<stop offset="0.170" stop-color="#74b47c"/>
<stop offset="0.215" stop-color="#7db870"/>
<stop offset="0.270" stop-color="#8cbd64"/>
<stop offset="0.335" stop-color="#9ebe58"/>
<stop offset="0.410" stop-color="#b2bd4a"/>
<stop offset="0.500" stop-color="#c4ba42"/>
<stop offset="0.600" stop-color="#d6af3b"/>
<stop offset="0.725" stop-color="#e28c30"/>
<stop offset="0.850" stop-color="#e15e28"/>
<stop offset="1.000" stop-color="#d61f20"/>
</linearGradient>
<linearGradient id="h163" x1="0" x2="0" y1="454.6" y2="139.4" gradientUnits="userSpaceOnUse">
<stop offset="0.000" stop-color="#5ba49f"/>
<stop offset="0.020" stop-color="#5ea69c"/>
<stop offset="0.040" stop-color="#60a899"/>
<stop offset="0.065" stop-color="#63aa94"/>
<stop offset="0.095" stop-color="#67ad8f"/>
<stop offset="0.130" stop-color="#6cb087"/>
<stop offset="0.170" stop-color="#74b47c"/>
<stop offset="0.215" stop-color="#7db870"/>
<stop offset="0.270" stop-color="#8cbd64"/>
<stop offset="0.335" stop-color="#9ebe58"/>
<stop offset="0.410" stop-color="#b2bd4a"/>
<stop offset="0.500" stop-color="#c4ba42"/>
<stop offset="0.600" stop-color="#d6af3b"/>
<stop offset="0.725" stop-color="#e28c30"/>
<stop offset="0.850" stop-color="#e15e28"/>
<stop offset="1.000" stop-color="#d61f20"/>
</linearGradient>
<filter id="hb" x="-0.05" y="-0.05" width="1.1" height="1.1"><feGaussianBlur stdDeviation="2.2 0"/></filter>
<clipPath id="hc"><rect x="681.3" y="139.4" width="625.5" height="315.2"/></clipPath>
</defs>
<g clip-path="url(#hc)"><g filter="url(#hb)">
<rect x="669.3" y="139.4" width="4.6" height="315.2" fill="url(#h0)"/>
<rect x="673.3" y="139.4" width="4.6" height="315.2" fill="url(#h1)"/>
<rect x="677.3" y="139.4" width="4.6" height="315.2" fill="url(#h2)"/>
<rect x="681.3" y="139.4" width="4.6" height="315.2" fill="url(#h3)"/>
<rect x="685.3" y="139.4" width="4.6" height="315.2" fill="url(#h4)"/>
<rect x="689.3" y="139.4" width="4.6" height="315.2" fill="url(#h5)"/>
<rect x="693.3" y="139.4" width="4.6" height="315.2" fill="url(#h6)"/>
<rect x="697.3" y="139.4" width="4.6" height="315.2" fill="url(#h7)"/>
<rect x="701.3" y="139.4" width="4.6" height="315.2" fill="url(#h8)"/>
<rect x="705.3" y="139.4" width="4.6" height="315.2" fill="url(#h9)"/>
<rect x="709.3" y="139.4" width="4.6" height="315.2" fill="url(#h10)"/>
<rect x="713.3" y="139.4" width="4.6" height="315.2" fill="url(#h11)"/>
<rect x="717.3" y="139.4" width="4.6" height="315.2" fill="url(#h12)"/>
<rect x="721.3" y="139.4" width="4.6" height="315.2" fill="url(#h13)"/>
<rect x="725.3" y="139.4" width="4.6" height="315.2" fill="url(#h14)"/>
<rect x="729.3" y="139.4" width="4.6" height="315.2" fill="url(#h15)"/>
<rect x="733.3" y="139.4" width="4.6" height="315.2" fill="url(#h16)"/>
<rect x="737.3" y="139.4" width="4.6" height="315.2" fill="url(#h17)"/>
<rect x="741.3" y="139.4" width="4.6" height="315.2" fill="url(#h18)"/>
<rect x="745.3" y="139.4" width="4.6" height="315.2" fill="url(#h19)"/>
<rect x="749.3" y="139.4" width="4.6" height="315.2" fill="url(#h20)"/>
<rect x="753.3" y="139.4" width="4.6" height="315.2" fill="url(#h21)"/>
<rect x="757.3" y="139.4" width="4.6" height="315.2" fill="url(#h22)"/>
<rect x="761.3" y="139.4" width="4.6" height="315.2" fill="url(#h23)"/>
<rect x="765.3" y="139.4" width="4.6" height="315.2" fill="url(#h24)"/>
<rect x="769.3" y="139.4" width="4.6" height="315.2" fill="url(#h25)"/>
<rect x="773.3" y="139.4" width="4.6" height="315.2" fill="url(#h26)"/>
<rect x="777.3" y="139.4" width="4.6" height="315.2" fill="url(#h27)"/>
<rect x="781.3" y="139.4" width="4.6" height="315.2" fill="url(#h28)"/>
<rect x="785.3" y="139.4" width="4.6" height="315.2" fill="url(#h29)"/>
<rect x="789.3" y="139.4" width="4.6" height="315.2" fill="url(#h30)"/>
<rect x="793.3" y="139.4" width="4.6" height="315.2" fill="url(#h31)"/>
<rect x="797.3" y="139.4" width="4.6" height="315.2" fill="url(#h32)"/>
<rect x="801.3" y="139.4" width="4.6" height="315.2" fill="url(#h33)"/>
<rect x="805.3" y="139.4" width="4.6" height="315.2" fill="url(#h34)"/>
<rect x="809.3" y="139.4" width="4.6" height="315.2" fill="url(#h35)"/>
<rect x="813.3" y="139.4" width="4.6" height="315.2" fill="url(#h36)"/>
<rect x="817.3" y="139.4" width="4.6" height="315.2" fill="url(#h37)"/>
<rect x="821.3" y="139.4" width="4.6" height="315.2" fill="url(#h38)"/>
<rect x="825.3" y="139.4" width="4.6" height="315.2" fill="url(#h39)"/>
<rect x="829.3" y="139.4" width="4.6" height="315.2" fill="url(#h40)"/>
<rect x="833.3" y="139.4" width="4.6" height="315.2" fill="url(#h41)"/>
<rect x="837.3" y="139.4" width="4.6" height="315.2" fill="url(#h42)"/>
<rect x="841.3" y="139.4" width="4.6" height="315.2" fill="url(#h43)"/>
<rect x="845.3" y="139.4" width="4.6" height="315.2" fill="url(#h44)"/>
<rect x="849.3" y="139.4" width="4.6" height="315.2" fill="url(#h45)"/>
<rect x="853.3" y="139.4" width="4.6" height="315.2" fill="url(#h46)"/>
<rect x="857.3" y="139.4" width="4.6" height="315.2" fill="url(#h47)"/>
<rect x="861.3" y="139.4" width="4.6" height="315.2" fill="url(#h48)"/>
<rect x="865.3" y="139.4" width="4.6" height="315.2" fill="url(#h49)"/>
<rect x="869.3" y="139.4" width="4.6" height="315.2" fill="url(#h50)"/>
<rect x="873.3" y="139.4" width="4.6" height="315.2" fill="url(#h51)"/>
<rect x="877.3" y="139.4" width="4.6" height="315.2" fill="url(#h52)"/>
<rect x="881.3" y="139.4" width="4.6" height="315.2" fill="url(#h53)"/>
<rect x="885.3" y="139.4" width="4.6" height="315.2" fill="url(#h54)"/>
<rect x="889.3" y="139.4" width="4.6" height="315.2" fill="url(#h55)"/>
<rect x="893.3" y="139.4" width="4.6" height="315.2" fill="url(#h56)"/>
<rect x="897.3" y="139.4" width="4.6" height="315.2" fill="url(#h57)"/>
<rect x="901.3" y="139.4" width="4.6" height="315.2" fill="url(#h58)"/>
<rect x="905.3" y="139.4" width="4.6" height="315.2" fill="url(#h59)"/>
<rect x="909.3" y="139.4" width="4.6" height="315.2" fill="url(#h60)"/>
<rect x="913.3" y="139.4" width="4.6" height="315.2" fill="url(#h61)"/>
<rect x="917.3" y="139.4" width="4.6" height="315.2" fill="url(#h62)"/>
<rect x="921.3" y="139.4" width="4.6" height="315.2" fill="url(#h63)"/>
<rect x="925.3" y="139.4" width="4.6" height="315.2" fill="url(#h64)"/>
<rect x="929.3" y="139.4" width="4.6" height="315.2" fill="url(#h65)"/>
<rect x="933.3" y="139.4" width="4.6" height="315.2" fill="url(#h66)"/>
<rect x="937.3" y="139.4" width="4.6" height="315.2" fill="url(#h67)"/>
<rect x="941.3" y="139.4" width="4.6" height="315.2" fill="url(#h68)"/>
<rect x="945.3" y="139.4" width="4.6" height="315.2" fill="url(#h69)"/>
<rect x="949.3" y="139.4" width="4.6" height="315.2" fill="url(#h70)"/>
<rect x="953.3" y="139.4" width="4.6" height="315.2" fill="url(#h71)"/>
<rect x="957.3" y="139.4" width="4.6" height="315.2" fill="url(#h72)"/>
<rect x="961.3" y="139.4" width="4.6" height="315.2" fill="url(#h73)"/>
<rect x="965.3" y="139.4" width="4.6" height="315.2" fill="url(#h74)"/>
<rect x="969.3" y="139.4" width="4.6" height="315.2" fill="url(#h75)"/>
<rect x="973.3" y="139.4" width="4.6" height="315.2" fill="url(#h76)"/>
<rect x="977.3" y="139.4" width="4.6" height="315.2" fill="url(#h77)"/>
<rect x="981.3" y="139.4" width="4.6" height="315.2" fill="url(#h78)"/>
<rect x="985.3" y="139.4" width="4.6" height="315.2" fill="url(#h79)"/>
<rect x="989.3" y="139.4" width="4.6" height="315.2" fill="url(#h80)"/>
<rect x="993.3" y="139.4" width="4.6" height="315.2" fill="url(#h81)"/>
<rect x="997.3" y="139.4" width="4.6" height="315.2" fill="url(#h82)"/>
<rect x="1001.3" y="139.4" width="4.6" height="315.2" fill="url(#h83)"/>
<rect x="1005.3" y="139.4" width="4.6" height="315.2" fill="url(#h84)"/>
<rect x="1009.3" y="139.4" width="4.6" height="315.2" fill="url(#h85)"/>
<rect x="1013.3" y="139.4" width="4.6" height="315.2" fill="url(#h86)"/>
<rect x="1017.3" y="139.4" width="4.6" height="315.2" fill="url(#h87)"/>
<rect x="1021.3" y="139.4" width="4.6" height="315.2" fill="url(#h88)"/>
<rect x="1025.3" y="139.4" width="4.6" height="315.2" fill="url(#h89)"/>
<rect x="1029.3" y="139.4" width="4.6" height="315.2" fill="url(#h90)"/>
<rect x="1033.3" y="139.4" width="4.6" height="315.2" fill="url(#h91)"/>
<rect x="1037.3" y="139.4" width="4.6" height="315.2" fill="url(#h92)"/>
<rect x="1041.3" y="139.4" width="4.6" height="315.2" fill="url(#h93)"/>
<rect x="1045.3" y="139.4" width="4.6" height="315.2" fill="url(#h94)"/>
<rect x="1049.3" y="139.4" width="4.6" height="315.2" fill="url(#h95)"/>
<rect x="1053.3" y="139.4" width="4.6" height="315.2" fill="url(#h96)"/>
<rect x="1057.3" y="139.4" width="4.6" height="315.2" fill="url(#h97)"/>
<rect x="1061.3" y="139.4" width="4.6" height="315.2" fill="url(#h98)"/>
<rect x="1065.3" y="139.4" width="4.6" height="315.2" fill="url(#h99)"/>
<rect x="1069.3" y="139.4" width="4.6" height="315.2" fill="url(#h100)"/>
<rect x="1073.3" y="139.4" width="4.6" height="315.2" fill="url(#h101)"/>
<rect x="1077.3" y="139.4" width="4.6" height="315.2" fill="url(#h102)"/>
<rect x="1081.3" y="139.4" width="4.6" height="315.2" fill="url(#h103)"/>
<rect x="1085.3" y="139.4" width="4.6" height="315.2" fill="url(#h104)"/>
<rect x="1089.3" y="139.4" width="4.6" height="315.2" fill="url(#h105)"/>
<rect x="1093.3" y="139.4" width="4.6" height="315.2" fill="url(#h106)"/>
<rect x="1097.3" y="139.4" width="4.6" height="315.2" fill="url(#h107)"/>
<rect x="1101.3" y="139.4" width="4.6" height="315.2" fill="url(#h108)"/>
<rect x="1105.3" y="139.4" width="4.6" height="315.2" fill="url(#h109)"/>
<rect x="1109.3" y="139.4" width="4.6" height="315.2" fill="url(#h110)"/>
<rect x="1113.3" y="139.4" width="4.6" height="315.2" fill="url(#h111)"/>
<rect x="1117.3" y="139.4" width="4.6" height="315.2" fill="url(#h112)"/>
<rect x="1121.3" y="139.4" width="4.6" height="315.2" fill="url(#h113)"/>
<rect x="1125.3" y="139.4" width="4.6" height="315.2" fill="url(#h114)"/>
<rect x="1129.3" y="139.4" width="4.6" height="315.2" fill="url(#h115)"/>
<rect x="1133.3" y="139.4" width="4.6" height="315.2" fill="url(#h116)"/>
<rect x="1137.3" y="139.4" width="4.6" height="315.2" fill="url(#h117)"/>
<rect x="1141.3" y="139.4" width="4.6" height="315.2" fill="url(#h118)"/>
<rect x="1145.3" y="139.4" width="4.6" height="315.2" fill="url(#h119)"/>
<rect x="1149.3" y="139.4" width="4.6" height="315.2" fill="url(#h120)"/>
<rect x="1153.3" y="139.4" width="4.6" height="315.2" fill="url(#h121)"/>
<rect x="1157.3" y="139.4" width="4.6" height="315.2" fill="url(#h122)"/>
<rect x="1161.3" y="139.4" width="4.6" height="315.2" fill="url(#h123)"/>
<rect x="1165.3" y="139.4" width="4.6" height="315.2" fill="url(#h124)"/>
<rect x="1169.3" y="139.4" width="4.6" height="315.2" fill="url(#h125)"/>
<rect x="1173.3" y="139.4" width="4.6" height="315.2" fill="url(#h126)"/>
<rect x="1177.3" y="139.4" width="4.6" height="315.2" fill="url(#h127)"/>
<rect x="1181.3" y="139.4" width="4.6" height="315.2" fill="url(#h128)"/>
<rect x="1185.3" y="139.4" width="4.6" height="315.2" fill="url(#h129)"/>
<rect x="1189.3" y="139.4" width="4.6" height="315.2" fill="url(#h130)"/>
<rect x="1193.3" y="139.4" width="4.6" height="315.2" fill="url(#h131)"/>
<rect x="1197.3" y="139.4" width="4.6" height="315.2" fill="url(#h132)"/>
<rect x="1201.3" y="139.4" width="4.6" height="315.2" fill="url(#h133)"/>
<rect x="1205.3" y="139.4" width="4.6" height="315.2" fill="url(#h134)"/>
<rect x="1209.3" y="139.4" width="4.6" height="315.2" fill="url(#h135)"/>
<rect x="1213.3" y="139.4" width="4.6" height="315.2" fill="url(#h136)"/>
<rect x="1217.3" y="139.4" width="4.6" height="315.2" fill="url(#h137)"/>
<rect x="1221.3" y="139.4" width="4.6" height="315.2" fill="url(#h138)"/>
<rect x="1225.3" y="139.4" width="4.6" height="315.2" fill="url(#h139)"/>
<rect x="1229.3" y="139.4" width="4.6" height="315.2" fill="url(#h140)"/>
<rect x="1233.3" y="139.4" width="4.6" height="315.2" fill="url(#h141)"/>
<rect x="1237.3" y="139.4" width="4.6" height="315.2" fill="url(#h142)"/>
<rect x="1241.3" y="139.4" width="4.6" height="315.2" fill="url(#h143)"/>
<rect x="1245.3" y="139.4" width="4.6" height="315.2" fill="url(#h144)"/>
<rect x="1249.3" y="139.4" width="4.6" height="315.2" fill="url(#h145)"/>
<rect x="1253.3" y="139.4" width="4.6" height="315.2" fill="url(#h146)"/>
<rect x="1257.3" y="139.4" width="4.6" height="315.2" fill="url(#h147)"/>
<rect x="1261.3" y="139.4" width="4.6" height="315.2" fill="url(#h148)"/>
<rect x="1265.3" y="139.4" width="4.6" height="315.2" fill="url(#h149)"/>
<rect x="1269.3" y="139.4" width="4.6" height="315.2" fill="url(#h150)"/>
<rect x="1273.3" y="139.4" width="4.6" height="315.2" fill="url(#h151)"/>
<rect x="1277.3" y="139.4" width="4.6" height="315.2" fill="url(#h152)"/>
<rect x="1281.3" y="139.4" width="4.6" height="315.2" fill="url(#h153)"/>
<rect x="1285.3" y="139.4" width="4.6" height="315.2" fill="url(#h154)"/>
<rect x="1289.3" y="139.4" width="4.6" height="315.2" fill="url(#h155)"/>
<rect x="1293.3" y="139.4" width="4.6" height="315.2" fill="url(#h156)"/>
<rect x="1297.3" y="139.4" width="4.6" height="315.2" fill="url(#h157)"/>
<rect x="1301.3" y="139.4" width="4.6" height="315.2" fill="url(#h158)"/>
<rect x="1305.3" y="139.4" width="4.6" height="315.2" fill="url(#h159)"/>
<rect x="1309.3" y="139.4" width="4.6" height="315.2" fill="url(#h160)"/>
<rect x="1313.3" y="139.4" width="4.6" height="315.2" fill="url(#h161)"/>
<rect x="1317.3" y="139.4" width="4.6" height="315.2" fill="url(#h162)"/>
<rect x="1321.3" y="139.4" width="4.6" height="315.2" fill="url(#h163)"/>
</g></g>
<rect x="681.3" y="139.4" width="625.5" height="315.2" fill="none" stroke="#000" stroke-opacity="0.35" stroke-width="1"/>
<rect x="768" y="78.7" width="429.4" height="28.5" fill="url(#cbar)"/>
<line x1="767.5" y1="74.8" x2="767.5" y2="77" stroke="#cfcfcf" stroke-width="0.9"/>
<line x1="783.4" y1="74.8" x2="783.4" y2="77" stroke="#cfcfcf" stroke-width="0.9"/>
<line x1="799.2" y1="74.8" x2="799.2" y2="77" stroke="#cfcfcf" stroke-width="0.9"/>
<line x1="815" y1="74.8" x2="815" y2="77" stroke="#cfcfcf" stroke-width="0.9"/>
<line x1="830.8" y1="73.5" x2="830.8" y2="77" stroke="#cfcfcf" stroke-width="0.9"/>
<line x1="846.7" y1="74.8" x2="846.7" y2="77" stroke="#cfcfcf" stroke-width="0.9"/>
<line x1="862.5" y1="74.8" x2="862.5" y2="77" stroke="#cfcfcf" stroke-width="0.9"/>
<line x1="878.3" y1="74.8" x2="878.3" y2="77" stroke="#cfcfcf" stroke-width="0.9"/>
<line x1="894.1" y1="74.8" x2="894.1" y2="77" stroke="#cfcfcf" stroke-width="0.9"/>
<line x1="910" y1="73.5" x2="910" y2="77" stroke="#cfcfcf" stroke-width="0.9"/>
<line x1="925.8" y1="74.8" x2="925.8" y2="77" stroke="#cfcfcf" stroke-width="0.9"/>
<line x1="941.6" y1="74.8" x2="941.6" y2="77" stroke="#cfcfcf" stroke-width="0.9"/>
<line x1="957.5" y1="74.8" x2="957.5" y2="77" stroke="#cfcfcf" stroke-width="0.9"/>
<line x1="973.3" y1="74.8" x2="973.3" y2="77" stroke="#cfcfcf" stroke-width="0.9"/>
<line x1="989.1" y1="73.5" x2="989.1" y2="77" stroke="#cfcfcf" stroke-width="0.9"/>
<line x1="1004.9" y1="74.8" x2="1004.9" y2="77" stroke="#cfcfcf" stroke-width="0.9"/>
<line x1="1020.8" y1="74.8" x2="1020.8" y2="77" stroke="#cfcfcf" stroke-width="0.9"/>
<line x1="1036.6" y1="74.8" x2="1036.6" y2="77" stroke="#cfcfcf" stroke-width="0.9"/>
<line x1="1052.4" y1="74.8" x2="1052.4" y2="77" stroke="#cfcfcf" stroke-width="0.9"/>
<line x1="1068.2" y1="73.5" x2="1068.2" y2="77" stroke="#cfcfcf" stroke-width="0.9"/>
<line x1="1084.1" y1="74.8" x2="1084.1" y2="77" stroke="#cfcfcf" stroke-width="0.9"/>
<line x1="1099.9" y1="74.8" x2="1099.9" y2="77" stroke="#cfcfcf" stroke-width="0.9"/>
<line x1="1115.7" y1="74.8" x2="1115.7" y2="77" stroke="#cfcfcf" stroke-width="0.9"/>
<line x1="1131.6" y1="74.8" x2="1131.6" y2="77" stroke="#cfcfcf" stroke-width="0.9"/>
<line x1="1147.4" y1="73.5" x2="1147.4" y2="77" stroke="#cfcfcf" stroke-width="0.9"/>
<line x1="1163.2" y1="74.8" x2="1163.2" y2="77" stroke="#cfcfcf" stroke-width="0.9"/>
<line x1="1179" y1="74.8" x2="1179" y2="77" stroke="#cfcfcf" stroke-width="0.9"/>
<line x1="1194.9" y1="74.8" x2="1194.9" y2="77" stroke="#cfcfcf" stroke-width="0.9"/>
<text x="830.8" y="62.7" style="font-family:'Liberation Sans',sans-serif;font-size:23px" text-anchor="middle" fill="#666666" letter-spacing="-0.8">0.05</text>
<text x="910" y="62.7" style="font-family:'Liberation Sans',sans-serif;font-size:23px" text-anchor="middle" fill="#666666" letter-spacing="-0.8">0.10</text>
<text x="989.1" y="62.7" style="font-family:'Liberation Sans',sans-serif;font-size:23px" text-anchor="middle" fill="#666666" letter-spacing="-0.8">0.15</text>
<text x="1068.2" y="62.7" style="font-family:'Liberation Sans',sans-serif;font-size:23px" text-anchor="middle" fill="#666666" letter-spacing="-0.8">0.20</text>
<text x="1147.4" y="62.7" style="font-family:'Liberation Sans',sans-serif;font-size:23px" text-anchor="middle" fill="#666666" letter-spacing="-0.8">0.25</text>
<text x="951.5" y="32.5" style="font-family:'Liberation Sans',sans-serif;font-size:22.5px" letter-spacing="-0.6">c/<tspan font-style="italic">c</tspan><tspan font-size="16.5px" dy="3">s</tspan></text>
<path d="M688.4 454.6 v-4 M688.4 139.4 v4 M722.6 454.6 v-6.5 M722.6 139.4 v6.5 M756.8 454.6 v-4 M756.8 139.4 v4 M790.9 454.6 v-6.5 M790.9 139.4 v6.5 M825 454.6 v-4 M825 139.4 v4 M859.2 454.6 v-6.5 M859.2 139.4 v6.5 M893.3 454.6 v-4 M893.3 139.4 v4 M927.5 454.6 v-6.5 M927.5 139.4 v6.5 M961.6 454.6 v-4 M961.6 139.4 v4 M995.8 454.6 v-6.5 M995.8 139.4 v6.5 M1030 454.6 v-4 M1030 139.4 v4 M1064.1 454.6 v-6.5 M1064.1 139.4 v6.5 M1098.2 454.6 v-4 M1098.2 139.4 v4 M1132.4 454.6 v-6.5 M1132.4 139.4 v6.5 M1166.5 454.6 v-4 M1166.5 139.4 v4 M1200.7 454.6 v-6.5 M1200.7 139.4 v6.5 M1234.8 454.6 v-4 M1234.8 139.4 v4 M1269 454.6 v-6.5 M1269 139.4 v6.5 M1303.2 454.6 v-4 M1303.2 139.4 v4 M681.3 438.8 h4 M1306.8 438.8 h-4 M681.3 423.1 h4 M1306.8 423.1 h-4 M681.3 407.3 h4 M1306.8 407.3 h-4 M681.3 391.6 h4 M1306.8 391.6 h-4 M681.3 375.8 h6.5 M1306.8 375.8 h-6.5 M681.3 360 h4 M1306.8 360 h-4 M681.3 344.3 h4 M1306.8 344.3 h-4 M681.3 328.5 h4 M1306.8 328.5 h-4 M681.3 312.8 h4 M1306.8 312.8 h-4 M681.3 297 h6.5 M1306.8 297 h-6.5 M681.3 281.2 h4 M1306.8 281.2 h-4 M681.3 265.5 h4 M1306.8 265.5 h-4 M681.3 249.7 h4 M1306.8 249.7 h-4 M681.3 234 h4 M1306.8 234 h-4 M681.3 218.2 h6.5 M1306.8 218.2 h-6.5 M681.3 202.4 h4 M1306.8 202.4 h-4 M681.3 186.7 h4 M1306.8 186.7 h-4 M681.3 170.9 h4 M1306.8 170.9 h-4 M681.3 155.2 h4 M1306.8 155.2 h-4" stroke="#000" stroke-opacity="0.45" stroke-width="1"/>
<line x1="907.2" y1="444" x2="907.2" y2="464" stroke="#000" stroke-width="2.2"/>
<line x1="1083" y1="444" x2="1083" y2="464" stroke="#000" stroke-width="2.2"/>
<text x="675.3" y="145.3" style="font-family:'Liberation Sans',sans-serif;font-size:22.3px" text-anchor="end" letter-spacing="-1.2">0.20</text>
<text x="675.3" y="224.1" style="font-family:'Liberation Sans',sans-serif;font-size:22.3px" text-anchor="end" letter-spacing="-1.2">0.15</text>
<text x="675.3" y="302.9" style="font-family:'Liberation Sans',sans-serif;font-size:22.3px" text-anchor="end" letter-spacing="-1.2">0.10</text>
<text x="675.3" y="381.7" style="font-family:'Liberation Sans',sans-serif;font-size:22.3px" text-anchor="end" letter-spacing="-1.2">0.05</text>
<text x="675.3" y="460.5" style="font-family:'Liberation Sans',sans-serif;font-size:22.3px" text-anchor="end" letter-spacing="-1.2">0.00</text>
<text x="721.4" y="476.9" style="font-family:'Liberation Sans',sans-serif;font-size:22.3px" text-anchor="middle" letter-spacing="-1.0">&#8722;0.4</text>
<text x="858" y="476.9" style="font-family:'Liberation Sans',sans-serif;font-size:22.3px" text-anchor="middle" letter-spacing="-1.0">&#8722;0.2</text>
<text x="994.6" y="476.9" style="font-family:'Liberation Sans',sans-serif;font-size:22.3px" text-anchor="middle" letter-spacing="-1.0">0.0</text>
<text x="1131.2" y="476.9" style="font-family:'Liberation Sans',sans-serif;font-size:22.3px" text-anchor="middle" letter-spacing="-1.0">0.2</text>
<text x="1267.8" y="476.9" style="font-family:'Liberation Sans',sans-serif;font-size:22.3px" text-anchor="middle" letter-spacing="-1.0">0.4</text>
<text x="1083.5" y="487.5" style="font-family:'Liberation Serif',serif;font-style:italic;font-size:34px" text-anchor="middle" >a</text>
<text x="944" y="524" style="font-family:'Liberation Serif',serif;font-size:36px" textLength="107" lengthAdjust="spacing" ><tspan font-style="italic">r</tspan> (mm)</text>
<text transform="translate(621,350) rotate(-90)" x="0" y="0" style="font-family:'Liberation Serif',serif;font-size:36px" textLength="107" lengthAdjust="spacing" ><tspan font-style="italic">z</tspan> (mm)</text>
<text x="1380" y="64.6" style="font-family:'Liberation Sans',sans-serif;font-size:41px" text-anchor="start" font-weight="bold">c</text>
<path d="M1492.5 122.3 L1496.3 122.3 L1500 122.3 L1503.8 122.2 L1507.5 122.1 L1511.3 122 L1515 121.8 L1518.8 121.6 L1522.5 121.4 L1526.3 121.1 L1530 120.8 L1533.8 120.5 L1537.5 120.1 L1541.3 119.8 L1545 119.3 L1548.8 118.9 L1552.5 118.5 L1556.3 118 L1560 117.5 L1563.8 116.9 L1567.5 116.4 L1571.3 115.8 L1575 115.2 L1578.8 114.6 L1582.5 114 L1586.3 113.3 L1590 112.6 L1593.8 112 L1597.6 111.2 L1601.3 110.5 L1605.1 109.8 L1608.8 109 L1612.6 108.2 L1616.3 107.5 L1620.1 106.6 L1623.8 105.8 L1627.6 105 L1631.3 104.2 L1635.1 103.3 L1638.8 102.5 L1642.6 101.6 L1646.3 100.7 L1650.1 99.8 L1653.8 98.9 L1657.6 98 L1661.3 97.1 L1665.1 96.2 L1668.8 95.3 L1672.6 94.3 L1676.3 93.4 L1680.1 92.5 L1683.8 91.5 L1687.6 90.6 L1691.3 89.6 L1695.1 88.7 L1698.8 87.8 L1702.6 86.8 L1706.4 85.9 L1710.1 84.9 L1713.9 84 L1717.6 83 L1721.4 82.1 L1725.1 81.2 L1728.9 80.3 L1732.6 79.3 L1736.4 78.4 L1740.1 77.5 L1743.9 76.6 L1747.6 75.7 L1751.4 74.8 L1755.1 73.9 L1758.9 73 L1762.6 72.2 L1766.4 71.3 L1770.1 70.5 L1773.9 69.6 L1777.6 68.8 L1781.4 68 L1785.1 67.2 L1788.9 66.4 L1792.6 65.7 L1796.4 64.9 L1800.1 64.2 L1803.9 63.4 L1807.7 62.7 L1811.4 62 L1815.2 61.4 L1818.9 60.7 L1822.7 60 L1826.4 59.4 L1830.2 58.8 L1833.9 58.2 L1837.7 57.6 L1841.4 57.1 L1845.2 56.5 L1848.9 56 L1852.7 55.4 L1856.4 54.9 L1860.2 54.4 L1863.9 54 L1867.7 53.5 L1871.4 53 L1875.2 52.6 L1878.9 52.2 L1882.7 51.8 L1886.4 51.4 L1890.2 51 L1893.9 50.6 L1897.7 50.3 L1901.4 49.9 L1905.2 49.6 L1908.9 49.3 L1912.7 48.9 L1916.5 48.7 L1920.2 48.4 L1924 48.1 L1927.7 47.9 L1931.5 47.6 L1935.2 47.4 L1939 47.2 L1942.7 46.9 L1946.5 46.7 L1950.2 46.6 L1954 46.4 L1957.7 46.2 L1961.5 46.1 L1965.2 45.9 L1969 45.8 L1972.7 45.7 L1976.5 45.6 L1980.2 45.5 L1984 45.4 L1987.7 45.3 L1991.5 45.2 L1995.2 45.2 L1999 45.1 L2002.7 45.1 L2006.5 45.1 L2010.2 45 L2014 45" fill="none" stroke="#d6d6d6" stroke-width="4.2" stroke-linejoin="round"/>
<path d="M1492.5 261.7 L1496.3 261.7 L1500 261.5 L1503.8 261.4 L1507.5 261.1 L1511.3 260.8 L1515 260.4 L1518.8 259.9 L1522.5 259.4 L1526.3 258.8 L1530 258.2 L1533.8 257.5 L1537.5 256.7 L1541.3 255.9 L1545 255 L1548.8 254.1 L1552.5 253.1 L1556.3 252.1 L1560 251.1 L1563.8 250 L1567.5 248.8 L1571.3 247.6 L1575 246.4 L1578.8 245.1 L1582.5 243.8 L1586.3 242.5 L1590 241.1 L1593.8 239.7 L1597.6 238.2 L1601.3 236.8 L1605.1 235.3 L1608.8 233.8 L1612.6 232.2 L1616.3 230.6 L1620.1 229.1 L1623.8 227.5 L1627.6 225.8 L1631.3 224.2 L1635.1 222.6 L1638.8 220.9 L1642.6 219.2 L1646.3 217.6 L1650.1 215.9 L1653.8 214.2 L1657.6 212.5 L1661.3 210.8 L1665.1 209.1 L1668.8 207.4 L1672.6 205.7 L1676.3 204 L1680.1 202.4 L1683.8 200.7 L1687.6 199 L1691.3 197.3 L1695.1 195.7 L1698.8 194 L1702.6 192.4 L1706.4 190.8 L1710.1 189.2 L1713.9 187.5 L1717.6 186 L1721.4 184.4 L1725.1 182.8 L1728.9 181.3 L1732.6 179.7 L1736.4 178.2 L1740.1 176.8 L1743.9 175.3 L1747.6 173.8 L1751.4 172.4 L1755.1 171 L1758.9 169.6 L1762.6 168.3 L1766.4 166.9 L1770.1 165.6 L1773.9 164.4 L1777.6 163.1 L1781.4 161.9 L1785.1 160.7 L1788.9 159.6 L1792.6 158.5 L1796.4 157.4 L1800.1 156.3 L1803.9 155.3 L1807.7 154.3 L1811.4 153.4 L1815.2 152.5 L1818.9 151.6 L1822.7 150.8 L1826.4 150 L1830.2 149.2 L1833.9 148.4 L1837.7 147.7 L1841.4 147 L1845.2 146.4 L1848.9 145.8 L1852.7 145.2 L1856.4 144.6 L1860.2 144 L1863.9 143.5 L1867.7 143 L1871.4 142.6 L1875.2 142.1 L1878.9 141.7 L1882.7 141.3 L1886.4 140.9 L1890.2 140.5 L1893.9 140.2 L1897.7 139.9 L1901.4 139.6 L1905.2 139.3 L1908.9 139 L1912.7 138.8 L1916.5 138.5 L1920.2 138.3 L1924 138.1 L1927.7 137.9 L1931.5 137.7 L1935.2 137.6 L1939 137.4 L1942.7 137.3 L1946.5 137.1 L1950.2 137 L1954 136.9 L1957.7 136.8 L1961.5 136.7 L1965.2 136.6 L1969 136.5 L1972.7 136.4 L1976.5 136.4 L1980.2 136.3 L1984 136.2 L1987.7 136.2 L1991.5 136.1 L1995.2 136 L1999 136 L2002.7 135.9 L2006.5 135.8 L2010.2 135.8 L2014 135.7" fill="none" stroke="#777777" stroke-width="4.2" stroke-linejoin="round"/>
<path d="M1492.5 343.1 L1496.3 343.1 L1500 343 L1503.8 342.9 L1507.5 342.7 L1511.3 342.4 L1515 342.1 L1518.8 341.7 L1522.5 341.2 L1526.3 340.7 L1530 340.1 L1533.8 339.4 L1537.5 338.7 L1541.3 337.9 L1545 337.1 L1548.8 336.1 L1552.5 335.1 L1556.3 334 L1560 332.8 L1563.8 331.6 L1567.5 330.2 L1571.3 328.8 L1575 327.3 L1578.8 325.7 L1582.5 324 L1586.3 322.3 L1590 320.4 L1593.8 318.5 L1597.6 316.4 L1601.3 314.3 L1605.1 312.1 L1608.8 309.7 L1612.6 307.3 L1616.3 304.8 L1620.1 302.2 L1623.8 299.6 L1627.6 296.8 L1631.3 294 L1635.1 291.2 L1638.8 288.3 L1642.6 285.4 L1646.3 282.5 L1650.1 279.6 L1653.8 276.6 L1657.6 273.7 L1661.3 270.8 L1665.1 267.8 L1668.8 265 L1672.6 262.1 L1676.3 259.3 L1680.1 256.5 L1683.8 253.8 L1687.6 251.1 L1691.3 248.5 L1695.1 246 L1698.8 243.5 L1702.6 241.1 L1706.4 238.8 L1710.1 236.6 L1713.9 234.5 L1717.6 232.4 L1721.4 230.5 L1725.1 228.6 L1728.9 226.7 L1732.6 225 L1736.4 223.3 L1740.1 221.6 L1743.9 220.1 L1747.6 218.5 L1751.4 217.1 L1755.1 215.6 L1758.9 214.2 L1762.6 212.9 L1766.4 211.6 L1770.1 210.3 L1773.9 209 L1777.6 207.8 L1781.4 206.6 L1785.1 205.5 L1788.9 204.4 L1792.6 203.3 L1796.4 202.2 L1800.1 201.2 L1803.9 200.2 L1807.7 199.3 L1811.4 198.4 L1815.2 197.5 L1818.9 196.6 L1822.7 195.8 L1826.4 194.9 L1830.2 194.2 L1833.9 193.4 L1837.7 192.7 L1841.4 192 L1845.2 191.3 L1848.9 190.6 L1852.7 190 L1856.4 189.4 L1860.2 188.8 L1863.9 188.2 L1867.7 187.7 L1871.4 187.2 L1875.2 186.7 L1878.9 186.2 L1882.7 185.7 L1886.4 185.3 L1890.2 184.9 L1893.9 184.5 L1897.7 184.1 L1901.4 183.7 L1905.2 183.4 L1908.9 183 L1912.7 182.7 L1916.5 182.4 L1920.2 182.1 L1924 181.8 L1927.7 181.6 L1931.5 181.3 L1935.2 181.1 L1939 180.9 L1942.7 180.6 L1946.5 180.4 L1950.2 180.3 L1954 180.1 L1957.7 179.9 L1961.5 179.7 L1965.2 179.6 L1969 179.4 L1972.7 179.3 L1976.5 179.1 L1980.2 179 L1984 178.9 L1987.7 178.8 L1991.5 178.7 L1995.2 178.6 L1999 178.4 L2002.7 178.3 L2006.5 178.2 L2010.2 178.1 L2014 178" fill="none" stroke="#f5a11b" stroke-width="4.2" stroke-linejoin="round"/>
<path d="M1492.5 431.3 L1496.3 431.5 L1500 431.6 L1503.8 431.6 L1507.5 431.5 L1511.3 431.3 L1515 431.1 L1518.8 430.7 L1522.5 430.3 L1526.3 429.8 L1530 429.2 L1533.8 428.5 L1537.5 427.8 L1541.3 426.9 L1545 426 L1548.8 425 L1552.5 423.9 L1556.3 422.7 L1560 421.5 L1563.8 420.1 L1567.5 418.7 L1571.3 417.2 L1575 415.6 L1578.8 414 L1582.5 412.3 L1586.3 410.5 L1590 408.6 L1593.8 406.6 L1597.6 404.6 L1601.3 402.5 L1605.1 400.3 L1608.8 398 L1612.6 395.7 L1616.3 393.2 L1620.1 390.5 L1623.8 387.6 L1627.6 384.5 L1631.3 381 L1635.1 377.1 L1638.8 372.8 L1642.6 368 L1646.3 362.6 L1650.1 356.8 L1653.8 350.5 L1657.6 343.9 L1661.3 337.2 L1665.1 330.5 L1668.8 323.9 L1672.6 317.6 L1676.3 311.7 L1680.1 306.2 L1683.8 301.4 L1687.6 297.2 L1691.3 293.5 L1695.1 290.2 L1698.8 287.4 L1702.6 284.9 L1706.4 282.6 L1710.1 280.6 L1713.9 278.7 L1717.6 276.9 L1721.4 275.2 L1725.1 273.5 L1728.9 271.8 L1732.6 270.2 L1736.4 268.6 L1740.1 267 L1743.9 265.5 L1747.6 264 L1751.4 262.6 L1755.1 261.2 L1758.9 259.8 L1762.6 258.4 L1766.4 257.1 L1770.1 255.8 L1773.9 254.6 L1777.6 253.4 L1781.4 252.2 L1785.1 251 L1788.9 249.9 L1792.6 248.8 L1796.4 247.8 L1800.1 246.7 L1803.9 245.7 L1807.7 244.8 L1811.4 243.8 L1815.2 242.9 L1818.9 242 L1822.7 241.1 L1826.4 240.3 L1830.2 239.5 L1833.9 238.7 L1837.7 237.9 L1841.4 237.2 L1845.2 236.5 L1848.9 235.8 L1852.7 235.1 L1856.4 234.5 L1860.2 233.8 L1863.9 233.2 L1867.7 232.6 L1871.4 232.1 L1875.2 231.5 L1878.9 231 L1882.7 230.5 L1886.4 230 L1890.2 229.6 L1893.9 229.1 L1897.7 228.7 L1901.4 228.2 L1905.2 227.8 L1908.9 227.5 L1912.7 227.1 L1916.5 226.7 L1920.2 226.4 L1924 226.1 L1927.7 225.8 L1931.5 225.5 L1935.2 225.2 L1939 224.9 L1942.7 224.6 L1946.5 224.4 L1950.2 224.1 L1954 223.9 L1957.7 223.7 L1961.5 223.4 L1965.2 223.2 L1969 223 L1972.7 222.9 L1976.5 222.7 L1980.2 222.5 L1984 222.3 L1987.7 222.2 L1991.5 222 L1995.2 221.8 L1999 221.7 L2002.7 221.5 L2006.5 221.4 L2010.2 221.3 L2014 221.1" fill="none" stroke="#e5482e" stroke-width="4.2" stroke-linejoin="round"/>
<path d="M1492.5 453.2 v-7 M1492.5 35.7 v7 M1518.6 453.2 v-4.5 M1518.6 35.7 v4.5 M1544.7 453.2 v-4.5 M1544.7 35.7 v4.5 M1570.7 453.2 v-4.5 M1570.7 35.7 v4.5 M1596.8 453.2 v-4.5 M1596.8 35.7 v4.5 M1622.9 453.2 v-7 M1622.9 35.7 v7 M1649 453.2 v-4.5 M1649 35.7 v4.5 M1675 453.2 v-4.5 M1675 35.7 v4.5 M1701.1 453.2 v-4.5 M1701.1 35.7 v4.5 M1727.2 453.2 v-4.5 M1727.2 35.7 v4.5 M1753.2 453.2 v-7 M1753.2 35.7 v7 M1779.3 453.2 v-4.5 M1779.3 35.7 v4.5 M1805.4 453.2 v-4.5 M1805.4 35.7 v4.5 M1831.5 453.2 v-4.5 M1831.5 35.7 v4.5 M1857.5 453.2 v-4.5 M1857.5 35.7 v4.5 M1883.6 453.2 v-7 M1883.6 35.7 v7 M1909.7 453.2 v-4.5 M1909.7 35.7 v4.5 M1935.8 453.2 v-4.5 M1935.8 35.7 v4.5 M1961.8 453.2 v-4.5 M1961.8 35.7 v4.5 M1987.9 453.2 v-4.5 M1987.9 35.7 v4.5 M2014 453.2 v-7 M2014 35.7 v7 M1492.5 453.2 h7 M2014 453.2 h-7 M1492.5 432.3 h4.5 M2014 432.3 h-4.5 M1492.5 411.4 h4.5 M2014 411.4 h-4.5 M1492.5 390.6 h4.5 M2014 390.6 h-4.5 M1492.5 369.7 h4.5 M2014 369.7 h-4.5 M1492.5 348.8 h7 M2014 348.8 h-7 M1492.5 327.9 h4.5 M2014 327.9 h-4.5 M1492.5 307.1 h4.5 M2014 307.1 h-4.5 M1492.5 286.2 h4.5 M2014 286.2 h-4.5 M1492.5 265.3 h4.5 M2014 265.3 h-4.5 M1492.5 244.4 h7 M2014 244.4 h-7 M1492.5 223.6 h4.5 M2014 223.6 h-4.5 M1492.5 202.7 h4.5 M2014 202.7 h-4.5 M1492.5 181.8 h4.5 M2014 181.8 h-4.5 M1492.5 160.9 h4.5 M2014 160.9 h-4.5 M1492.5 140.1 h7 M2014 140.1 h-7 M1492.5 119.2 h4.5 M2014 119.2 h-4.5 M1492.5 98.3 h4.5 M2014 98.3 h-4.5 M1492.5 77.5 h4.5 M2014 77.5 h-4.5 M1492.5 56.6 h4.5 M2014 56.6 h-4.5 M1492.5 35.7 h7 M2014 35.7 h-7" stroke="#000" stroke-width="1.87"/>
<rect x="1492.5" y="35.7" width="521.5" height="417.5" fill="none" stroke="#000" stroke-width="2.2"/>
<line x1="1662.9" y1="444" x2="1662.9" y2="463" stroke="#000" stroke-width="2.2"/>
<text x="1666.5" y="487.5" style="font-family:'Liberation Serif',serif;font-style:italic;font-size:34px" text-anchor="middle" >a</text>
<text x="1487.5" y="45.3" style="font-family:'Liberation Sans',sans-serif;font-size:26.3px" text-anchor="end" >0.20</text>
<text x="1487.5" y="149.7" style="font-family:'Liberation Sans',sans-serif;font-size:26.3px" text-anchor="end" >0.15</text>
<text x="1487.5" y="254" style="font-family:'Liberation Sans',sans-serif;font-size:26.3px" text-anchor="end" >0.10</text>
<text x="1487.5" y="358.4" style="font-family:'Liberation Sans',sans-serif;font-size:26.3px" text-anchor="end" >0.05</text>
<text x="1487.5" y="462.8" style="font-family:'Liberation Sans',sans-serif;font-size:26.3px" text-anchor="end" >0.00</text>
<text x="1492.5" y="483.2" style="font-family:'Liberation Sans',sans-serif;font-size:25.6px" text-anchor="middle" >0.0</text>
<text x="1622.9" y="483.2" style="font-family:'Liberation Sans',sans-serif;font-size:25.6px" text-anchor="middle" >0.1</text>
<text x="1753.2" y="483.2" style="font-family:'Liberation Sans',sans-serif;font-size:25.6px" text-anchor="middle" >0.2</text>
<text x="1883.6" y="483.2" style="font-family:'Liberation Sans',sans-serif;font-size:25.6px" text-anchor="middle" >0.3</text>
<text x="2014" y="483.2" style="font-family:'Liberation Sans',sans-serif;font-size:25.6px" text-anchor="middle" >0.4</text>
<text x="1700.5" y="523.5" style="font-family:'Liberation Serif',serif;font-size:36px" textLength="107" lengthAdjust="spacing" ><tspan font-style="italic">r</tspan> (mm)</text>
<text transform="translate(1402,313.5) rotate(-90)" x="0" y="0" style="font-family:'Liberation Serif',serif;font-size:34px" textLength="129" lengthAdjust="spacing" ><tspan font-style="italic">c</tspan>(<tspan font-style="italic">r</tspan>, <tspan font-style="italic">z</tspan>)/<tspan font-style="italic">c</tspan><tspan font-size="25px" dy="4">s</tspan></text>
<line x1="1794.5" y1="300.1" x2="1826.5" y2="300.1" stroke="#d6d6d6" stroke-width="4.2"/>
<text x="1834.5" y="305.8" style="font-family:'Liberation Sans',sans-serif;font-size:25.5px" letter-spacing="0.6">z=100 (<tspan font-style="italic">&#956;</tspan>m)</text>
<line x1="1794.5" y1="334.9" x2="1826.5" y2="334.9" stroke="#777777" stroke-width="4.2"/>
<text x="1834.5" y="340.6" style="font-family:'Liberation Sans',sans-serif;font-size:25.5px" letter-spacing="0.6">z=50</text>
<line x1="1794.5" y1="367.9" x2="1826.5" y2="367.9" stroke="#f5a11b" stroke-width="4.2"/>
<text x="1834.5" y="373.6" style="font-family:'Liberation Sans',sans-serif;font-size:25.5px" letter-spacing="0.6">z=25</text>
<line x1="1794.5" y1="400.5" x2="1826.5" y2="400.5" stroke="#e5482e" stroke-width="4.2"/>
<text x="1834.5" y="406.2" style="font-family:'Liberation Sans',sans-serif;font-size:25.5px" letter-spacing="0.6">z=0</text>
<text x="5" y="626" style="font-family:'Liberation Sans',sans-serif;font-size:41px" text-anchor="start" font-weight="bold">d</text>
<defs><clipPath id="dc"><rect x="84.9" y="571" width="845.3" height="510.5"/></clipPath></defs>
<g clip-path="url(#dc)" fill="none" stroke-width="4.7">
<path d="M217.9 571.5 L218.2 575.8 L218.5 580.1 L218.8 584.4 L219.1 588.7 L219.5 593.1 L219.8 597.4 L220.2 601.7 L220.6 606 L221 610.3 L221.5 614.6 L221.9 618.9 L222.4 623.2 L223 627.5 L223.6 631.9 L224.2 636.2 L224.8 640.5 L225.5 644.8 L226.1 649.1 L226.9 653.4 L227.6 657.7 L228.4 662 L229.2 666.3 L230.1 670.7 L231.1 675 L232.2 679.3 L233.6 683.6 L235.2 687.9 L237.1 692.2 L239.3 696.5 L241.8 700.8 L244.7 705.1 L248 709.4 L251.5 713.8 L255.2 718.1 L259.1 722.4 L263.2 726.7 L267.2 731 L271.3 735.3 L275.3 739.6 L279.3 743.9 L283.2 748.2 L287 752.6 L290.9 756.9 L294.9 761.2 L298.9 765.5 L303.1 769.8 L307.5 774.1 L312.2 778.4 L317.1 782.7 L322.3 787 L327.9 791.4 L333.6 795.7 L339.7 800 L346 804.3 L352.5 808.6 L359.2 812.9 L366.2 817.2 L373.4 821.5 L380.7 825.8 L388.2 830.2 L395.9 834.5 L403.8 838.8 L411.8 843.1 L419.9 847.4 L428.2 851.7 L436.5 856 L445 860.3 L453.6 864.6 L462.2 869 L470.9 873.3 L479.7 877.6 L488.5 881.9 L497.4 886.2 L506.4 890.5 L515.4 894.8 L524.5 899.1 L533.6 903.4 L542.7 907.8 L551.9 912.1 L561.1 916.4 L570.3 920.7 L579.6 925 L588.8 929.3 L598.1 933.6 L607.3 937.9 L616.5 942.2 L625.8 946.6 L635 950.9 L644.2 955.2 L653.4 959.5 L662.6 963.8 L671.8 968.1 L681 972.4 L690.2 976.7 L699.4 981 L708.6 985.3 L717.8 989.7 L727 994 L736.2 998.3 L745.3 1002.6 L754.5 1006.9 L763.7 1011.2 L772.9 1015.5 L782 1019.8 L791.2 1024.1 L800.4 1028.5 L809.6 1032.8 L818.8 1037.1 L828 1041.4 L837.2 1045.7 L846.3 1050 L855.6 1054.3 L864.8 1058.6 L874 1062.9 L883.2 1067.3 L892.4 1071.6 L901.6 1075.9 L910.9 1080.2 L920.1 1084.5" stroke="#5e81b5" stroke-dasharray="6.6 2.6"/>
<path d="M208.8 571.5 L209.2 575.8 L209.5 580.1 L209.8 584.4 L210.1 588.7 L210.4 593.1 L210.8 597.4 L211.1 601.7 L211.4 606 L211.8 610.3 L212.1 614.6 L212.5 618.9 L212.9 623.2 L213.4 627.5 L213.8 631.9 L214.4 636.2 L214.9 640.5 L215.5 644.8 L216.1 649.1 L216.8 653.4 L217.5 657.7 L218.3 662 L219.2 666.3 L220.1 670.7 L221 675 L222.1 679.3 L223.2 683.6 L224.4 687.9 L225.6 692.2 L227 696.5 L228.4 700.8 L229.9 705.1 L231.5 709.4 L233.2 713.8 L235 718.1 L237 722.4 L239 726.7 L241.1 731 L243.3 735.3 L245.7 739.6 L248.1 743.9 L250.7 748.2 L253.4 752.6 L256.2 756.9 L259.2 761.2 L262.3 765.5 L265.5 769.8 L268.8 774.1 L272.2 778.4 L275.8 782.7 L279.4 787 L283.2 791.4 L287.2 795.7 L291.2 800 L295.4 804.3 L299.6 808.6 L304 812.9 L308.5 817.2 L313.1 821.5 L317.8 825.8 L322.6 830.2 L327.6 834.5 L332.6 838.8 L337.7 843.1 L342.9 847.4 L348.2 851.7 L353.6 856 L359.1 860.3 L364.7 864.6 L370.4 869 L376.2 873.3 L382 877.6 L387.9 881.9 L393.9 886.2 L399.9 890.5 L406 894.8 L412.2 899.1 L418.3 903.4 L424.6 907.8 L430.8 912.1 L437.1 916.4 L443.4 920.7 L449.7 925 L456.1 929.3 L462.4 933.6 L468.8 937.9 L475.1 942.2 L481.5 946.6 L487.8 950.9 L494.1 955.2 L500.5 959.5 L506.8 963.8 L513.1 968.1 L519.4 972.4 L525.7 976.7 L532 981 L538.3 985.3 L544.6 989.7 L550.9 994 L557.2 998.3 L563.5 1002.6 L569.8 1006.9 L576.1 1011.2 L582.3 1015.5 L588.6 1019.8 L594.9 1024.1 L601.1 1028.5 L607.4 1032.8 L613.7 1037.1 L619.9 1041.4 L626.2 1045.7 L632.4 1050 L638.6 1054.3 L644.9 1058.6 L651.1 1062.9 L657.3 1067.3 L663.6 1071.6 L669.8 1075.9 L676 1080.2 L682.2 1084.5" stroke="#8fb032" stroke-dasharray="6.6 2.6"/>
<path d="M197.7 571.5 L198.1 575.8 L198.4 580.1 L198.7 584.4 L199.1 588.7 L199.4 593.1 L199.7 597.4 L200.1 601.7 L200.4 606 L200.8 610.3 L201.1 614.6 L201.5 618.9 L201.9 623.2 L202.3 627.5 L202.7 631.9 L203.2 636.2 L203.7 640.5 L204.2 644.8 L204.7 649.1 L205.3 653.4 L205.9 657.7 L206.5 662 L207.1 666.3 L207.8 670.7 L208.6 675 L209.4 679.3 L210.2 683.6 L211.1 687.9 L212 692.2 L213 696.5 L214 700.8 L215.1 705.1 L216.2 709.4 L217.4 713.8 L218.7 718.1 L220 722.4 L221.4 726.7 L222.9 731 L224.4 735.3 L226 739.6 L227.7 743.9 L229.4 748.2 L231.2 752.6 L233.1 756.9 L235.1 761.2 L237.1 765.5 L239.2 769.8 L241.4 774.1 L243.6 778.4 L245.9 782.7 L248.3 787 L250.7 791.4 L253.2 795.7 L255.8 800 L258.4 804.3 L261.1 808.6 L263.8 812.9 L266.6 817.2 L269.4 821.5 L272.4 825.8 L275.3 830.2 L278.3 834.5 L281.4 838.8 L284.5 843.1 L287.7 847.4 L291 851.7 L294.2 856 L297.6 860.3 L300.9 864.6 L304.4 869 L307.8 873.3 L311.4 877.6 L314.9 881.9 L318.5 886.2 L322.2 890.5 L325.9 894.8 L329.6 899.1 L333.4 903.4 L337.2 907.8 L341 912.1 L344.9 916.4 L348.8 920.7 L352.8 925 L356.8 929.3 L360.8 933.6 L364.9 937.9 L369 942.2 L373.1 946.6 L377.2 950.9 L381.4 955.2 L385.6 959.5 L389.8 963.8 L394 968.1 L398.2 972.4 L402.4 976.7 L406.7 981 L410.9 985.3 L415.1 989.7 L419.4 994 L423.6 998.3 L427.8 1002.6 L431.9 1006.9 L436.1 1011.2 L440.2 1015.5 L444.4 1019.8 L448.4 1024.1 L452.5 1028.5 L456.5 1032.8 L460.5 1037.1 L464.4 1041.4 L468.3 1045.7 L472.1 1050 L475.9 1054.3 L479.6 1058.6 L483.3 1062.9 L486.9 1067.3 L490.5 1071.6 L493.9 1075.9 L497.3 1080.2 L500.6 1084.5" stroke="#e19c24" stroke-dasharray="6.6 2.6"/>
<path d="M196.4 571.5 L196.7 575.8 L197 580.1 L197.3 584.4 L197.5 588.7 L197.8 593.1 L198.1 597.4 L198.4 601.7 L198.7 606 L198.9 610.3 L199.2 614.6 L199.5 618.9 L199.8 623.2 L200.1 627.5 L200.4 631.9 L200.7 636.2 L201 640.5 L201.3 644.8 L201.6 649.1 L201.9 653.4 L202.3 657.7 L202.6 662 L203 666.3 L203.3 670.7 L203.7 675 L204.1 679.3 L204.5 683.6 L204.9 687.9 L205.3 692.2 L205.7 696.5 L206.1 700.8 L206.6 705.1 L207.1 709.4 L207.5 713.8 L208 718.1 L208.5 722.4 L209.1 726.7 L209.6 731 L210.2 735.3 L210.7 739.6 L211.3 743.9 L211.9 748.2 L212.6 752.6 L213.2 756.9 L213.9 761.2 L214.6 765.5 L215.2 769.8 L216 774.1 L216.7 778.4 L217.4 782.7 L218.2 787 L219 791.4 L219.7 795.7 L220.5 800 L221.4 804.3 L222.2 808.6 L223 812.9 L223.9 817.2 L224.8 821.5 L225.7 825.8 L226.6 830.2 L227.5 834.5 L228.4 838.8 L229.3 843.1 L230.3 847.4 L231.2 851.7 L232.2 856 L233.2 860.3 L234.2 864.6 L235.2 869 L236.2 873.3 L237.2 877.6 L238.2 881.9 L239.3 886.2 L240.3 890.5 L241.4 894.8 L242.5 899.1 L243.5 903.4 L244.6 907.8 L245.7 912.1 L246.8 916.4 L247.9 920.7 L249 925 L250.2 929.3 L251.3 933.6 L252.4 937.9 L253.6 942.2 L254.7 946.6 L255.9 950.9 L257 955.2 L258.2 959.5 L259.3 963.8 L260.5 968.1 L261.7 972.4 L262.9 976.7 L264.1 981 L265.2 985.3 L266.4 989.7 L267.6 994 L268.8 998.3 L270 1002.6 L271.2 1006.9 L272.4 1011.2 L273.6 1015.5 L274.9 1019.8 L276.1 1024.1 L277.3 1028.5 L278.5 1032.8 L279.7 1037.1 L280.9 1041.4 L282.1 1045.7 L283.3 1050 L284.5 1054.3 L285.8 1058.6 L287 1062.9 L288.2 1067.3 L289.4 1071.6 L290.6 1075.9 L291.8 1080.2 L293 1084.5" stroke="#eb6235" stroke-dasharray="6.6 2.6"/>
<path d="M208.8 571.5 L210.1 575.8 L211.2 580.1 L212.3 584.4 L213.3 588.7 L214.3 593.1 L215.2 597.4 L216.1 601.7 L216.9 606 L217.7 610.3 L218.6 614.6 L219.4 618.9 L220.3 623.2 L221.2 627.5 L222.2 631.9 L223.2 636.2 L224.3 640.5 L225.5 644.8 L226.8 649.1 L228.2 653.4 L229.8 657.7 L231.5 662 L233.3 666.3 L235.3 670.7 L237.5 675 L240 679.3 L242.6 683.6 L245.4 687.9 L248.5 692.2 L251.8 696.5 L255.4 700.8 L259.3 705.1 L263.5 709.4 L267.9 713.8 L272.5 718.1 L277.4 722.4 L282.5 726.7 L287.8 731 L293.4 735.3 L299.2 739.6 L305.1 743.9 L311.3 748.2 L317.6 752.6 L324.1 756.9 L330.7 761.2 L337.5 765.5 L344.5 769.8 L351.6 774.1 L358.8 778.4 L366.1 782.7 L373.6 787 L381.1 791.4 L388.7 795.7 L396.5 800 L404.3 804.3 L412.1 808.6 L420.1 812.9 L428 817.2 L436 821.5 L444.1 825.8 L452.2 830.2 L460.3 834.5 L468.4 838.8 L476.5 843.1 L484.6 847.4 L492.7 851.7 L500.8 856 L508.9 860.3 L517 864.6 L525 869 L533.1 873.3 L541 877.6 L549 881.9 L556.9 886.2 L564.8 890.5 L572.6 894.8 L580.4 899.1 L588.2 903.4 L596 907.8 L603.8 912.1 L611.5 916.4 L619.3 920.7 L627 925 L634.8 929.3 L642.5 933.6 L650.3 937.9 L658 942.2 L665.8 946.6 L673.6 950.9 L681.4 955.2 L689.2 959.5 L697 963.8 L704.8 968.1 L712.7 972.4 L720.5 976.7 L728.3 981 L736.2 985.3 L744.1 989.7 L751.9 994 L759.8 998.3 L767.7 1002.6 L775.6 1006.9 L783.5 1011.2 L791.4 1015.5 L799.3 1019.8 L807.3 1024.1 L815.2 1028.5 L823.2 1032.8 L831.1 1037.1 L839.1 1041.4 L847.1 1045.7 L855.1 1050 L863.1 1054.3 L871.1 1058.6 L879.1 1062.9 L887.2 1067.3 L895.2 1071.6 L903.3 1075.9 L911.3 1080.2 L919.4 1084.5" stroke="#5e81b5" />
<path d="M212.2 571.5 L213 575.8 L213.8 580.1 L214.7 584.4 L215.5 588.7 L216.4 593.1 L217.3 597.4 L218.2 601.7 L219.2 606 L220.2 610.3 L221.2 614.6 L222.3 618.9 L223.5 623.2 L224.7 627.5 L226.1 631.9 L227.5 636.2 L229 640.5 L230.6 644.8 L232.3 649.1 L234.1 653.4 L236 657.7 L238.1 662 L240.2 666.3 L242.5 670.7 L245 675 L247.5 679.3 L250.2 683.6 L252.9 687.9 L255.8 692.2 L258.8 696.5 L261.9 700.8 L265.1 705.1 L268.3 709.4 L271.7 713.8 L275.2 718.1 L278.8 722.4 L282.4 726.7 L286.1 731 L290 735.3 L293.9 739.6 L297.8 743.9 L301.9 748.2 L306 752.6 L310.2 756.9 L314.4 761.2 L318.7 765.5 L323.1 769.8 L327.6 774.1 L332.1 778.4 L336.6 782.7 L341.2 787 L345.9 791.4 L350.6 795.7 L355.3 800 L360.1 804.3 L364.9 808.6 L369.8 812.9 L374.7 817.2 L379.6 821.5 L384.6 825.8 L389.6 830.2 L394.6 834.5 L399.6 838.8 L404.7 843.1 L409.8 847.4 L414.8 851.7 L419.9 856 L425.1 860.3 L430.2 864.6 L435.3 869 L440.5 873.3 L445.6 877.6 L450.7 881.9 L455.8 886.2 L461 890.5 L466.1 894.8 L471.2 899.1 L476.3 903.4 L481.4 907.8 L486.4 912.1 L491.4 916.4 L496.5 920.7 L501.4 925 L506.4 929.3 L511.3 933.6 L516.2 937.9 L521.1 942.2 L525.9 946.6 L530.7 950.9 L535.5 955.2 L540.2 959.5 L544.9 963.8 L549.6 968.1 L554.3 972.4 L559 976.7 L563.7 981 L568.3 985.3 L573 989.7 L577.7 994 L582.3 998.3 L587 1002.6 L591.7 1006.9 L596.4 1011.2 L601.2 1015.5 L605.9 1019.8 L610.7 1024.1 L615.5 1028.5 L620.4 1032.8 L625.2 1037.1 L630.2 1041.4 L635.1 1045.7 L640.2 1050 L645.2 1054.3 L650.3 1058.6 L655.5 1062.9 L660.8 1067.3 L666.1 1071.6 L671.4 1075.9 L676.9 1080.2 L682.4 1084.5" stroke="#8fb032" />
<path d="M206.7 571.5 L207.3 575.8 L208 580.1 L208.6 584.4 L209.3 588.7 L210.1 593.1 L210.8 597.4 L211.6 601.7 L212.4 606 L213.3 610.3 L214.2 614.6 L215.1 618.9 L216.1 623.2 L217.1 627.5 L218.2 631.9 L219.4 636.2 L220.6 640.5 L221.9 644.8 L223.3 649.1 L224.7 653.4 L226.2 657.7 L227.8 662 L229.5 666.3 L231.3 670.7 L233.1 675 L235 679.3 L237 683.6 L239.1 687.9 L241.2 692.2 L243.3 696.5 L245.6 700.8 L247.8 705.1 L250.2 709.4 L252.5 713.8 L254.9 718.1 L257.4 722.4 L259.9 726.7 L262.4 731 L265 735.3 L267.5 739.6 L270.1 743.9 L272.8 748.2 L275.4 752.6 L278.1 756.9 L280.7 761.2 L283.4 765.5 L286.2 769.8 L288.9 774.1 L291.7 778.4 L294.4 782.7 L297.2 787 L300 791.4 L302.9 795.7 L305.7 800 L308.5 804.3 L311.4 808.6 L314.3 812.9 L317.2 817.2 L320.1 821.5 L323 825.8 L325.9 830.2 L328.9 834.5 L331.8 838.8 L334.8 843.1 L337.8 847.4 L340.7 851.7 L343.7 856 L346.7 860.3 L349.7 864.6 L352.7 869 L355.8 873.3 L358.8 877.6 L361.8 881.9 L364.8 886.2 L367.9 890.5 L370.9 894.8 L373.9 899.1 L377 903.4 L380 907.8 L383.1 912.1 L386.1 916.4 L389.2 920.7 L392.2 925 L395.2 929.3 L398.3 933.6 L401.3 937.9 L404.4 942.2 L407.4 946.6 L410.4 950.9 L413.5 955.2 L416.5 959.5 L419.5 963.8 L422.5 968.1 L425.5 972.4 L428.5 976.7 L431.5 981 L434.5 985.3 L437.5 989.7 L440.4 994 L443.4 998.3 L446.4 1002.6 L449.3 1006.9 L452.2 1011.2 L455.1 1015.5 L458 1019.8 L460.9 1024.1 L463.8 1028.5 L466.7 1032.8 L469.5 1037.1 L472.3 1041.4 L475.2 1045.7 L478 1050 L480.7 1054.3 L483.5 1058.6 L486.3 1062.9 L489 1067.3 L491.7 1071.6 L494.4 1075.9 L497.1 1080.2 L499.7 1084.5" stroke="#e19c24" />
<path d="M203.9 571.5 L204.4 575.8 L204.9 580.1 L205.3 584.4 L205.8 588.7 L206.4 593.1 L206.9 597.4 L207.4 601.7 L207.9 606 L208.5 610.3 L209 614.6 L209.6 618.9 L210.1 623.2 L210.7 627.5 L211.3 631.9 L211.9 636.2 L212.5 640.5 L213.1 644.8 L213.7 649.1 L214.3 653.4 L214.9 657.7 L215.6 662 L216.2 666.3 L216.8 670.7 L217.5 675 L218.1 679.3 L218.8 683.6 L219.5 687.9 L220.2 692.2 L220.8 696.5 L221.5 700.8 L222.2 705.1 L222.9 709.4 L223.6 713.8 L224.3 718.1 L225.1 722.4 L225.8 726.7 L226.5 731 L227.2 735.3 L228 739.6 L228.7 743.9 L229.5 748.2 L230.2 752.6 L231 756.9 L231.7 761.2 L232.5 765.5 L233.2 769.8 L234 774.1 L234.8 778.4 L235.6 782.7 L236.3 787 L237.1 791.4 L237.9 795.7 L238.7 800 L239.5 804.3 L240.3 808.6 L241.1 812.9 L241.9 817.2 L242.7 821.5 L243.5 825.8 L244.3 830.2 L245.1 834.5 L245.9 838.8 L246.8 843.1 L247.6 847.4 L248.4 851.7 L249.2 856 L250 860.3 L250.9 864.6 L251.7 869 L252.5 873.3 L253.3 877.6 L254.2 881.9 L255 886.2 L255.8 890.5 L256.7 894.8 L257.5 899.1 L258.3 903.4 L259.1 907.8 L260 912.1 L260.8 916.4 L261.6 920.7 L262.5 925 L263.3 929.3 L264.1 933.6 L264.9 937.9 L265.8 942.2 L266.6 946.6 L267.4 950.9 L268.3 955.2 L269.1 959.5 L269.9 963.8 L270.7 968.1 L271.5 972.4 L272.4 976.7 L273.2 981 L274 985.3 L274.8 989.7 L275.6 994 L276.4 998.3 L277.2 1002.6 L278 1006.9 L278.8 1011.2 L279.6 1015.5 L280.4 1019.8 L281.2 1024.1 L282 1028.5 L282.8 1032.8 L283.6 1037.1 L284.3 1041.4 L285.1 1045.7 L285.9 1050 L286.6 1054.3 L287.4 1058.6 L288.2 1062.9 L288.9 1067.3 L289.7 1071.6 L290.4 1075.9 L291.1 1080.2 L291.9 1084.5" stroke="#eb6235" />
<path d="M273.5 716 L276 719.1 L278.6 722.2 L281.2 725.3 L283.9 728.4 L286.6 731.5 L289.3 734.6 L292.1 737.7 L294.9 740.8 L297.8 743.9 L300.7 747 L303.6 750.1 L306.6 753.2 L309.6 756.3 L312.6 759.4 L315.7 762.4 L318.8 765.5 L321.9 768.6 L325.1 771.7 L328.3 774.8 L331.5 777.9 L334.8 781 L338.1 784.1 L341.4 787.2 L344.7 790.3 L348.1 793.4 L351.5 796.5 L354.9 799.6 L358.3 802.7 L361.8 805.8 L365.3 808.9 L368.8 812 L372.3 815.1 L375.8 818.2 L379.3 821.3 L382.9 824.4 L386.5 827.5 L390.1 830.6 L393.7 833.7 L397.3 836.8 L400.9 839.9 L404.5 843 L408.2 846.1 L411.8 849.2 L415.5 852.3 L419.2 855.3 L422.8 858.4 L426.5 861.5 L430.2 864.6 L433.9 867.7 L437.6 870.8 L441.2 873.9 L444.9 877 L448.6 880.1 L452.3 883.2 L456 886.3 L459.7 889.4 L463.3 892.5 L467 895.6 L470.7 898.7 L474.3 901.8 L478 904.9 L481.6 908 L485.3 911.1 L488.9 914.2 L492.5 917.3 L496.1 920.4 L499.7 923.5 L503.3 926.6 L506.8 929.7 L510.4 932.8 L513.9 935.9 L517.4 939 L520.9 942.1 L524.3 945.2 L527.8 948.2 L531.2 951.3 L534.7 954.4 L538.1 957.5 L541.5 960.6 L544.9 963.7 L548.2 966.8 L551.6 969.9 L555 973 L558.3 976.1 L561.7 979.2 L565 982.3 L568.4 985.4 L571.7 988.5 L575.1 991.6 L578.4 994.7 L581.8 997.8 L585.2 1000.9 L588.5 1004 L591.9 1007.1 L595.3 1010.2 L598.7 1013.3 L602.1 1016.4 L605.5 1019.5 L608.9 1022.6 L612.4 1025.7 L615.9 1028.8 L619.3 1031.9 L622.8 1035 L626.4 1038.1 L629.9 1041.1 L633.5 1044.2 L637 1047.3 L640.7 1050.4 L644.3 1053.5 L648 1056.6 L651.6 1059.7 L655.4 1062.8 L659.1 1065.9 L662.9 1069 L666.7 1072.1 L670.6 1075.2 L674.5 1078.3 L678.4 1081.4 L682.4 1084.5" stroke="#808080" stroke-width="3.6" stroke-dasharray="7.6 3"/>
</g>
<line x1="188" y1="571" x2="188" y2="1081.5" stroke="#000" stroke-width="3.2"/>
<path d="M84.9 1081.5 v-7.5 M84.9 571 v7.5 M122.6 1081.5 v-4.8 M122.6 571 v4.8 M160.3 1081.5 v-4.8 M160.3 571 v4.8 M198 1081.5 v-4.8 M198 571 v4.8 M235.7 1081.5 v-4.8 M235.7 571 v4.8 M273.4 1081.5 v-7.5 M273.4 571 v7.5 M311.1 1081.5 v-4.8 M311.1 571 v4.8 M348.8 1081.5 v-4.8 M348.8 571 v4.8 M386.5 1081.5 v-4.8 M386.5 571 v4.8 M424.2 1081.5 v-4.8 M424.2 571 v4.8 M461.9 1081.5 v-7.5 M461.9 571 v7.5 M499.6 1081.5 v-4.8 M499.6 571 v4.8 M537.3 1081.5 v-4.8 M537.3 571 v4.8 M575 1081.5 v-4.8 M575 571 v4.8 M612.7 1081.5 v-4.8 M612.7 571 v4.8 M650.4 1081.5 v-7.5 M650.4 571 v7.5 M688.1 1081.5 v-4.8 M688.1 571 v4.8 M725.8 1081.5 v-4.8 M725.8 571 v4.8 M763.5 1081.5 v-4.8 M763.5 571 v4.8 M801.2 1081.5 v-4.8 M801.2 571 v4.8 M838.9 1081.5 v-7.5 M838.9 571 v7.5 M876.6 1081.5 v-4.8 M876.6 571 v4.8 M914.3 1081.5 v-4.8 M914.3 571 v4.8 M84.9 1081.5 h7.5 M930.2 1081.5 h-7.5 M84.9 1056 h4.8 M930.2 1056 h-4.8 M84.9 1030.5 h4.8 M930.2 1030.5 h-4.8 M84.9 1004.9 h4.8 M930.2 1004.9 h-4.8 M84.9 979.4 h7.5 M930.2 979.4 h-7.5 M84.9 953.9 h4.8 M930.2 953.9 h-4.8 M84.9 928.3 h4.8 M930.2 928.3 h-4.8 M84.9 902.8 h4.8 M930.2 902.8 h-4.8 M84.9 877.3 h7.5 M930.2 877.3 h-7.5 M84.9 851.8 h4.8 M930.2 851.8 h-4.8 M84.9 826.2 h4.8 M930.2 826.2 h-4.8 M84.9 800.7 h4.8 M930.2 800.7 h-4.8 M84.9 775.2 h7.5 M930.2 775.2 h-7.5 M84.9 749.7 h4.8 M930.2 749.7 h-4.8 M84.9 724.1 h4.8 M930.2 724.1 h-4.8 M84.9 698.6 h4.8 M930.2 698.6 h-4.8 M84.9 673.1 h7.5 M930.2 673.1 h-7.5 M84.9 647.6 h4.8 M930.2 647.6 h-4.8 M84.9 622 h4.8 M930.2 622 h-4.8 M84.9 596.5 h4.8 M930.2 596.5 h-4.8 M84.9 571 h7.5 M930.2 571 h-7.5" stroke="#000" stroke-width="2.04"/>
<rect x="84.9" y="571" width="845.3" height="510.5" fill="none" stroke="#000" stroke-width="2.4"/>
<text x="79" y="580.5" style="font-family:'Liberation Sans',sans-serif;font-size:26.3px" text-anchor="end" >1.0</text>
<text x="79" y="682.6" style="font-family:'Liberation Sans',sans-serif;font-size:26.3px" text-anchor="end" >0.8</text>
<text x="79" y="784.7" style="font-family:'Liberation Sans',sans-serif;font-size:26.3px" text-anchor="end" >0.6</text>
<text x="79" y="886.8" style="font-family:'Liberation Sans',sans-serif;font-size:26.3px" text-anchor="end" >0.4</text>
<text x="79" y="988.9" style="font-family:'Liberation Sans',sans-serif;font-size:26.3px" text-anchor="end" >0.2</text>
<text x="79" y="1091" style="font-family:'Liberation Sans',sans-serif;font-size:26.3px" text-anchor="end" >0.0</text>
<text x="84.9" y="1110.4" style="font-family:'Liberation Sans',sans-serif;font-size:25.2px" text-anchor="middle" >0</text>
<text x="273.4" y="1110.4" style="font-family:'Liberation Sans',sans-serif;font-size:25.2px" text-anchor="middle" >1</text>
<text x="461.9" y="1110.4" style="font-family:'Liberation Sans',sans-serif;font-size:25.2px" text-anchor="middle" >2</text>
<text x="650.4" y="1110.4" style="font-family:'Liberation Sans',sans-serif;font-size:25.2px" text-anchor="middle" >3</text>
<text x="838.9" y="1110.4" style="font-family:'Liberation Sans',sans-serif;font-size:25.2px" text-anchor="middle" >4</text>
<text x="159" y="1116.3" style="font-family:'Liberation Serif',serif;font-size:37px" textLength="68" lengthAdjust="spacing" ><tspan font-style="italic">h</tspan><tspan font-size="27px" dy="5.3">min</tspan></text>
<text x="681" y="1116.5" style="font-family:'Liberation Serif',serif;font-size:37px" textLength="73.5" lengthAdjust="spacing" ><tspan font-style="italic">h</tspan><tspan font-size="27px" dy="5">max</tspan></text>
<text x="445.5" y="1149" style="font-family:'Liberation Serif',serif;font-size:36px" textLength="120" lengthAdjust="spacing" ><tspan font-style="italic">h</tspan> (mm)</text>
<text transform="translate(27.2,880) rotate(-90)" x="0" y="0" style="font-family:'Liberation Serif',serif;font-size:36px" textLength="118" lengthAdjust="spacing" ><tspan font-style="italic">a</tspan> (mm)</text>
<line x1="587.7" y1="626.6" x2="625.5" y2="626.6" stroke="#5e81b5" stroke-width="5"/>
<text x="640" y="636.1" style="font-family:'Liberation Sans',sans-serif;font-size:26px"><tspan font-style="italic">&#961;</tspan>=0.25 (10<tspan font-size="17px" dy="-10">6</tspan><tspan dy="10">&#8201;cm</tspan><tspan font-size="17px" dy="-10"> &#8722;2</tspan><tspan dy="10">)</tspan></text>
<line x1="640" y1="616.8" x2="658" y2="616.8" stroke="#000" stroke-width="3"/>
<line x1="587.7" y1="672.7" x2="625.5" y2="672.7" stroke="#8fb032" stroke-width="5"/>
<text x="640" y="682.2" style="font-family:'Liberation Sans',sans-serif;font-size:26px"><tspan font-style="italic">&#961;</tspan>=0.35</text>
<line x1="640" y1="662.9" x2="658" y2="662.9" stroke="#000" stroke-width="3"/>
<line x1="587.7" y1="720.3" x2="625.5" y2="720.3" stroke="#e19c24" stroke-width="5"/>
<text x="640" y="729.8" style="font-family:'Liberation Sans',sans-serif;font-size:26px"><tspan font-style="italic">&#961;</tspan>=0.5</text>
<line x1="640" y1="710.5" x2="658" y2="710.5" stroke="#000" stroke-width="3"/>
<line x1="587.7" y1="767.1" x2="625.5" y2="767.1" stroke="#eb6235" stroke-width="5"/>
<text x="640" y="776.6" style="font-family:'Liberation Sans',sans-serif;font-size:26px"><tspan font-style="italic">&#961;</tspan>=1</text>
<line x1="640" y1="757.3" x2="658" y2="757.3" stroke="#000" stroke-width="3"/>
<text x="1067" y="626.4" style="font-family:'Liberation Sans',sans-serif;font-size:41px" text-anchor="start" font-weight="bold">e</text>
<defs><clipPath id="ec"><rect x="1166.6" y="571" width="846.8" height="509.7"/></clipPath></defs>
<g clip-path="url(#ec)">
<path d="M1244.4 565.4 L1244.7 568.2 L1245.1 571 L1245.5 573.5 L1245.8 575.8 L1246.2 578.2 L1246.6 580.6 L1246.9 582.9 L1247.3 585.3 L1247.7 587.6 L1248 589.9 L1248.4 592.2 L1248.8 594.4 L1249.1 596.7 L1249.5 598.9 L1249.9 601.2 L1250.2 603.4 L1250.6 605.6 L1251 607.8 L1251.3 609.9 L1251.7 612.1 L1252 614.2 L1252.4 616.4 L1252.8 618.5 L1253.1 620.6 L1253.5 622.7 L1253.9 624.7 L1254.2 626.8 L1254.6 628.8 L1255 630.9 L1255.3 632.9 L1255.7 634.9 L1256.1 636.9 L1256.4 638.8 L1256.8 640.8 L1257.2 642.8 L1257.5 644.7 L1257.9 646.6 L1258.3 648.5 L1258.6 650.4 L1259 652.3 L1259.3 654.1 L1259.7 656 L1260.1 657.8 L1260.4 659.7 L1260.8 661.5 L1261.2 663.3 L1261.5 665.1 L1261.9 666.8 L1262.3 668.6 L1262.6 670.3 L1263 672.1 L1263.4 673.8 L1263.7 675.5 L1264.1 677.2 L1264.5 678.9 L1264.8 680.5 L1265.2 682.2 L1265.6 683.8 L1265.9 685.5 L1266.3 687.1 L1266.6 688.7 L1267 690.3 L1267.4 691.9 L1267.7 693.4 L1268.1 695 L1268.5 696.5 L1268.8 698.1 L1269.2 699.6 L1269.6 701.1 L1269.9 702.6 L1270.3 704.1 L1270.7 705.5 L1271 707 L1271.4 708.4 L1271.8 709.9 L1272.1 711.3 L1272.5 712.7 L1272.9 714.1 L1273.2 715.5 L1273.6 716.8 L1273.9 718.2 L1274.3 719.5 L1274.7 720.8 L1275 722.1 L1275.4 723.4 L1275.8 724.7 L1276.1 726 L1276.5 727.2 L1276.9 728.4 L1277.2 729.6 L1277.6 730.8 L1278 732 L1278.3 733.2 L1278.7 734.3 L1279.1 735.5 L1279.4 736.6 L1279.8 737.7 L1280.2 738.8 L1280.5 739.9 L1280.9 741 L1281.2 742 L1281.6 743.1 L1282 744.1 L1282.3 745.1 L1282.7 746.1 L1283.1 747.1 L1283.4 748.1 L1283.8 749.1 L1284.2 750.1 L1284.5 751.1 L1284.9 752 L1285.3 752.9 L1285.6 753.9 L1286 754.8 L1286.4 755.7 L1286.7 756.6 L1287.1 757.5 L1287.5 758.4 L1287.8 759.3 L1288.2 760.1 L1288.6 761 L1288.9 761.8 L1289.3 762.7 L1289.6 763.5 L1290 764.3 L1290.4 765.2 L1290.7 766 L1291.1 766.8 L1291.5 767.6 L1291.8 768.4 L1292.2 769.2 L1292.6 769.9 L1292.9 770.7 L1293.3 771.5 L1293.7 772.2 L1294 773 L1294.4 773.7 L1294.8 774.5 L1295.1 775.2 L1295.5 776 L1295.9 776.7 L1296.2 777.4 L1296.6 778.1 L1296.9 778.8 L1297.3 779.5 L1297.7 780.2 L1298 780.9 L1298.4 781.6 L1298.8 782.3 L1299.1 783 L1299.5 783.7 L1299.9 784.3 L1300.2 785 L1300.6 785.7 L1301 786.3 L1301.3 787 L1301.7 787.7 L1302.1 788.3 L1302.4 789 L1302.8 789.6 L1303.2 790.3 L1303.5 790.9 L1303.9 791.5 L1304.2 792.2 L1304.6 792.8 L1305 793.4 L1305.3 794 L1305.7 794.7 L1306.1 795.3 L1306.4 795.9 L1306.8 796.5 L1307.2 797.1 L1307.5 797.7 L1307.9 798.3 L1308.3 799 L1308.6 799.6 L1309 800.2 L1309.4 800.8 L1309.7 801.4 L1310.1 801.9 L1310.5 802.5 L1310.8 803.1 L1311.2 803.7 L1311.5 804.3 L1311.9 804.9 L1312.3 805.5 L1312.6 806.1 L1313 806.7 L1313.4 807.2 L1313.7 807.8 L1314.1 808.4 L1314.5 809 L1314.8 809.6 L1315.2 810.1 L1315.6 810.7 L1315.9 811.3 L1316.3 811.9 L1316.7 812.4 L1317 813 L1317.4 813.6 L1317.8 814.1 L1318.1 814.7 L1318.5 815.3 L1318.8 815.9 L1319.2 816.4 L1319.6 817 L1319.9 817.6 L1320.3 818.1 L1320.7 818.7 L1321 819.3 L1321.4 819.8 L1321.8 820.4 L1322.1 820.9 L1322.5 821.5 L1322.9 822.1 L1323.2 822.6 L1323.6 823.2 L1324 823.7 L1324.3 824.3 L1324.7 824.8 L1325.1 825.4 L1325.4 825.9 L1325.8 826.5 L1326.1 827 L1326.5 827.6 L1326.9 828.1 L1327.2 828.6 L1327.6 829.2 L1328 829.7 L1328.3 830.3 L1328.7 830.8 L1329.1 831.3 L1329.4 831.8 L1329.8 832.4 L1330.2 832.9 L1330.5 833.4 L1330.9 833.9 L1331.3 834.4 L1331.6 835 L1332 835.5 L1332.4 836 L1332.7 836.5 L1333.1 837 L1333.4 837.5 L1333.8 838 L1334.2 838.5 L1334.5 839 L1334.9 839.5 L1335.3 840 L1335.6 840.5 L1336 841 L1336.4 841.4 L1336.7 841.9 L1337.1 842.4 L1337.5 842.9 L1337.8 843.3 L1338.2 843.8 L1338.6 844.3 L1338.9 844.7 L1339.3 845.2 L1339.7 845.7 L1340 846.1 L1340.4 846.6 L1340.7 847 L1341.1 847.5 L1341.5 847.9 L1341.8 848.4 L1342.2 848.8 L1342.6 849.2 L1342.9 849.7 L1343.3 850.1 L1343.7 850.5 L1344 850.9 L1344.4 851.4 L1344.8 851.8 L1345.1 852.2 L1345.5 852.6 L1345.9 853 L1346.2 853.4 L1346.6 853.8 L1347 854.2 L1347.3 854.6 L1347.7 855 L1348 855.4 L1348.4 855.8 L1348.8 856.2 L1349.1 856.5 L1349.5 856.9 L1349.9 857.3 L1350.2 857.7 L1350.6 858 L1351 858.4 L1351.3 858.8 L1351.7 859.1 L1352.1 859.5 L1352.4 859.9 L1352.8 860.2 L1353.2 860.6 L1353.5 860.9 L1353.9 861.3 L1354.3 861.6 L1354.6 862 L1355 862.3 L1355.4 862.6 L1355.7 863 L1356.1 863.3 L1356.4 863.7 L1356.8 864 L1357.2 864.3 L1357.5 864.6 L1357.9 865 L1358.3 865.3 L1358.6 865.6 L1359 865.9 L1359.4 866.2 L1359.7 866.6 L1360.1 866.9 L1360.5 867.2 L1360.8 867.5 L1361.2 867.8 L1361.6 868.1 L1361.9 868.4 L1362.3 868.7 L1362.7 869 L1363 869.3 L1363.4 869.6 L1363.7 869.9 L1364.1 870.2 L1364.5 870.5 L1364.8 870.8 L1365.2 871 L1365.6 871.3 L1365.9 871.6 L1366.3 871.9 L1366.7 872.2 L1367 872.5 L1367.4 872.7 L1367.8 873 L1368.1 873.3 L1368.5 873.5 L1368.9 873.8 L1369.2 874.1 L1369.6 874.4 L1370 874.6 L1370.3 874.9 L1370.7 875.2 L1371 875.4 L1371.4 875.7 L1371.8 875.9 L1372.1 876.2 L1372.5 876.4 L1372.9 876.7 L1373.2 877 L1373.6 877.2 L1374 877.5 L1374.3 877.7 L1374.7 878 L1375.1 878.2 L1375.4 878.5 L1375.8 878.7 L1376.2 878.9 L1376.5 879.2 L1376.9 879.4 L1377.3 879.7 L1377.6 879.9 L1378 880.1 L1378.3 880.4 L1378.7 880.6 L1379.1 880.9 L1379.4 881.1 L1379.8 881.3 L1380.2 881.5 L1380.5 881.8 L1380.9 882 L1381.3 882.2 L1381.6 882.5 L1382 882.7 L1382.4 882.9 L1382.7 883.1 L1383.1 883.4 L1383.5 883.6 L1383.8 883.8 L1384.2 884 L1384.6 884.2 L1384.9 884.5 L1385.3 884.7 L1385.6 884.9 L1386 885.1 L1386.4 885.3 L1386.7 885.6 L1387.1 885.8 L1387.5 886 L1387.8 886.2 L1388.2 886.4 L1388.6 886.6 L1388.9 886.8 L1389.3 887 L1389.7 887.2 L1390 887.4 L1390.4 887.7 L1390.8 887.9 L1391.1 888.1 L1391.5 888.3 L1391.9 888.5 L1392.2 888.7 L1392.6 888.9 L1392.9 889.1 L1393.3 889.3 L1393.7 889.5 L1394 889.7 L1394.4 889.9 L1394.8 890.1 L1395.1 890.3 L1395.5 890.5 L1395.9 890.7 L1396.2 890.9 L1396.6 891.1 L1397 891.3 L1397.3 891.5 L1397.7 891.6 L1398.1 891.8 L1398.4 892 L1398.8 892.2 L1399.2 892.4 L1399.5 892.6 L1399.9 892.8 L1400.2 893 L1400.6 893.2 L1401 893.4 L1401.3 893.6 L1401.7 893.7 L1402.1 893.9 L1402.4 894.1 L1402.8 894.3 L1403.2 894.5 L1403.5 894.7 L1403.9 894.9 L1404.3 895.1 L1404.6 895.2 L1405 895.4 L1405.4 895.6 L1405.7 895.8 L1406.1 896 L1406.5 896.2 L1406.8 896.3 L1407.2 896.5 L1407.5 896.7 L1407.9 896.9 L1408.3 897.1 L1408.6 897.2 L1409 897.4 L1409.4 897.6 L1409.7 897.8 L1410.1 897.9 L1410.5 898.1 L1410.8 898.3 L1411.2 898.5 L1411.6 898.7 L1411.9 898.8 L1412.3 899 L1412.7 899.2 L1413 899.4 L1413.4 899.5 L1413.8 899.7 L1414.1 899.9 L1414.5 900 L1414.8 900.2 L1415.2 900.4 L1415.6 900.6 L1415.9 900.7 L1416.3 900.9 L1416.7 901.1 L1417 901.2 L1417.4 901.4 L1417.8 901.6 L1418.1 901.7 L1418.5 901.9 L1418.9 902.1 L1419.2 902.2 L1419.6 902.4 L1420 902.6 L1420.3 902.7 L1420.7 902.9 L1421.1 903.1 L1421.4 903.2 L1421.8 903.4 L1422.1 903.6 L1422.5 903.7 L1422.9 903.9 L1423.2 904 L1423.6 904.2 L1424 904.4 L1424.3 904.5 L1432 907.8 L1439.6 910.9 L1447.2 913.8 L1454.8 916.6 L1462.4 919.3 L1470 921.8 L1477.6 924.2 L1485.3 926.5 L1492.9 928.6 L1500.5 930.7 L1508.1 932.6 L1515.7 934.5 L1523.3 936.3 L1531 937.9 L1538.6 939.5 L1546.2 941.1 L1553.8 942.5 L1561.4 943.9 L1569 945.3 L1576.6 946.6 L1584.3 947.8 L1591.9 949 L1599.5 950.1 L1607.1 951.2 L1614.7 952.3 L1622.3 953.3 L1630 954.2 L1637.6 955.2 L1645.2 956.1 L1652.8 956.9 L1660.4 957.8 L1668 958.6 L1675.6 959.4 L1683.3 960.1 L1690.9 960.8 L1698.5 961.5 L1706.1 962.2 L1713.7 962.9 L1721.3 963.5 L1728.9 964.1 L1736.6 964.7 L1744.2 965.3 L1751.8 965.8 L1759.4 966.4 L1767 966.9 L1774.6 967.4 L1782.3 967.9 L1789.9 968.4 L1797.5 968.8 L1805.1 969.3 L1812.7 969.7 L1820.3 970.1 L1827.9 970.6 L1835.6 970.9 L1843.2 971.3 L1850.8 971.7 L1858.4 972.1 L1866 972.4 L1873.6 972.8 L1881.3 973.1 L1888.9 973.4 L1896.5 973.8 L1904.1 974.1 L1911.7 974.4 L1919.3 974.7 L1926.9 975 L1934.6 975.2 L1942.2 975.5 L1949.8 975.8 L1957.4 976 L1965 976.3 L1972.6 976.5 L1980.2 976.8 L1987.9 977 L1995.5 977.2 L2003.1 977.4 L2010.7 977.7 L2018.3 977.9 L2025.9 978.2 L2025.9 999.2 L2018.3 999.1 L2010.7 998.9 L2003.1 998.8 L1995.5 998.8 L1987.9 998.8 L1980.2 998.7 L1972.6 998.7 L1965 998.6 L1957.4 998.6 L1949.8 998.5 L1942.2 998.4 L1934.6 998.4 L1926.9 998.3 L1919.3 998.2 L1911.7 998.1 L1904.1 998 L1896.5 998 L1888.9 997.9 L1881.3 997.7 L1873.6 997.6 L1866 997.5 L1858.4 997.4 L1850.8 997.3 L1843.2 997.1 L1835.6 997 L1827.9 996.8 L1820.3 996.6 L1812.7 996.5 L1805.1 996.3 L1797.5 996.1 L1789.9 995.9 L1782.3 995.7 L1774.6 995.5 L1767 995.2 L1759.4 995 L1751.8 994.7 L1744.2 994.4 L1736.6 994.2 L1728.9 993.9 L1721.3 993.5 L1713.7 993.2 L1706.1 992.9 L1698.5 992.5 L1690.9 992.1 L1683.3 991.7 L1675.6 991.3 L1668 990.9 L1660.4 990.4 L1652.8 989.9 L1645.2 989.4 L1637.6 988.9 L1630 988.3 L1622.3 987.7 L1614.7 987.1 L1607.1 986.5 L1599.5 985.8 L1591.9 985.1 L1584.3 984.3 L1576.6 983.5 L1569 982.7 L1561.4 981.8 L1553.8 980.9 L1546.2 979.9 L1538.6 978.9 L1531 977.8 L1523.3 976.7 L1515.7 975.5 L1508.1 974.3 L1500.5 973 L1492.9 971.7 L1485.3 970.3 L1477.6 968.8 L1470 967.2 L1462.4 965.6 L1454.8 963.8 L1447.2 962 L1439.6 960.1 L1432 958.1 L1424.3 956 L1423.9 955.9 L1423.5 955.7 L1423.1 955.6 L1422.7 955.5 L1422.3 955.4 L1421.9 955.3 L1421.5 955.2 L1421.1 955 L1420.6 954.9 L1420.2 954.8 L1419.8 954.7 L1419.4 954.6 L1419 954.4 L1418.6 954.3 L1418.2 954.2 L1417.8 954.1 L1417.4 953.9 L1416.9 953.8 L1416.5 953.7 L1416.1 953.6 L1415.7 953.5 L1415.3 953.3 L1414.9 953.2 L1414.5 953.1 L1414.1 953 L1413.7 952.8 L1413.2 952.7 L1412.8 952.6 L1412.4 952.4 L1412 952.3 L1411.6 952.2 L1411.2 952.1 L1410.8 951.9 L1410.4 951.8 L1410 951.7 L1409.5 951.5 L1409.1 951.4 L1408.7 951.3 L1408.3 951.2 L1407.9 951 L1407.5 950.9 L1407.1 950.8 L1406.7 950.6 L1406.3 950.5 L1405.8 950.4 L1405.4 950.2 L1405 950.1 L1404.6 950 L1404.2 949.8 L1403.8 949.7 L1403.4 949.6 L1403 949.4 L1402.6 949.3 L1402.2 949.1 L1401.7 949 L1401.3 948.9 L1400.9 948.7 L1400.5 948.6 L1400.1 948.5 L1399.7 948.3 L1399.3 948.2 L1398.9 948 L1398.5 947.9 L1398 947.8 L1397.6 947.6 L1397.2 947.5 L1396.8 947.3 L1396.4 947.2 L1396 947 L1395.6 946.9 L1395.2 946.8 L1394.8 946.6 L1394.3 946.5 L1393.9 946.3 L1393.5 946.2 L1393.1 946 L1392.7 945.9 L1392.3 945.7 L1391.9 945.6 L1391.5 945.4 L1391.1 945.3 L1390.6 945.1 L1390.2 945 L1389.8 944.9 L1389.4 944.7 L1389 944.5 L1388.6 944.4 L1388.2 944.2 L1387.8 944.1 L1387.4 943.9 L1386.9 943.8 L1386.5 943.6 L1386.1 943.5 L1385.7 943.3 L1385.3 943.2 L1384.9 943 L1384.5 942.9 L1384.1 942.7 L1383.7 942.5 L1383.2 942.4 L1382.8 942.2 L1382.4 942.1 L1382 941.9 L1381.6 941.7 L1381.2 941.6 L1380.8 941.4 L1380.4 941.3 L1380 941.1 L1379.5 940.9 L1379.1 940.8 L1378.7 940.6 L1378.3 940.4 L1377.9 940.3 L1377.5 940.1 L1377.1 939.9 L1376.7 939.8 L1376.3 939.6 L1375.9 939.4 L1375.4 939.3 L1375 939.1 L1374.6 938.9 L1374.2 938.8 L1373.8 938.6 L1373.4 938.4 L1373 938.2 L1372.6 938.1 L1372.2 937.9 L1371.7 937.7 L1371.3 937.5 L1370.9 937.4 L1370.5 937.2 L1370.1 937 L1369.7 936.8 L1369.3 936.7 L1368.9 936.5 L1368.5 936.3 L1368 936.1 L1367.6 935.9 L1367.2 935.8 L1366.8 935.6 L1366.4 935.4 L1366 935.2 L1365.6 935 L1365.2 934.8 L1364.8 934.6 L1364.3 934.5 L1363.9 934.3 L1363.5 934.1 L1363.1 933.9 L1362.7 933.7 L1362.3 933.5 L1361.9 933.3 L1361.5 933.1 L1361.1 932.9 L1360.6 932.7 L1360.2 932.5 L1359.8 932.3 L1359.4 932.1 L1359 931.9 L1358.6 931.7 L1358.2 931.5 L1357.8 931.3 L1357.4 931.1 L1356.9 930.9 L1356.5 930.7 L1356.1 930.5 L1355.7 930.3 L1355.3 930.1 L1354.9 929.9 L1354.5 929.7 L1354.1 929.5 L1353.7 929.3 L1353.3 929.1 L1352.8 928.9 L1352.4 928.6 L1352 928.4 L1351.6 928.2 L1351.2 928 L1350.8 927.8 L1350.4 927.6 L1350 927.3 L1349.6 927.1 L1349.1 926.9 L1348.7 926.7 L1348.3 926.5 L1347.9 926.2 L1347.5 926 L1347.1 925.8 L1346.7 925.6 L1346.3 925.3 L1345.9 925.1 L1345.4 924.9 L1345 924.6 L1344.6 924.4 L1344.2 924.2 L1343.8 923.9 L1343.4 923.7 L1343 923.5 L1342.6 923.2 L1342.2 923 L1341.7 922.7 L1341.3 922.5 L1340.9 922.3 L1340.5 922 L1340.1 921.8 L1339.7 921.5 L1339.3 921.3 L1338.9 921 L1338.5 920.8 L1338 920.5 L1337.6 920.3 L1337.2 920 L1336.8 919.7 L1336.4 919.5 L1336 919.2 L1335.6 919 L1335.2 918.7 L1334.8 918.4 L1334.3 918.2 L1333.9 917.9 L1333.5 917.6 L1333.1 917.4 L1332.7 917.1 L1332.3 916.8 L1331.9 916.6 L1331.5 916.3 L1331.1 916 L1330.7 915.7 L1330.2 915.4 L1329.8 915.2 L1329.4 914.9 L1329 914.6 L1328.6 914.3 L1328.2 914 L1327.8 913.7 L1327.4 913.4 L1327 913.1 L1326.5 912.8 L1326.1 912.6 L1325.7 912.3 L1325.3 912 L1324.9 911.7 L1324.5 911.3 L1324.1 911 L1323.7 910.7 L1323.3 910.4 L1322.8 910.1 L1322.4 909.8 L1322 909.5 L1321.6 909.2 L1321.2 908.8 L1320.8 908.5 L1320.4 908.2 L1320 907.9 L1319.6 907.6 L1319.1 907.2 L1318.7 906.9 L1318.3 906.6 L1317.9 906.2 L1317.5 905.9 L1317.1 905.5 L1316.7 905.2 L1316.3 904.9 L1315.9 904.5 L1315.4 904.2 L1315 903.8 L1314.6 903.5 L1314.2 903.1 L1313.8 902.7 L1313.4 902.4 L1313 902 L1312.6 901.7 L1312.2 901.3 L1311.7 900.9 L1311.3 900.5 L1310.9 900.2 L1310.5 899.8 L1310.1 899.4 L1309.7 899 L1309.3 898.6 L1308.9 898.3 L1308.5 897.9 L1308.1 897.5 L1307.6 897.1 L1307.2 896.7 L1306.8 896.3 L1306.4 895.9 L1306 895.5 L1305.6 895 L1305.2 894.6 L1304.8 894.2 L1304.4 893.8 L1303.9 893.4 L1303.5 892.9 L1303.1 892.5 L1302.7 892.1 L1302.3 891.6 L1301.9 891.2 L1301.5 890.8 L1301.1 890.3 L1300.7 889.9 L1300.2 889.4 L1299.8 889 L1299.4 888.5 L1299 888 L1298.6 887.6 L1298.2 887.1 L1297.8 886.6 L1297.4 886.1 L1297 885.7 L1296.5 885.2 L1296.1 884.7 L1295.7 884.2 L1295.3 883.7 L1294.9 883.2 L1294.5 882.7 L1294.1 882.2 L1293.7 881.6 L1293.3 881.1 L1292.8 880.6 L1292.4 880.1 L1292 879.5 L1291.6 879 L1291.2 878.5 L1290.8 877.9 L1290.4 877.4 L1290 876.8 L1289.6 876.3 L1289.1 875.7 L1288.7 875.1 L1288.3 874.5 L1287.9 874 L1287.5 873.4 L1287.1 872.8 L1286.7 872.2 L1286.3 871.6 L1285.9 871 L1285.4 870.4 L1285 869.7 L1284.6 869.1 L1284.2 868.5 L1283.8 867.9 L1283.4 867.2 L1283 866.6 L1282.6 865.9 L1282.2 865.3 L1281.8 864.6 L1281.3 863.9 L1280.9 863.2 L1280.5 862.6 L1280.1 861.9 L1279.7 861.2 L1279.3 860.5 L1278.9 859.8 L1278.5 859 L1278.1 858.3 L1277.6 857.6 L1277.2 856.8 L1276.8 856.1 L1276.4 855.3 L1276 854.6 L1275.6 853.8 L1275.2 853 L1274.8 852.3 L1274.4 851.5 L1273.9 850.7 L1273.5 849.9 L1273.1 849.1 L1272.7 848.2 L1272.3 847.4 L1271.9 846.6 L1271.5 845.7 L1271.1 844.9 L1270.7 844 L1270.2 843.1 L1269.8 842.2 L1269.4 841.4 L1269 840.5 L1268.6 839.5 L1268.2 838.6 L1267.8 837.7 L1267.4 836.8 L1267 835.8 L1266.5 834.8 L1266.1 833.9 L1265.7 832.9 L1265.3 831.9 L1264.9 830.9 L1264.5 829.9 L1264.1 828.9 L1263.7 827.8 L1263.3 826.8 L1262.8 825.7 L1262.4 824.6 L1262 823.6 L1261.6 822.5 L1261.2 821.4 L1260.8 820.2 L1260.4 819.1 L1260 818 L1259.6 816.8 L1259.2 815.6 L1258.7 814.4 L1258.3 813.2 L1257.9 812 L1257.5 810.8 L1257.1 809.5 L1256.7 808.3 L1256.3 807 L1255.9 805.7 L1255.5 804.4 L1255 803.1 L1254.6 801.7 L1254.2 800.4 L1253.8 799 L1253.4 797.6 L1253 796.2 L1252.6 794.8 L1252.2 793.3 L1251.8 791.8 L1251.3 790.4 L1250.9 788.9 L1250.5 787.3 L1250.1 785.8 L1249.7 784.2 L1249.3 782.6 L1248.9 781 L1248.5 779.4 L1248.1 777.7 L1247.6 776 L1247.2 774.3 L1246.8 772.6 L1246.4 770.8 L1246 769.1 L1245.6 767.2 L1245.2 765.4 L1244.8 763.5 L1244.4 761.7 L1243.9 759.7 L1243.5 757.8 L1243.1 755.8 L1242.7 753.8 L1242.3 751.8 L1241.9 749.7 L1241.5 747.6 L1241.1 745.4 L1240.7 743.3 L1240.2 741.1 L1239.8 738.8 L1239.4 736.5 L1239 734.2 L1238.6 731.8 L1238.2 729.3 L1237.8 726.8 L1237.4 724.2 L1237 721.5 L1236.6 718.6 L1236.1 715.7 L1235.7 712.6 L1235.3 709.4 L1234.9 706.2 L1234.5 702.8 L1234.1 699.5 L1233.7 696.1 L1233.3 692.7 L1232.9 689.3 L1232.4 685.8 L1232 682.3 L1231.6 678.8 L1231.2 675.2 L1230.8 671.6 L1230.4 668 L1230 664.2 L1229.6 660.5 L1229.2 656.6 L1228.7 652.7 L1228.3 648.6 L1227.9 644.5 L1227.5 640.3 L1227.1 635.9 L1226.7 631.4 L1226.3 626.8 L1225.9 622 L1225.5 617.1 L1225 611.9 L1224.6 606.6 L1224.2 601.1 L1223.8 595.3 L1223.4 589.3 L1223 583 L1222.6 576.4 L1222.2 569.7 L1221.8 563.1 Z" fill="#d9d9d9"/>
<path d="M1244.4 565.4 L1244.7 568.2 L1245.1 571 L1245.5 573.5 L1245.8 575.8 L1246.2 578.2 L1246.6 580.6 L1246.9 582.9 L1247.3 585.3 L1247.7 587.6 L1248 589.9 L1248.4 592.2 L1248.8 594.4 L1249.1 596.7 L1249.5 598.9 L1249.9 601.2 L1250.2 603.4 L1250.6 605.6 L1251 607.8 L1251.3 609.9 L1251.7 612.1 L1252 614.2 L1252.4 616.4 L1252.8 618.5 L1253.1 620.6 L1253.5 622.7 L1253.9 624.7 L1254.2 626.8 L1254.6 628.8 L1255 630.9 L1255.3 632.9 L1255.7 634.9 L1256.1 636.9 L1256.4 638.8 L1256.8 640.8 L1257.2 642.8 L1257.5 644.7 L1257.9 646.6 L1258.3 648.5 L1258.6 650.4 L1259 652.3 L1259.3 654.1 L1259.7 656 L1260.1 657.8 L1260.4 659.7 L1260.8 661.5 L1261.2 663.3 L1261.5 665.1 L1261.9 666.8 L1262.3 668.6 L1262.6 670.3 L1263 672.1 L1263.4 673.8 L1263.7 675.5 L1264.1 677.2 L1264.5 678.9 L1264.8 680.5 L1265.2 682.2 L1265.6 683.8 L1265.9 685.5 L1266.3 687.1 L1266.6 688.7 L1267 690.3 L1267.4 691.9 L1267.7 693.4 L1268.1 695 L1268.5 696.5 L1268.8 698.1 L1269.2 699.6 L1269.6 701.1 L1269.9 702.6 L1270.3 704.1 L1270.7 705.5 L1271 707 L1271.4 708.4 L1271.8 709.9 L1272.1 711.3 L1272.5 712.7 L1272.9 714.1 L1273.2 715.5 L1273.6 716.8 L1273.9 718.2 L1274.3 719.5 L1274.7 720.8 L1275 722.1 L1275.4 723.4 L1275.8 724.7 L1276.1 726 L1276.5 727.2 L1276.9 728.4 L1277.2 729.6 L1277.6 730.8 L1278 732 L1278.3 733.2 L1278.7 734.3 L1279.1 735.5 L1279.4 736.6 L1279.8 737.7 L1280.2 738.8 L1280.5 739.9 L1280.9 741 L1281.2 742 L1281.6 743.1 L1282 744.1 L1282.3 745.1 L1282.7 746.1 L1283.1 747.1 L1283.4 748.1 L1283.8 749.1 L1284.2 750.1 L1284.5 751.1 L1284.9 752 L1285.3 752.9 L1285.6 753.9 L1286 754.8 L1286.4 755.7 L1286.7 756.6 L1287.1 757.5 L1287.5 758.4 L1287.8 759.3 L1288.2 760.1 L1288.6 761 L1288.9 761.8 L1289.3 762.7 L1289.6 763.5 L1290 764.3 L1290.4 765.2 L1290.7 766 L1291.1 766.8 L1291.5 767.6 L1291.8 768.4 L1292.2 769.2 L1292.6 769.9 L1292.9 770.7 L1293.3 771.5 L1293.7 772.2 L1294 773 L1294.4 773.7 L1294.8 774.5 L1295.1 775.2 L1295.5 776 L1295.9 776.7 L1296.2 777.4 L1296.6 778.1 L1296.9 778.8 L1297.3 779.5 L1297.7 780.2 L1298 780.9 L1298.4 781.6 L1298.8 782.3 L1299.1 783 L1299.5 783.7 L1299.9 784.3 L1300.2 785 L1300.6 785.7 L1301 786.3 L1301.3 787 L1301.7 787.7 L1302.1 788.3 L1302.4 789 L1302.8 789.6 L1303.2 790.3 L1303.5 790.9 L1303.9 791.5 L1304.2 792.2 L1304.6 792.8 L1305 793.4 L1305.3 794 L1305.7 794.7 L1306.1 795.3 L1306.4 795.9 L1306.8 796.5 L1307.2 797.1 L1307.5 797.7 L1307.9 798.3 L1308.3 799 L1308.6 799.6 L1309 800.2 L1309.4 800.8 L1309.7 801.4 L1310.1 801.9 L1310.5 802.5 L1310.8 803.1 L1311.2 803.7 L1311.5 804.3 L1311.9 804.9 L1312.3 805.5 L1312.6 806.1 L1313 806.7 L1313.4 807.2 L1313.7 807.8 L1314.1 808.4 L1314.5 809 L1314.8 809.6 L1315.2 810.1 L1315.6 810.7 L1315.9 811.3 L1316.3 811.9 L1316.7 812.4 L1317 813 L1317.4 813.6 L1317.8 814.1 L1318.1 814.7 L1318.5 815.3 L1318.8 815.9 L1319.2 816.4 L1319.6 817 L1319.9 817.6 L1320.3 818.1 L1320.7 818.7 L1321 819.3 L1321.4 819.8 L1321.8 820.4 L1322.1 820.9 L1322.5 821.5 L1322.9 822.1 L1323.2 822.6 L1323.6 823.2 L1324 823.7 L1324.3 824.3 L1324.7 824.8 L1325.1 825.4 L1325.4 825.9 L1325.8 826.5 L1326.1 827 L1326.5 827.6 L1326.9 828.1 L1327.2 828.6 L1327.6 829.2 L1328 829.7 L1328.3 830.3 L1328.7 830.8 L1329.1 831.3 L1329.4 831.8 L1329.8 832.4 L1330.2 832.9 L1330.5 833.4 L1330.9 833.9 L1331.3 834.4 L1331.6 835 L1332 835.5 L1332.4 836 L1332.7 836.5 L1333.1 837 L1333.4 837.5 L1333.8 838 L1334.2 838.5 L1334.5 839 L1334.9 839.5 L1335.3 840 L1335.6 840.5 L1336 841 L1336.4 841.4 L1336.7 841.9 L1337.1 842.4 L1337.5 842.9 L1337.8 843.3 L1338.2 843.8 L1338.6 844.3 L1338.9 844.7 L1339.3 845.2 L1339.7 845.7 L1340 846.1 L1340.4 846.6 L1340.7 847 L1341.1 847.5 L1341.5 847.9 L1341.8 848.4 L1342.2 848.8 L1342.6 849.2 L1342.9 849.7 L1343.3 850.1 L1343.7 850.5 L1344 850.9 L1344.4 851.4 L1344.8 851.8 L1345.1 852.2 L1345.5 852.6 L1345.9 853 L1346.2 853.4 L1346.6 853.8 L1347 854.2 L1347.3 854.6 L1347.7 855 L1348 855.4 L1348.4 855.8 L1348.8 856.2 L1349.1 856.5 L1349.5 856.9 L1349.9 857.3 L1350.2 857.7 L1350.6 858 L1351 858.4 L1351.3 858.8 L1351.7 859.1 L1352.1 859.5 L1352.4 859.9 L1352.8 860.2 L1353.2 860.6 L1353.5 860.9 L1353.9 861.3 L1354.3 861.6 L1354.6 862 L1355 862.3 L1355.4 862.6 L1355.7 863 L1356.1 863.3 L1356.4 863.7 L1356.8 864 L1357.2 864.3 L1357.5 864.6 L1357.9 865 L1358.3 865.3 L1358.6 865.6 L1359 865.9 L1359.4 866.2 L1359.7 866.6 L1360.1 866.9 L1360.5 867.2 L1360.8 867.5 L1361.2 867.8 L1361.6 868.1 L1361.9 868.4 L1362.3 868.7 L1362.7 869 L1363 869.3 L1363.4 869.6 L1363.7 869.9 L1364.1 870.2 L1364.5 870.5 L1364.8 870.8 L1365.2 871 L1365.6 871.3 L1365.9 871.6 L1366.3 871.9 L1366.7 872.2 L1367 872.5 L1367.4 872.7 L1367.8 873 L1368.1 873.3 L1368.5 873.5 L1368.9 873.8 L1369.2 874.1 L1369.6 874.4 L1370 874.6 L1370.3 874.9 L1370.7 875.2 L1371 875.4 L1371.4 875.7 L1371.8 875.9 L1372.1 876.2 L1372.5 876.4 L1372.9 876.7 L1373.2 877 L1373.6 877.2 L1374 877.5 L1374.3 877.7 L1374.7 878 L1375.1 878.2 L1375.4 878.5 L1375.8 878.7 L1376.2 878.9 L1376.5 879.2 L1376.9 879.4 L1377.3 879.7 L1377.6 879.9 L1378 880.1 L1378.3 880.4 L1378.7 880.6 L1379.1 880.9 L1379.4 881.1 L1379.8 881.3 L1380.2 881.5 L1380.5 881.8 L1380.9 882 L1381.3 882.2 L1381.6 882.5 L1382 882.7 L1382.4 882.9 L1382.7 883.1 L1383.1 883.4 L1383.5 883.6 L1383.8 883.8 L1384.2 884 L1384.6 884.2 L1384.9 884.5 L1385.3 884.7 L1385.6 884.9 L1386 885.1 L1386.4 885.3 L1386.7 885.6 L1387.1 885.8 L1387.5 886 L1387.8 886.2 L1388.2 886.4 L1388.6 886.6 L1388.9 886.8 L1389.3 887 L1389.7 887.2 L1390 887.4 L1390.4 887.7 L1390.8 887.9 L1391.1 888.1 L1391.5 888.3 L1391.9 888.5 L1392.2 888.7 L1392.6 888.9 L1392.9 889.1 L1393.3 889.3 L1393.7 889.5 L1394 889.7 L1394.4 889.9 L1394.8 890.1 L1395.1 890.3 L1395.5 890.5 L1395.9 890.7 L1396.2 890.9 L1396.6 891.1 L1397 891.3 L1397.3 891.5 L1397.7 891.6 L1398.1 891.8 L1398.4 892 L1398.8 892.2 L1399.2 892.4 L1399.5 892.6 L1399.9 892.8 L1400.2 893 L1400.6 893.2 L1401 893.4 L1401.3 893.6 L1401.7 893.7 L1402.1 893.9 L1402.4 894.1 L1402.8 894.3 L1403.2 894.5 L1403.5 894.7 L1403.9 894.9 L1404.3 895.1 L1404.6 895.2 L1405 895.4 L1405.4 895.6 L1405.7 895.8 L1406.1 896 L1406.5 896.2 L1406.8 896.3 L1407.2 896.5 L1407.5 896.7 L1407.9 896.9 L1408.3 897.1 L1408.6 897.2 L1409 897.4 L1409.4 897.6 L1409.7 897.8 L1410.1 897.9 L1410.5 898.1 L1410.8 898.3 L1411.2 898.5 L1411.6 898.7 L1411.9 898.8 L1412.3 899 L1412.7 899.2 L1413 899.4 L1413.4 899.5 L1413.8 899.7 L1414.1 899.9 L1414.5 900 L1414.8 900.2 L1415.2 900.4 L1415.6 900.6 L1415.9 900.7 L1416.3 900.9 L1416.7 901.1 L1417 901.2 L1417.4 901.4 L1417.8 901.6 L1418.1 901.7 L1418.5 901.9 L1418.9 902.1 L1419.2 902.2 L1419.6 902.4 L1420 902.6 L1420.3 902.7 L1420.7 902.9 L1421.1 903.1 L1421.4 903.2 L1421.8 903.4 L1422.1 903.6 L1422.5 903.7 L1422.9 903.9 L1423.2 904 L1423.6 904.2 L1424 904.4 L1424.3 904.5 L1432 907.8 L1439.6 910.9 L1447.2 913.8 L1454.8 916.6 L1462.4 919.3 L1470 921.8 L1477.6 924.2 L1485.3 926.5 L1492.9 928.6 L1500.5 930.7 L1508.1 932.6 L1515.7 934.5 L1523.3 936.3 L1531 937.9 L1538.6 939.5 L1546.2 941.1 L1553.8 942.5 L1561.4 943.9 L1569 945.3 L1576.6 946.6 L1584.3 947.8 L1591.9 949 L1599.5 950.1 L1607.1 951.2 L1614.7 952.3 L1622.3 953.3 L1630 954.2 L1637.6 955.2 L1645.2 956.1 L1652.8 956.9 L1660.4 957.8 L1668 958.6 L1675.6 959.4 L1683.3 960.1 L1690.9 960.8 L1698.5 961.5 L1706.1 962.2 L1713.7 962.9 L1721.3 963.5 L1728.9 964.1 L1736.6 964.7 L1744.2 965.3 L1751.8 965.8 L1759.4 966.4 L1767 966.9 L1774.6 967.4 L1782.3 967.9 L1789.9 968.4 L1797.5 968.8 L1805.1 969.3 L1812.7 969.7 L1820.3 970.1 L1827.9 970.6 L1835.6 970.9 L1843.2 971.3 L1850.8 971.7 L1858.4 972.1 L1866 972.4 L1873.6 972.8 L1881.3 973.1 L1888.9 973.4 L1896.5 973.8 L1904.1 974.1 L1911.7 974.4 L1919.3 974.7 L1926.9 975 L1934.6 975.2 L1942.2 975.5 L1949.8 975.8 L1957.4 976 L1965 976.3 L1972.6 976.5 L1980.2 976.8 L1987.9 977 L1995.5 977.2 L2003.1 977.4 L2010.7 977.7 L2018.3 977.9 L2025.9 978.2" fill="none" stroke="#000" stroke-width="3"/>
<path d="M1221.8 563.1 L1222.2 569.7 L1222.6 576.4 L1223 583 L1223.4 589.3 L1223.8 595.3 L1224.2 601.1 L1224.6 606.6 L1225 611.9 L1225.5 617.1 L1225.9 622 L1226.3 626.8 L1226.7 631.4 L1227.1 635.9 L1227.5 640.3 L1227.9 644.5 L1228.3 648.6 L1228.7 652.7 L1229.2 656.6 L1229.6 660.5 L1230 664.2 L1230.4 668 L1230.8 671.6 L1231.2 675.2 L1231.6 678.8 L1232 682.3 L1232.4 685.8 L1232.9 689.3 L1233.3 692.7 L1233.7 696.1 L1234.1 699.5 L1234.5 702.8 L1234.9 706.2 L1235.3 709.4 L1235.7 712.6 L1236.1 715.7 L1236.6 718.6 L1237 721.5 L1237.4 724.2 L1237.8 726.8 L1238.2 729.3 L1238.6 731.8 L1239 734.2 L1239.4 736.5 L1239.8 738.8 L1240.2 741.1 L1240.7 743.3 L1241.1 745.4 L1241.5 747.6 L1241.9 749.7 L1242.3 751.8 L1242.7 753.8 L1243.1 755.8 L1243.5 757.8 L1243.9 759.7 L1244.4 761.7 L1244.8 763.5 L1245.2 765.4 L1245.6 767.2 L1246 769.1 L1246.4 770.8 L1246.8 772.6 L1247.2 774.3 L1247.6 776 L1248.1 777.7 L1248.5 779.4 L1248.9 781 L1249.3 782.6 L1249.7 784.2 L1250.1 785.8 L1250.5 787.3 L1250.9 788.9 L1251.3 790.4 L1251.8 791.8 L1252.2 793.3 L1252.6 794.8 L1253 796.2 L1253.4 797.6 L1253.8 799 L1254.2 800.4 L1254.6 801.7 L1255 803.1 L1255.5 804.4 L1255.9 805.7 L1256.3 807 L1256.7 808.3 L1257.1 809.5 L1257.5 810.8 L1257.9 812 L1258.3 813.2 L1258.7 814.4 L1259.2 815.6 L1259.6 816.8 L1260 818 L1260.4 819.1 L1260.8 820.2 L1261.2 821.4 L1261.6 822.5 L1262 823.6 L1262.4 824.6 L1262.8 825.7 L1263.3 826.8 L1263.7 827.8 L1264.1 828.9 L1264.5 829.9 L1264.9 830.9 L1265.3 831.9 L1265.7 832.9 L1266.1 833.9 L1266.5 834.8 L1267 835.8 L1267.4 836.8 L1267.8 837.7 L1268.2 838.6 L1268.6 839.5 L1269 840.5 L1269.4 841.4 L1269.8 842.2 L1270.2 843.1 L1270.7 844 L1271.1 844.9 L1271.5 845.7 L1271.9 846.6 L1272.3 847.4 L1272.7 848.2 L1273.1 849.1 L1273.5 849.9 L1273.9 850.7 L1274.4 851.5 L1274.8 852.3 L1275.2 853 L1275.6 853.8 L1276 854.6 L1276.4 855.3 L1276.8 856.1 L1277.2 856.8 L1277.6 857.6 L1278.1 858.3 L1278.5 859 L1278.9 859.8 L1279.3 860.5 L1279.7 861.2 L1280.1 861.9 L1280.5 862.6 L1280.9 863.2 L1281.3 863.9 L1281.8 864.6 L1282.2 865.3 L1282.6 865.9 L1283 866.6 L1283.4 867.2 L1283.8 867.9 L1284.2 868.5 L1284.6 869.1 L1285 869.7 L1285.4 870.4 L1285.9 871 L1286.3 871.6 L1286.7 872.2 L1287.1 872.8 L1287.5 873.4 L1287.9 874 L1288.3 874.5 L1288.7 875.1 L1289.1 875.7 L1289.6 876.3 L1290 876.8 L1290.4 877.4 L1290.8 877.9 L1291.2 878.5 L1291.6 879 L1292 879.5 L1292.4 880.1 L1292.8 880.6 L1293.3 881.1 L1293.7 881.6 L1294.1 882.2 L1294.5 882.7 L1294.9 883.2 L1295.3 883.7 L1295.7 884.2 L1296.1 884.7 L1296.5 885.2 L1297 885.7 L1297.4 886.1 L1297.8 886.6 L1298.2 887.1 L1298.6 887.6 L1299 888 L1299.4 888.5 L1299.8 889 L1300.2 889.4 L1300.7 889.9 L1301.1 890.3 L1301.5 890.8 L1301.9 891.2 L1302.3 891.6 L1302.7 892.1 L1303.1 892.5 L1303.5 892.9 L1303.9 893.4 L1304.4 893.8 L1304.8 894.2 L1305.2 894.6 L1305.6 895 L1306 895.5 L1306.4 895.9 L1306.8 896.3 L1307.2 896.7 L1307.6 897.1 L1308.1 897.5 L1308.5 897.9 L1308.9 898.3 L1309.3 898.6 L1309.7 899 L1310.1 899.4 L1310.5 899.8 L1310.9 900.2 L1311.3 900.5 L1311.7 900.9 L1312.2 901.3 L1312.6 901.7 L1313 902 L1313.4 902.4 L1313.8 902.7 L1314.2 903.1 L1314.6 903.5 L1315 903.8 L1315.4 904.2 L1315.9 904.5 L1316.3 904.9 L1316.7 905.2 L1317.1 905.5 L1317.5 905.9 L1317.9 906.2 L1318.3 906.6 L1318.7 906.9 L1319.1 907.2 L1319.6 907.6 L1320 907.9 L1320.4 908.2 L1320.8 908.5 L1321.2 908.8 L1321.6 909.2 L1322 909.5 L1322.4 909.8 L1322.8 910.1 L1323.3 910.4 L1323.7 910.7 L1324.1 911 L1324.5 911.3 L1324.9 911.7 L1325.3 912 L1325.7 912.3 L1326.1 912.6 L1326.5 912.8 L1327 913.1 L1327.4 913.4 L1327.8 913.7 L1328.2 914 L1328.6 914.3 L1329 914.6 L1329.4 914.9 L1329.8 915.2 L1330.2 915.4 L1330.7 915.7 L1331.1 916 L1331.5 916.3 L1331.9 916.6 L1332.3 916.8 L1332.7 917.1 L1333.1 917.4 L1333.5 917.6 L1333.9 917.9 L1334.3 918.2 L1334.8 918.4 L1335.2 918.7 L1335.6 919 L1336 919.2 L1336.4 919.5 L1336.8 919.7 L1337.2 920 L1337.6 920.3 L1338 920.5 L1338.5 920.8 L1338.9 921 L1339.3 921.3 L1339.7 921.5 L1340.1 921.8 L1340.5 922 L1340.9 922.3 L1341.3 922.5 L1341.7 922.7 L1342.2 923 L1342.6 923.2 L1343 923.5 L1343.4 923.7 L1343.8 923.9 L1344.2 924.2 L1344.6 924.4 L1345 924.6 L1345.4 924.9 L1345.9 925.1 L1346.3 925.3 L1346.7 925.6 L1347.1 925.8 L1347.5 926 L1347.9 926.2 L1348.3 926.5 L1348.7 926.7 L1349.1 926.9 L1349.6 927.1 L1350 927.3 L1350.4 927.6 L1350.8 927.8 L1351.2 928 L1351.6 928.2 L1352 928.4 L1352.4 928.6 L1352.8 928.9 L1353.3 929.1 L1353.7 929.3 L1354.1 929.5 L1354.5 929.7 L1354.9 929.9 L1355.3 930.1 L1355.7 930.3 L1356.1 930.5 L1356.5 930.7 L1356.9 930.9 L1357.4 931.1 L1357.8 931.3 L1358.2 931.5 L1358.6 931.7 L1359 931.9 L1359.4 932.1 L1359.8 932.3 L1360.2 932.5 L1360.6 932.7 L1361.1 932.9 L1361.5 933.1 L1361.9 933.3 L1362.3 933.5 L1362.7 933.7 L1363.1 933.9 L1363.5 934.1 L1363.9 934.3 L1364.3 934.5 L1364.8 934.6 L1365.2 934.8 L1365.6 935 L1366 935.2 L1366.4 935.4 L1366.8 935.6 L1367.2 935.8 L1367.6 935.9 L1368 936.1 L1368.5 936.3 L1368.9 936.5 L1369.3 936.7 L1369.7 936.8 L1370.1 937 L1370.5 937.2 L1370.9 937.4 L1371.3 937.5 L1371.7 937.7 L1372.2 937.9 L1372.6 938.1 L1373 938.2 L1373.4 938.4 L1373.8 938.6 L1374.2 938.8 L1374.6 938.9 L1375 939.1 L1375.4 939.3 L1375.9 939.4 L1376.3 939.6 L1376.7 939.8 L1377.1 939.9 L1377.5 940.1 L1377.9 940.3 L1378.3 940.4 L1378.7 940.6 L1379.1 940.8 L1379.5 940.9 L1380 941.1 L1380.4 941.3 L1380.8 941.4 L1381.2 941.6 L1381.6 941.7 L1382 941.9 L1382.4 942.1 L1382.8 942.2 L1383.2 942.4 L1383.7 942.5 L1384.1 942.7 L1384.5 942.9 L1384.9 943 L1385.3 943.2 L1385.7 943.3 L1386.1 943.5 L1386.5 943.6 L1386.9 943.8 L1387.4 943.9 L1387.8 944.1 L1388.2 944.2 L1388.6 944.4 L1389 944.5 L1389.4 944.7 L1389.8 944.9 L1390.2 945 L1390.6 945.1 L1391.1 945.3 L1391.5 945.4 L1391.9 945.6 L1392.3 945.7 L1392.7 945.9 L1393.1 946 L1393.5 946.2 L1393.9 946.3 L1394.3 946.5 L1394.8 946.6 L1395.2 946.8 L1395.6 946.9 L1396 947 L1396.4 947.2 L1396.8 947.3 L1397.2 947.5 L1397.6 947.6 L1398 947.8 L1398.5 947.9 L1398.9 948 L1399.3 948.2 L1399.7 948.3 L1400.1 948.5 L1400.5 948.6 L1400.9 948.7 L1401.3 948.9 L1401.7 949 L1402.2 949.1 L1402.6 949.3 L1403 949.4 L1403.4 949.6 L1403.8 949.7 L1404.2 949.8 L1404.6 950 L1405 950.1 L1405.4 950.2 L1405.8 950.4 L1406.3 950.5 L1406.7 950.6 L1407.1 950.8 L1407.5 950.9 L1407.9 951 L1408.3 951.2 L1408.7 951.3 L1409.1 951.4 L1409.5 951.5 L1410 951.7 L1410.4 951.8 L1410.8 951.9 L1411.2 952.1 L1411.6 952.2 L1412 952.3 L1412.4 952.4 L1412.8 952.6 L1413.2 952.7 L1413.7 952.8 L1414.1 953 L1414.5 953.1 L1414.9 953.2 L1415.3 953.3 L1415.7 953.5 L1416.1 953.6 L1416.5 953.7 L1416.9 953.8 L1417.4 953.9 L1417.8 954.1 L1418.2 954.2 L1418.6 954.3 L1419 954.4 L1419.4 954.6 L1419.8 954.7 L1420.2 954.8 L1420.6 954.9 L1421.1 955 L1421.5 955.2 L1421.9 955.3 L1422.3 955.4 L1422.7 955.5 L1423.1 955.6 L1423.5 955.7 L1423.9 955.9 L1424.3 956 L1432 958.1 L1439.6 960.1 L1447.2 962 L1454.8 963.8 L1462.4 965.6 L1470 967.2 L1477.6 968.8 L1485.3 970.3 L1492.9 971.7 L1500.5 973 L1508.1 974.3 L1515.7 975.5 L1523.3 976.7 L1531 977.8 L1538.6 978.9 L1546.2 979.9 L1553.8 980.9 L1561.4 981.8 L1569 982.7 L1576.6 983.5 L1584.3 984.3 L1591.9 985.1 L1599.5 985.8 L1607.1 986.5 L1614.7 987.1 L1622.3 987.7 L1630 988.3 L1637.6 988.9 L1645.2 989.4 L1652.8 989.9 L1660.4 990.4 L1668 990.9 L1675.6 991.3 L1683.3 991.7 L1690.9 992.1 L1698.5 992.5 L1706.1 992.9 L1713.7 993.2 L1721.3 993.5 L1728.9 993.9 L1736.6 994.2 L1744.2 994.4 L1751.8 994.7 L1759.4 995 L1767 995.2 L1774.6 995.5 L1782.3 995.7 L1789.9 995.9 L1797.5 996.1 L1805.1 996.3 L1812.7 996.5 L1820.3 996.6 L1827.9 996.8 L1835.6 997 L1843.2 997.1 L1850.8 997.3 L1858.4 997.4 L1866 997.5 L1873.6 997.6 L1881.3 997.7 L1888.9 997.9 L1896.5 998 L1904.1 998 L1911.7 998.1 L1919.3 998.2 L1926.9 998.3 L1934.6 998.4 L1942.2 998.4 L1949.8 998.5 L1957.4 998.6 L1965 998.6 L1972.6 998.7 L1980.2 998.7 L1987.9 998.8 L1995.5 998.8 L2003.1 998.8 L2010.7 998.9 L2018.3 999.1 L2025.9 999.2" fill="none" stroke="#000" stroke-width="3" stroke-dasharray="10.5 4.7"/>
<line x1="1350.9" y1="850" x2="1350.9" y2="1080.7" stroke="#eb6235" stroke-width="2.6"/>
<line x1="1668.1" y1="875.1" x2="1668.1" y2="1080.7" stroke="#e19c24" stroke-width="2.6"/>
<line x1="1941" y1="875.1" x2="1941" y2="1080.7" stroke="#8fb032" stroke-width="2.6"/>
<line x1="1317.7" y1="569" x2="1362.5" y2="1082.7" stroke="#eb6235" stroke-width="4.7" stroke-dasharray="6.6 2.6"/>
<line x1="1333.5" y1="569" x2="1364.3" y2="1082.7" stroke="#eb6235" stroke-width="4.7" />
<line x1="1543.4" y1="569" x2="1693.4" y2="1082.7" stroke="#e19c24" stroke-width="4.7" stroke-dasharray="6.6 2.6"/>
<line x1="1582.8" y1="569" x2="1695.2" y2="1082.7" stroke="#e19c24" stroke-width="4.7" />
<line x1="1741.9" y1="569" x2="1976.1" y2="1082.7" stroke="#8fb032" stroke-width="4.7" stroke-dasharray="6.6 2.6"/>
<line x1="1794.4" y1="569" x2="1979.7" y2="1082.7" stroke="#8fb032" stroke-width="4.7" />
</g>
<line x1="1198.4" y1="571" x2="1198.4" y2="1080.7" stroke="#000" stroke-width="3.2"/>
<path d="M1183.7 1080.7 v-7.5 M1183.7 571 v7.5 M1213.8 1080.7 v-4.8 M1213.8 571 v4.8 M1243.9 1080.7 v-4.8 M1243.9 571 v4.8 M1273.9 1080.7 v-4.8 M1273.9 571 v4.8 M1304 1080.7 v-4.8 M1304 571 v4.8 M1334.1 1080.7 v-7.5 M1334.1 571 v7.5 M1364.2 1080.7 v-4.8 M1364.2 571 v4.8 M1394.3 1080.7 v-4.8 M1394.3 571 v4.8 M1424.3 1080.7 v-4.8 M1424.3 571 v4.8 M1454.4 1080.7 v-4.8 M1454.4 571 v4.8 M1484.5 1080.7 v-7.5 M1484.5 571 v7.5 M1514.6 1080.7 v-4.8 M1514.6 571 v4.8 M1544.7 1080.7 v-4.8 M1544.7 571 v4.8 M1574.7 1080.7 v-4.8 M1574.7 571 v4.8 M1604.8 1080.7 v-4.8 M1604.8 571 v4.8 M1634.9 1080.7 v-7.5 M1634.9 571 v7.5 M1665 1080.7 v-4.8 M1665 571 v4.8 M1695.1 1080.7 v-4.8 M1695.1 571 v4.8 M1725.1 1080.7 v-4.8 M1725.1 571 v4.8 M1755.2 1080.7 v-4.8 M1755.2 571 v4.8 M1785.3 1080.7 v-7.5 M1785.3 571 v7.5 M1815.4 1080.7 v-4.8 M1815.4 571 v4.8 M1845.5 1080.7 v-4.8 M1845.5 571 v4.8 M1875.5 1080.7 v-4.8 M1875.5 571 v4.8 M1905.6 1080.7 v-4.8 M1905.6 571 v4.8 M1935.7 1080.7 v-7.5 M1935.7 571 v7.5 M1965.8 1080.7 v-4.8 M1965.8 571 v4.8 M1995.9 1080.7 v-4.8 M1995.9 571 v4.8 M1166.6 1080.7 h7.5 M2013.4 1080.7 h-7.5 M1166.6 1055.2 h4.8 M2013.4 1055.2 h-4.8 M1166.6 1029.8 h4.8 M2013.4 1029.8 h-4.8 M1166.6 1004.3 h4.8 M2013.4 1004.3 h-4.8 M1166.6 978.9 h4.8 M2013.4 978.9 h-4.8 M1166.6 953.4 h7.5 M2013.4 953.4 h-7.5 M1166.6 927.9 h4.8 M2013.4 927.9 h-4.8 M1166.6 902.5 h4.8 M2013.4 902.5 h-4.8 M1166.6 877 h4.8 M2013.4 877 h-4.8 M1166.6 851.6 h4.8 M2013.4 851.6 h-4.8 M1166.6 826.1 h7.5 M2013.4 826.1 h-7.5 M1166.6 800.6 h4.8 M2013.4 800.6 h-4.8 M1166.6 775.2 h4.8 M2013.4 775.2 h-4.8 M1166.6 749.7 h4.8 M2013.4 749.7 h-4.8 M1166.6 724.3 h4.8 M2013.4 724.3 h-4.8 M1166.6 698.8 h7.5 M2013.4 698.8 h-7.5 M1166.6 673.3 h4.8 M2013.4 673.3 h-4.8 M1166.6 647.9 h4.8 M2013.4 647.9 h-4.8 M1166.6 622.4 h4.8 M2013.4 622.4 h-4.8 M1166.6 597 h4.8 M2013.4 597 h-4.8 M1166.6 571.5 h7.5 M2013.4 571.5 h-7.5" stroke="#000" stroke-width="2.04"/>
<rect x="1166.6" y="571" width="846.8" height="509.7" fill="none" stroke="#000" stroke-width="2.4"/>
<text x="1161.2" y="580.5" style="font-family:'Liberation Sans',sans-serif;font-size:26.8px" text-anchor="end" >0.20</text>
<text x="1161.2" y="707.8" style="font-family:'Liberation Sans',sans-serif;font-size:26.8px" text-anchor="end" >0.15</text>
<text x="1161.2" y="835.1" style="font-family:'Liberation Sans',sans-serif;font-size:26.8px" text-anchor="end" >0.10</text>
<text x="1161.2" y="962.4" style="font-family:'Liberation Sans',sans-serif;font-size:26.8px" text-anchor="end" >0.05</text>
<text x="1161.2" y="1089.7" style="font-family:'Liberation Sans',sans-serif;font-size:26.8px" text-anchor="end" >0.00</text>
<text x="1183.7" y="1111.4" style="font-family:'Liberation Sans',sans-serif;font-size:27px" text-anchor="middle" >0.5</text>
<text x="1334.1" y="1111.4" style="font-family:'Liberation Sans',sans-serif;font-size:27px" text-anchor="middle" >1.0</text>
<text x="1484.5" y="1111.4" style="font-family:'Liberation Sans',sans-serif;font-size:27px" text-anchor="middle" >1.5</text>
<text x="1634.9" y="1111.4" style="font-family:'Liberation Sans',sans-serif;font-size:27px" text-anchor="middle" >2.0</text>
<text x="1785.3" y="1111.4" style="font-family:'Liberation Sans',sans-serif;font-size:27px" text-anchor="middle" >2.5</text>
<text x="1935.7" y="1111.4" style="font-family:'Liberation Sans',sans-serif;font-size:27px" text-anchor="middle" >3.0</text>
<text x="1542" y="1149.1" style="font-family:'Liberation Serif',serif;font-size:36px" textLength="119.5" lengthAdjust="spacing" ><tspan font-style="italic">h</tspan> (mm)</text>
<text transform="translate(1088.9,880) rotate(-90)" x="0" y="0" style="font-family:'Liberation Serif',serif;font-size:36px" textLength="118" lengthAdjust="spacing" ><tspan font-style="italic">a</tspan> (mm)</text>
</svg></body></html>
